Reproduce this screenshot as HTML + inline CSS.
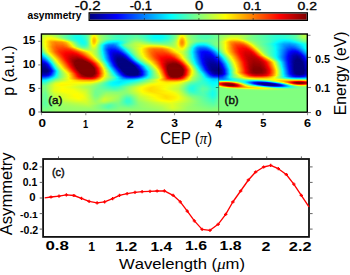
<!DOCTYPE html>
<html><head><meta charset="utf-8"><style>
html,body{margin:0;padding:0;background:#fff;width:350px;height:275px;overflow:hidden}
svg{display:block;font-family:"Liberation Sans",sans-serif;font-kerning:none}
</style></head><body><svg width="350" height="275" viewBox="0 0 350 275" font-family="Liberation Sans, sans-serif" fill="#000"><defs><linearGradient id="cb"><stop offset="0.0000" stop-color="#000080"/><stop offset="0.0312" stop-color="#00009f"/><stop offset="0.0625" stop-color="#0000bf"/><stop offset="0.0938" stop-color="#0000df"/><stop offset="0.1250" stop-color="#0000ff"/><stop offset="0.1562" stop-color="#0020ff"/><stop offset="0.1875" stop-color="#0040ff"/><stop offset="0.2188" stop-color="#0060ff"/><stop offset="0.2500" stop-color="#0080ff"/><stop offset="0.2812" stop-color="#009fff"/><stop offset="0.3125" stop-color="#00bfff"/><stop offset="0.3438" stop-color="#00dfff"/><stop offset="0.3750" stop-color="#00ffff"/><stop offset="0.4062" stop-color="#20ffdf"/><stop offset="0.4375" stop-color="#40ffbf"/><stop offset="0.4688" stop-color="#60ff9f"/><stop offset="0.5000" stop-color="#80ff80"/><stop offset="0.5312" stop-color="#9fff60"/><stop offset="0.5625" stop-color="#bfff40"/><stop offset="0.5938" stop-color="#dfff20"/><stop offset="0.6250" stop-color="#ffff00"/><stop offset="0.6562" stop-color="#ffdf00"/><stop offset="0.6875" stop-color="#ffbf00"/><stop offset="0.7188" stop-color="#ff9f00"/><stop offset="0.7500" stop-color="#ff7f00"/><stop offset="0.7812" stop-color="#ff6000"/><stop offset="0.8125" stop-color="#ff4000"/><stop offset="0.8438" stop-color="#ff2000"/><stop offset="0.8750" stop-color="#ff0000"/><stop offset="0.9062" stop-color="#df0000"/><stop offset="0.9375" stop-color="#bf0000"/><stop offset="0.9688" stop-color="#9f0000"/><stop offset="1.0000" stop-color="#800000"/></linearGradient></defs><rect x="89.9" y="13.5" width="216.8" height="6.2" fill="url(#cb)"/><rect x="89.15" y="12.85" width="218.2" height="7.5" fill="none" stroke="#000" stroke-width="1.3"/><line x1="144.4" y1="13.5" x2="144.4" y2="15" stroke="#222" stroke-width="0.8"/><line x1="144.4" y1="18.2" x2="144.4" y2="19.7" stroke="#222" stroke-width="0.8"/><line x1="198.9" y1="13.5" x2="198.9" y2="15" stroke="#222" stroke-width="0.8"/><line x1="198.9" y1="18.2" x2="198.9" y2="19.7" stroke="#222" stroke-width="0.8"/><line x1="253.2" y1="13.5" x2="253.2" y2="15" stroke="#222" stroke-width="0.8"/><line x1="253.2" y1="18.2" x2="253.2" y2="19.7" stroke="#222" stroke-width="0.8"/><text transform="matrix(0.7527 0 0 0.5936 74.723 9.681)" font-size="20" font-family="Liberation Sans, sans-serif" fill="#000" stroke="#000" stroke-width="0.520" stroke-linejoin="round">-0.2</text><text transform="matrix(0.6472 0 0 0.5936 129.717 9.681)" font-size="20" font-family="Liberation Sans, sans-serif" fill="#000" stroke="#000" stroke-width="0.564" stroke-linejoin="round">-0.1</text><text transform="matrix(0.7435 0 0 0.6007 195.105 9.780)" font-size="20" font-family="Liberation Sans, sans-serif" fill="#000" stroke="#000" stroke-width="0.521" stroke-linejoin="round">0</text><text transform="matrix(0.6564 0 0 0.5866 243.175 9.683)" font-size="20" font-family="Liberation Sans, sans-serif" fill="#000" stroke="#000" stroke-width="0.563" stroke-linejoin="round">0.1</text><text transform="matrix(0.7000 0 0 0.5866 297.540 9.683)" font-size="20" font-family="Liberation Sans, sans-serif" fill="#000" stroke="#000" stroke-width="0.544" stroke-linejoin="round">0.2</text><text transform="matrix(0.5110 0 0 0.5058 27.493 19.301)" font-size="20" font-family="Liberation Sans, sans-serif" font-weight="bold" fill="#000">asymmetry</text><defs><linearGradient id="g0" gradientUnits="objectBoundingBox"><stop offset="0.0019" stop-color="#afff50"/><stop offset="0.0245" stop-color="#bcff43"/><stop offset="0.0585" stop-color="#93ff6c"/><stop offset="0.1226" stop-color="#2dffd2"/><stop offset="0.1453" stop-color="#2bffd4"/><stop offset="0.1679" stop-color="#59ffa6"/><stop offset="0.1792" stop-color="#8aff75"/><stop offset="0.1906" stop-color="#d2ff2d"/><stop offset="0.1981" stop-color="#e5ff1a"/><stop offset="0.2094" stop-color="#bbff44"/><stop offset="0.2245" stop-color="#8fff70"/><stop offset="0.2774" stop-color="#4dffb2"/><stop offset="0.3113" stop-color="#49ffb6"/><stop offset="0.3566" stop-color="#5fffa0"/><stop offset="0.3906" stop-color="#3fffc0"/><stop offset="0.4283" stop-color="#13ffec"/><stop offset="0.4585" stop-color="#1cffe3"/><stop offset="0.4925" stop-color="#57ffa8"/><stop offset="0.5075" stop-color="#85ff7a"/><stop offset="0.5226" stop-color="#d4ff2b"/><stop offset="0.5302" stop-color="#e2ff1d"/><stop offset="0.5415" stop-color="#bbff44"/><stop offset="0.5566" stop-color="#8cff73"/><stop offset="0.6019" stop-color="#58ffa7"/><stop offset="0.6358" stop-color="#5effa1"/><stop offset="0.7189" stop-color="#abff54"/><stop offset="0.7566" stop-color="#a1ff5e"/><stop offset="0.8094" stop-color="#6eff91"/><stop offset="0.8887" stop-color="#37ffc8"/><stop offset="0.9340" stop-color="#45ffba"/><stop offset="0.9604" stop-color="#66ff99"/><stop offset="0.9868" stop-color="#b1ff4e"/><stop offset="0.9981" stop-color="#abff54"/></linearGradient><linearGradient id="g1" gradientUnits="objectBoundingBox"><stop offset="0.0019" stop-color="#b4ff4b"/><stop offset="0.0245" stop-color="#caff35"/><stop offset="0.0472" stop-color="#b0ff4f"/><stop offset="0.1226" stop-color="#22ffdd"/><stop offset="0.1453" stop-color="#1effe1"/><stop offset="0.1642" stop-color="#45ffba"/><stop offset="0.1755" stop-color="#75ff8a"/><stop offset="0.1906" stop-color="#e4ff1b"/><stop offset="0.1943" stop-color="#f6ff09"/><stop offset="0.1981" stop-color="#faff05"/><stop offset="0.2057" stop-color="#dcff23"/><stop offset="0.2170" stop-color="#a4ff5b"/><stop offset="0.2509" stop-color="#64ff9b"/><stop offset="0.2887" stop-color="#3fffc0"/><stop offset="0.3226" stop-color="#4affb5"/><stop offset="0.3566" stop-color="#5cffa3"/><stop offset="0.3830" stop-color="#43ffbc"/><stop offset="0.4245" stop-color="#08fff7"/><stop offset="0.4509" stop-color="#08fff7"/><stop offset="0.4811" stop-color="#37ffc8"/><stop offset="0.5038" stop-color="#76ff89"/><stop offset="0.5151" stop-color="#b5ff4a"/><stop offset="0.5226" stop-color="#e6ff19"/><stop offset="0.5302" stop-color="#f8ff07"/><stop offset="0.5377" stop-color="#dcff23"/><stop offset="0.5528" stop-color="#96ff69"/><stop offset="0.5906" stop-color="#5affa5"/><stop offset="0.6208" stop-color="#4dffb2"/><stop offset="0.6660" stop-color="#77ff88"/><stop offset="0.6698" stop-color="#86ff79"/><stop offset="0.7189" stop-color="#bbff44"/><stop offset="0.7491" stop-color="#b4ff4b"/><stop offset="0.8019" stop-color="#71ff8e"/><stop offset="0.8887" stop-color="#2effd1"/><stop offset="0.9302" stop-color="#3affc5"/><stop offset="0.9604" stop-color="#63ff9c"/><stop offset="0.9868" stop-color="#b6ff49"/><stop offset="0.9981" stop-color="#b0ff4f"/></linearGradient><linearGradient id="g2" gradientUnits="objectBoundingBox"><stop offset="0.0019" stop-color="#bcff43"/><stop offset="0.0208" stop-color="#deff21"/><stop offset="0.0396" stop-color="#d2ff2d"/><stop offset="0.0887" stop-color="#5bffa4"/><stop offset="0.1264" stop-color="#16ffe9"/><stop offset="0.1453" stop-color="#15ffea"/><stop offset="0.1642" stop-color="#3effc1"/><stop offset="0.1755" stop-color="#74ff8b"/><stop offset="0.1906" stop-color="#f7ff08"/><stop offset="0.1981" stop-color="#ffee00"/><stop offset="0.2019" stop-color="#fffb00"/><stop offset="0.2170" stop-color="#a9ff56"/><stop offset="0.2396" stop-color="#75ff8a"/><stop offset="0.2811" stop-color="#3fffc0"/><stop offset="0.3113" stop-color="#3effc1"/><stop offset="0.3566" stop-color="#5effa1"/><stop offset="0.3830" stop-color="#42ffbd"/><stop offset="0.4245" stop-color="#01fffe"/><stop offset="0.4547" stop-color="#05fffa"/><stop offset="0.4849" stop-color="#3cffc3"/><stop offset="0.5038" stop-color="#79ff86"/><stop offset="0.5151" stop-color="#c1ff3e"/><stop offset="0.5226" stop-color="#fbff04"/><stop offset="0.5302" stop-color="#ffef00"/><stop offset="0.5340" stop-color="#fffb00"/><stop offset="0.5491" stop-color="#a9ff56"/><stop offset="0.5642" stop-color="#7fff80"/><stop offset="0.6019" stop-color="#4cffb3"/><stop offset="0.6321" stop-color="#4fffb0"/><stop offset="0.6660" stop-color="#75ff8a"/><stop offset="0.6698" stop-color="#88ff77"/><stop offset="0.7151" stop-color="#c8ff37"/><stop offset="0.7453" stop-color="#c4ff3b"/><stop offset="0.7943" stop-color="#77ff88"/><stop offset="0.8811" stop-color="#2bffd4"/><stop offset="0.9189" stop-color="#2effd1"/><stop offset="0.9566" stop-color="#57ffa8"/><stop offset="0.9868" stop-color="#b5ff4a"/><stop offset="0.9981" stop-color="#afff50"/></linearGradient><linearGradient id="g3" gradientUnits="objectBoundingBox"><stop offset="0.0019" stop-color="#c5ff3a"/><stop offset="0.0208" stop-color="#f0ff0f"/><stop offset="0.0358" stop-color="#eeff11"/><stop offset="0.0547" stop-color="#c7ff38"/><stop offset="0.0849" stop-color="#65ff9a"/><stop offset="0.1264" stop-color="#14ffeb"/><stop offset="0.1453" stop-color="#0ffff0"/><stop offset="0.1604" stop-color="#2bffd4"/><stop offset="0.1717" stop-color="#5cffa3"/><stop offset="0.1792" stop-color="#94ff6b"/><stop offset="0.1868" stop-color="#e4ff1b"/><stop offset="0.1906" stop-color="#fff500"/><stop offset="0.1943" stop-color="#ffde00"/><stop offset="0.1981" stop-color="#ffda00"/><stop offset="0.2057" stop-color="#fbff04"/><stop offset="0.2132" stop-color="#c2ff3d"/><stop offset="0.2245" stop-color="#95ff6a"/><stop offset="0.2660" stop-color="#4dffb2"/><stop offset="0.2962" stop-color="#39ffc6"/><stop offset="0.3340" stop-color="#54ffab"/><stop offset="0.3604" stop-color="#63ff9c"/><stop offset="0.3868" stop-color="#3fffc0"/><stop offset="0.4245" stop-color="#01fffe"/><stop offset="0.4547" stop-color="#05fffa"/><stop offset="0.4849" stop-color="#3dffc2"/><stop offset="0.5038" stop-color="#7eff81"/><stop offset="0.5151" stop-color="#d0ff2f"/><stop offset="0.5189" stop-color="#f2ff0d"/><stop offset="0.5226" stop-color="#ffed00"/><stop offset="0.5264" stop-color="#ffd900"/><stop offset="0.5302" stop-color="#ffd700"/><stop offset="0.5377" stop-color="#fffe00"/><stop offset="0.5491" stop-color="#b0ff4f"/><stop offset="0.5642" stop-color="#81ff7e"/><stop offset="0.5981" stop-color="#4fffb0"/><stop offset="0.6283" stop-color="#4cffb3"/><stop offset="0.6660" stop-color="#75ff8a"/><stop offset="0.6698" stop-color="#8dff72"/><stop offset="0.7113" stop-color="#d9ff26"/><stop offset="0.7377" stop-color="#dbff24"/><stop offset="0.7604" stop-color="#b1ff4e"/><stop offset="0.7868" stop-color="#7cff83"/><stop offset="0.8736" stop-color="#30ffcf"/><stop offset="0.9113" stop-color="#2affd5"/><stop offset="0.9528" stop-color="#50ffaf"/><stop offset="0.9717" stop-color="#82ff7d"/><stop offset="0.9868" stop-color="#adff52"/><stop offset="0.9981" stop-color="#a8ff57"/></linearGradient><linearGradient id="g4" gradientUnits="objectBoundingBox"><stop offset="0.0019" stop-color="#caff35"/><stop offset="0.0208" stop-color="#fdff02"/><stop offset="0.0358" stop-color="#fffa00"/><stop offset="0.0547" stop-color="#e5ff1a"/><stop offset="0.0736" stop-color="#abff54"/><stop offset="0.1000" stop-color="#4bffb4"/><stop offset="0.1302" stop-color="#12ffed"/><stop offset="0.1491" stop-color="#0efff1"/><stop offset="0.1642" stop-color="#33ffcc"/><stop offset="0.1755" stop-color="#75ff8a"/><stop offset="0.1868" stop-color="#f0ff0f"/><stop offset="0.1906" stop-color="#ffe500"/><stop offset="0.1943" stop-color="#ffcc00"/><stop offset="0.1981" stop-color="#ffc800"/><stop offset="0.2019" stop-color="#ffd900"/><stop offset="0.2057" stop-color="#fff700"/><stop offset="0.2170" stop-color="#b4ff4b"/><stop offset="0.2321" stop-color="#88ff77"/><stop offset="0.2736" stop-color="#49ffb6"/><stop offset="0.3038" stop-color="#3fffc0"/><stop offset="0.3566" stop-color="#6eff91"/><stop offset="0.3792" stop-color="#57ffa8"/><stop offset="0.4170" stop-color="#10ffef"/><stop offset="0.4434" stop-color="#04fffb"/><stop offset="0.4736" stop-color="#28ffd7"/><stop offset="0.4962" stop-color="#65ff9a"/><stop offset="0.5075" stop-color="#9dff62"/><stop offset="0.5189" stop-color="#fff900"/><stop offset="0.5226" stop-color="#ffd700"/><stop offset="0.5264" stop-color="#ffc200"/><stop offset="0.5302" stop-color="#ffbf00"/><stop offset="0.5340" stop-color="#ffcf00"/><stop offset="0.5377" stop-color="#ffec00"/><stop offset="0.5415" stop-color="#f1ff0e"/><stop offset="0.5491" stop-color="#b9ff46"/><stop offset="0.5604" stop-color="#8eff71"/><stop offset="0.5906" stop-color="#5bffa4"/><stop offset="0.6208" stop-color="#4dffb2"/><stop offset="0.6660" stop-color="#77ff88"/><stop offset="0.6698" stop-color="#92ff6d"/><stop offset="0.7075" stop-color="#e9ff16"/><stop offset="0.7340" stop-color="#efff10"/><stop offset="0.7528" stop-color="#c8ff37"/><stop offset="0.7755" stop-color="#8aff75"/><stop offset="0.8094" stop-color="#6bff94"/><stop offset="0.8962" stop-color="#20ffdf"/><stop offset="0.9302" stop-color="#2affd5"/><stop offset="0.9604" stop-color="#55ffaa"/><stop offset="0.9868" stop-color="#9dff62"/><stop offset="0.9981" stop-color="#9cff63"/></linearGradient><linearGradient id="g5" gradientUnits="objectBoundingBox"><stop offset="0.0019" stop-color="#cdff32"/><stop offset="0.0170" stop-color="#fcff03"/><stop offset="0.0358" stop-color="#ffe900"/><stop offset="0.0585" stop-color="#f9ff06"/><stop offset="0.0774" stop-color="#c9ff36"/><stop offset="0.1113" stop-color="#42ffbd"/><stop offset="0.1340" stop-color="#12ffed"/><stop offset="0.1491" stop-color="#0bfff4"/><stop offset="0.1642" stop-color="#2cffd3"/><stop offset="0.1717" stop-color="#55ffaa"/><stop offset="0.1792" stop-color="#9aff65"/><stop offset="0.1868" stop-color="#f9ff06"/><stop offset="0.1943" stop-color="#ffc000"/><stop offset="0.1981" stop-color="#ffbc00"/><stop offset="0.2019" stop-color="#ffce00"/><stop offset="0.2057" stop-color="#ffee00"/><stop offset="0.2094" stop-color="#eeff11"/><stop offset="0.2170" stop-color="#b8ff47"/><stop offset="0.2321" stop-color="#84ff7b"/><stop offset="0.2585" stop-color="#4cffb3"/><stop offset="0.2887" stop-color="#35ffca"/><stop offset="0.3226" stop-color="#54ffab"/><stop offset="0.3566" stop-color="#7bff84"/><stop offset="0.3755" stop-color="#6bff94"/><stop offset="0.4170" stop-color="#1dffe2"/><stop offset="0.4434" stop-color="#12ffed"/><stop offset="0.4736" stop-color="#33ffcc"/><stop offset="0.4962" stop-color="#6eff91"/><stop offset="0.5075" stop-color="#a8ff57"/><stop offset="0.5151" stop-color="#eeff11"/><stop offset="0.5189" stop-color="#ffe700"/><stop offset="0.5226" stop-color="#ffc300"/><stop offset="0.5264" stop-color="#ffac00"/><stop offset="0.5302" stop-color="#ffaa00"/><stop offset="0.5340" stop-color="#ffbc00"/><stop offset="0.5415" stop-color="#feff01"/><stop offset="0.5491" stop-color="#c1ff3e"/><stop offset="0.5604" stop-color="#94ff6b"/><stop offset="0.5868" stop-color="#66ff99"/><stop offset="0.6170" stop-color="#55ffaa"/><stop offset="0.6660" stop-color="#7bff84"/><stop offset="0.6698" stop-color="#90ff6f"/><stop offset="0.6887" stop-color="#c7ff38"/><stop offset="0.7038" stop-color="#fcff03"/><stop offset="0.7226" stop-color="#ffea00"/><stop offset="0.7415" stop-color="#fff800"/><stop offset="0.7491" stop-color="#f2ff0d"/><stop offset="0.7792" stop-color="#8eff71"/><stop offset="0.8094" stop-color="#6eff91"/><stop offset="0.8698" stop-color="#31ffce"/><stop offset="0.9075" stop-color="#0afff5"/><stop offset="0.9340" stop-color="#14ffeb"/><stop offset="0.9642" stop-color="#4dffb2"/><stop offset="0.9868" stop-color="#89ff76"/><stop offset="0.9981" stop-color="#8dff72"/></linearGradient><linearGradient id="g6" gradientUnits="objectBoundingBox"><stop offset="0.0019" stop-color="#d2ff2d"/><stop offset="0.0132" stop-color="#fdff02"/><stop offset="0.0321" stop-color="#ffc900"/><stop offset="0.0509" stop-color="#ffc800"/><stop offset="0.0736" stop-color="#ffec00"/><stop offset="0.0811" stop-color="#f9ff06"/><stop offset="0.1151" stop-color="#53ffac"/><stop offset="0.1340" stop-color="#1bffe4"/><stop offset="0.1491" stop-color="#0afff5"/><stop offset="0.1604" stop-color="#19ffe6"/><stop offset="0.1717" stop-color="#50ffaf"/><stop offset="0.1792" stop-color="#9aff65"/><stop offset="0.1868" stop-color="#fdff02"/><stop offset="0.1906" stop-color="#ffd500"/><stop offset="0.1943" stop-color="#ffba00"/><stop offset="0.1981" stop-color="#ffb700"/><stop offset="0.2019" stop-color="#ffca00"/><stop offset="0.2057" stop-color="#ffea00"/><stop offset="0.2094" stop-color="#efff10"/><stop offset="0.2208" stop-color="#a1ff5e"/><stop offset="0.2472" stop-color="#41ffbe"/><stop offset="0.2698" stop-color="#1dffe2"/><stop offset="0.2887" stop-color="#1cffe3"/><stop offset="0.3491" stop-color="#85ff7a"/><stop offset="0.3679" stop-color="#86ff79"/><stop offset="0.4170" stop-color="#2effd1"/><stop offset="0.4472" stop-color="#25ffda"/><stop offset="0.4774" stop-color="#48ffb7"/><stop offset="0.5000" stop-color="#88ff77"/><stop offset="0.5075" stop-color="#b3ff4c"/><stop offset="0.5151" stop-color="#fcff03"/><stop offset="0.5226" stop-color="#ffb200"/><stop offset="0.5264" stop-color="#ff9b00"/><stop offset="0.5302" stop-color="#ff9900"/><stop offset="0.5340" stop-color="#ffac00"/><stop offset="0.5415" stop-color="#fff400"/><stop offset="0.5491" stop-color="#c9ff36"/><stop offset="0.5604" stop-color="#9aff65"/><stop offset="0.5906" stop-color="#6aff95"/><stop offset="0.6245" stop-color="#61ff9e"/><stop offset="0.6660" stop-color="#7fff80"/><stop offset="0.6736" stop-color="#9cff63"/><stop offset="0.6925" stop-color="#e6ff19"/><stop offset="0.7000" stop-color="#fff500"/><stop offset="0.7151" stop-color="#ffc900"/><stop offset="0.7377" stop-color="#ffc800"/><stop offset="0.7528" stop-color="#ffee00"/><stop offset="0.7566" stop-color="#fffd00"/><stop offset="0.7830" stop-color="#97ff68"/><stop offset="0.8057" stop-color="#74ff8b"/><stop offset="0.8585" stop-color="#43ffbc"/><stop offset="0.9000" stop-color="#00ffff"/><stop offset="0.9226" stop-color="#00f3ff"/><stop offset="0.9415" stop-color="#09fff6"/><stop offset="0.9868" stop-color="#77ff88"/><stop offset="0.9981" stop-color="#80ff7f"/></linearGradient><linearGradient id="g7" gradientUnits="objectBoundingBox"><stop offset="0.0019" stop-color="#d3ff2c"/><stop offset="0.0132" stop-color="#fffa00"/><stop offset="0.0321" stop-color="#ffb000"/><stop offset="0.0472" stop-color="#ff9a00"/><stop offset="0.0736" stop-color="#ffb000"/><stop offset="0.0887" stop-color="#ffe000"/><stop offset="0.0962" stop-color="#f6ff09"/><stop offset="0.1226" stop-color="#58ffa7"/><stop offset="0.1377" stop-color="#1fffe0"/><stop offset="0.1528" stop-color="#0afff5"/><stop offset="0.1642" stop-color="#20ffdf"/><stop offset="0.1717" stop-color="#4bffb4"/><stop offset="0.1792" stop-color="#97ff68"/><stop offset="0.1868" stop-color="#fdff02"/><stop offset="0.1906" stop-color="#ffd600"/><stop offset="0.1943" stop-color="#ffbc00"/><stop offset="0.1981" stop-color="#ffb900"/><stop offset="0.2019" stop-color="#ffcd00"/><stop offset="0.2057" stop-color="#ffef00"/><stop offset="0.2094" stop-color="#eaff15"/><stop offset="0.2208" stop-color="#95ff6a"/><stop offset="0.2434" stop-color="#2fffd0"/><stop offset="0.2585" stop-color="#08fff7"/><stop offset="0.2849" stop-color="#00fdff"/><stop offset="0.3000" stop-color="#1bffe4"/><stop offset="0.3377" stop-color="#81ff7e"/><stop offset="0.3604" stop-color="#9cff63"/><stop offset="0.3830" stop-color="#82ff7d"/><stop offset="0.4170" stop-color="#47ffb8"/><stop offset="0.4472" stop-color="#3bffc4"/><stop offset="0.4774" stop-color="#57ffa8"/><stop offset="0.4962" stop-color="#84ff7b"/><stop offset="0.5075" stop-color="#bdff42"/><stop offset="0.5151" stop-color="#fff800"/><stop offset="0.5226" stop-color="#ffa700"/><stop offset="0.5264" stop-color="#ff9000"/><stop offset="0.5302" stop-color="#ff8e00"/><stop offset="0.5340" stop-color="#ffa200"/><stop offset="0.5415" stop-color="#ffec00"/><stop offset="0.5453" stop-color="#edff12"/><stop offset="0.5528" stop-color="#baff45"/><stop offset="0.5717" stop-color="#83ff7c"/><stop offset="0.5981" stop-color="#5bffa4"/><stop offset="0.6245" stop-color="#5cffa3"/><stop offset="0.6660" stop-color="#83ff7c"/><stop offset="0.6698" stop-color="#9dff62"/><stop offset="0.6849" stop-color="#d7ff28"/><stop offset="0.6925" stop-color="#feff01"/><stop offset="0.7113" stop-color="#ffac00"/><stop offset="0.7264" stop-color="#ff9600"/><stop offset="0.7453" stop-color="#ffa300"/><stop offset="0.7604" stop-color="#ffd700"/><stop offset="0.7679" stop-color="#fffe00"/><stop offset="0.7868" stop-color="#a7ff58"/><stop offset="0.8057" stop-color="#7cff83"/><stop offset="0.8585" stop-color="#44ffbb"/><stop offset="0.8925" stop-color="#00feff"/><stop offset="0.9151" stop-color="#00ddff"/><stop offset="0.9340" stop-color="#00e3ff"/><stop offset="0.9528" stop-color="#07fff8"/><stop offset="0.9906" stop-color="#69ff96"/><stop offset="0.9981" stop-color="#71ff8e"/></linearGradient><linearGradient id="g8" gradientUnits="objectBoundingBox"><stop offset="0.0019" stop-color="#d1ff2e"/><stop offset="0.0132" stop-color="#fffa00"/><stop offset="0.0358" stop-color="#ff9a00"/><stop offset="0.0509" stop-color="#ff8000"/><stop offset="0.0774" stop-color="#ff9100"/><stop offset="0.0887" stop-color="#ffb100"/><stop offset="0.1038" stop-color="#faff05"/><stop offset="0.1264" stop-color="#64ff9b"/><stop offset="0.1415" stop-color="#20ffdf"/><stop offset="0.1528" stop-color="#0cfff3"/><stop offset="0.1642" stop-color="#1dffe2"/><stop offset="0.1717" stop-color="#48ffb7"/><stop offset="0.1792" stop-color="#94ff6b"/><stop offset="0.1868" stop-color="#f7ff08"/><stop offset="0.1943" stop-color="#ffc500"/><stop offset="0.1981" stop-color="#ffc400"/><stop offset="0.2019" stop-color="#ffd800"/><stop offset="0.2057" stop-color="#fff900"/><stop offset="0.2208" stop-color="#84ff7b"/><stop offset="0.2434" stop-color="#0afff5"/><stop offset="0.2509" stop-color="#00efff"/><stop offset="0.2698" stop-color="#00d7ff"/><stop offset="0.2849" stop-color="#00e0ff"/><stop offset="0.2962" stop-color="#02fffd"/><stop offset="0.3264" stop-color="#70ff8f"/><stop offset="0.3528" stop-color="#a8ff57"/><stop offset="0.3717" stop-color="#abff54"/><stop offset="0.4170" stop-color="#66ff99"/><stop offset="0.4547" stop-color="#56ffa9"/><stop offset="0.4811" stop-color="#6cff93"/><stop offset="0.5000" stop-color="#9cff63"/><stop offset="0.5075" stop-color="#c5ff3a"/><stop offset="0.5113" stop-color="#e5ff1a"/><stop offset="0.5151" stop-color="#fff200"/><stop offset="0.5226" stop-color="#ffa200"/><stop offset="0.5264" stop-color="#ff8c00"/><stop offset="0.5302" stop-color="#ff8a00"/><stop offset="0.5340" stop-color="#ff9e00"/><stop offset="0.5415" stop-color="#ffe800"/><stop offset="0.5453" stop-color="#f1ff0e"/><stop offset="0.5528" stop-color="#bcff43"/><stop offset="0.5830" stop-color="#54ffab"/><stop offset="0.6019" stop-color="#38ffc7"/><stop offset="0.6208" stop-color="#40ffbf"/><stop offset="0.6547" stop-color="#7eff81"/><stop offset="0.6660" stop-color="#87ff78"/><stop offset="0.6698" stop-color="#a1ff5e"/><stop offset="0.6849" stop-color="#dfff20"/><stop offset="0.6925" stop-color="#fff600"/><stop offset="0.7113" stop-color="#ff9700"/><stop offset="0.7264" stop-color="#ff7500"/><stop offset="0.7453" stop-color="#ff7900"/><stop offset="0.7604" stop-color="#ffa500"/><stop offset="0.7755" stop-color="#fff900"/><stop offset="0.7943" stop-color="#a5ff5a"/><stop offset="0.8132" stop-color="#79ff86"/><stop offset="0.8585" stop-color="#3fffc0"/><stop offset="0.8849" stop-color="#02fffd"/><stop offset="0.9151" stop-color="#00c6ff"/><stop offset="0.9340" stop-color="#00c5ff"/><stop offset="0.9566" stop-color="#00eeff"/><stop offset="0.9679" stop-color="#0ffff0"/><stop offset="0.9981" stop-color="#59ffa6"/></linearGradient><linearGradient id="g9" gradientUnits="objectBoundingBox"><stop offset="0.0019" stop-color="#ceff31"/><stop offset="0.0132" stop-color="#ffff00"/><stop offset="0.0358" stop-color="#ff9900"/><stop offset="0.0509" stop-color="#ff7900"/><stop offset="0.0774" stop-color="#ff8100"/><stop offset="0.0925" stop-color="#ffab00"/><stop offset="0.1075" stop-color="#faff05"/><stop offset="0.1302" stop-color="#62ff9d"/><stop offset="0.1453" stop-color="#20ffdf"/><stop offset="0.1566" stop-color="#11ffee"/><stop offset="0.1642" stop-color="#1fffe0"/><stop offset="0.1717" stop-color="#48ffb7"/><stop offset="0.1792" stop-color="#91ff6e"/><stop offset="0.1868" stop-color="#efff10"/><stop offset="0.1906" stop-color="#ffe800"/><stop offset="0.1943" stop-color="#ffd300"/><stop offset="0.1981" stop-color="#ffd300"/><stop offset="0.2057" stop-color="#f5ff0a"/><stop offset="0.2208" stop-color="#6dff92"/><stop offset="0.2358" stop-color="#06fff9"/><stop offset="0.2509" stop-color="#00c2ff"/><stop offset="0.2698" stop-color="#00aeff"/><stop offset="0.2811" stop-color="#00bdff"/><stop offset="0.2962" stop-color="#00feff"/><stop offset="0.3189" stop-color="#69ff96"/><stop offset="0.3491" stop-color="#aeff51"/><stop offset="0.3679" stop-color="#bfff40"/><stop offset="0.4245" stop-color="#7fff80"/><stop offset="0.4660" stop-color="#6eff91"/><stop offset="0.4887" stop-color="#85ff7a"/><stop offset="0.5038" stop-color="#b4ff4b"/><stop offset="0.5113" stop-color="#e9ff16"/><stop offset="0.5151" stop-color="#fff000"/><stop offset="0.5226" stop-color="#ffa400"/><stop offset="0.5264" stop-color="#ff8f00"/><stop offset="0.5302" stop-color="#ff8e00"/><stop offset="0.5340" stop-color="#ffa200"/><stop offset="0.5415" stop-color="#ffea00"/><stop offset="0.5453" stop-color="#efff10"/><stop offset="0.5566" stop-color="#a4ff5b"/><stop offset="0.5830" stop-color="#32ffcd"/><stop offset="0.5981" stop-color="#18ffe7"/><stop offset="0.6170" stop-color="#20ffdf"/><stop offset="0.6509" stop-color="#79ff86"/><stop offset="0.6660" stop-color="#8aff75"/><stop offset="0.6736" stop-color="#acff53"/><stop offset="0.6925" stop-color="#fff900"/><stop offset="0.7151" stop-color="#ff8100"/><stop offset="0.7302" stop-color="#ff5d00"/><stop offset="0.7491" stop-color="#ff5e00"/><stop offset="0.7604" stop-color="#ff7b00"/><stop offset="0.7755" stop-color="#ffce00"/><stop offset="0.7830" stop-color="#feff01"/><stop offset="0.7981" stop-color="#abff54"/><stop offset="0.8132" stop-color="#7eff81"/><stop offset="0.8585" stop-color="#35ffca"/><stop offset="0.8811" stop-color="#00fbff"/><stop offset="0.9113" stop-color="#00b3ff"/><stop offset="0.9340" stop-color="#00a6ff"/><stop offset="0.9566" stop-color="#00caff"/><stop offset="0.9755" stop-color="#00feff"/><stop offset="0.9981" stop-color="#3cffc3"/></linearGradient><linearGradient id="g10" gradientUnits="objectBoundingBox"><stop offset="0.0019" stop-color="#caff35"/><stop offset="0.0132" stop-color="#fcff03"/><stop offset="0.0396" stop-color="#ff8a00"/><stop offset="0.0547" stop-color="#ff6e00"/><stop offset="0.0811" stop-color="#ff7600"/><stop offset="0.0925" stop-color="#ff9600"/><stop offset="0.1113" stop-color="#f8ff07"/><stop offset="0.1340" stop-color="#61ff9e"/><stop offset="0.1491" stop-color="#25ffda"/><stop offset="0.1604" stop-color="#1fffe0"/><stop offset="0.1679" stop-color="#36ffc9"/><stop offset="0.1755" stop-color="#6bff94"/><stop offset="0.1868" stop-color="#e5ff1a"/><stop offset="0.1906" stop-color="#fff700"/><stop offset="0.1943" stop-color="#ffe600"/><stop offset="0.1981" stop-color="#ffe800"/><stop offset="0.2019" stop-color="#fffd00"/><stop offset="0.2283" stop-color="#11ffee"/><stop offset="0.2321" stop-color="#00f3ff"/><stop offset="0.2434" stop-color="#00acff"/><stop offset="0.2547" stop-color="#008aff"/><stop offset="0.2698" stop-color="#0086ff"/><stop offset="0.2811" stop-color="#00a7ff"/><stop offset="0.2962" stop-color="#08fff7"/><stop offset="0.3113" stop-color="#5fffa0"/><stop offset="0.3340" stop-color="#99ff66"/><stop offset="0.3679" stop-color="#d1ff2e"/><stop offset="0.3981" stop-color="#c1ff3e"/><stop offset="0.4736" stop-color="#86ff79"/><stop offset="0.4925" stop-color="#96ff69"/><stop offset="0.5038" stop-color="#b7ff48"/><stop offset="0.5113" stop-color="#e8ff17"/><stop offset="0.5151" stop-color="#fff300"/><stop offset="0.5226" stop-color="#ffae00"/><stop offset="0.5264" stop-color="#ff9b00"/><stop offset="0.5302" stop-color="#ff9a00"/><stop offset="0.5340" stop-color="#ffac00"/><stop offset="0.5415" stop-color="#fff100"/><stop offset="0.5453" stop-color="#e9ff16"/><stop offset="0.5566" stop-color="#99ff66"/><stop offset="0.5830" stop-color="#0efff1"/><stop offset="0.5906" stop-color="#00f9ff"/><stop offset="0.6094" stop-color="#00f3ff"/><stop offset="0.6208" stop-color="#08fff7"/><stop offset="0.6509" stop-color="#73ff8c"/><stop offset="0.6660" stop-color="#8aff75"/><stop offset="0.6887" stop-color="#ecff13"/><stop offset="0.6925" stop-color="#fffd00"/><stop offset="0.7151" stop-color="#ff7b00"/><stop offset="0.7302" stop-color="#ff4a00"/><stop offset="0.7491" stop-color="#ff4100"/><stop offset="0.7604" stop-color="#ff5300"/><stop offset="0.7717" stop-color="#ff8700"/><stop offset="0.7868" stop-color="#fff000"/><stop offset="0.7906" stop-color="#f3ff0c"/><stop offset="0.8057" stop-color="#a0ff5f"/><stop offset="0.8208" stop-color="#75ff8a"/><stop offset="0.8623" stop-color="#2affd5"/><stop offset="0.8774" stop-color="#00ffff"/><stop offset="0.9113" stop-color="#00a3ff"/><stop offset="0.9340" stop-color="#008eff"/><stop offset="0.9566" stop-color="#00adff"/><stop offset="0.9830" stop-color="#00fbff"/><stop offset="0.9981" stop-color="#28ffd7"/></linearGradient><linearGradient id="g11" gradientUnits="objectBoundingBox"><stop offset="0.0019" stop-color="#c4ff3b"/><stop offset="0.0132" stop-color="#faff05"/><stop offset="0.0396" stop-color="#ff8700"/><stop offset="0.0547" stop-color="#ff6500"/><stop offset="0.0774" stop-color="#ff6200"/><stop offset="0.0925" stop-color="#ff8100"/><stop offset="0.1075" stop-color="#ffd300"/><stop offset="0.1151" stop-color="#f5ff0a"/><stop offset="0.1340" stop-color="#76ff89"/><stop offset="0.1491" stop-color="#38ffc7"/><stop offset="0.1604" stop-color="#30ffcf"/><stop offset="0.1679" stop-color="#43ffbc"/><stop offset="0.1755" stop-color="#71ff8e"/><stop offset="0.1906" stop-color="#f8ff07"/><stop offset="0.1981" stop-color="#fffd00"/><stop offset="0.2019" stop-color="#edff12"/><stop offset="0.2245" stop-color="#1bffe4"/><stop offset="0.2283" stop-color="#00f8ff"/><stop offset="0.2396" stop-color="#00a0ff"/><stop offset="0.2509" stop-color="#0070ff"/><stop offset="0.2660" stop-color="#0065ff"/><stop offset="0.2774" stop-color="#007fff"/><stop offset="0.2887" stop-color="#00c5ff"/><stop offset="0.2962" stop-color="#01fffe"/><stop offset="0.3113" stop-color="#61ff9e"/><stop offset="0.3264" stop-color="#8eff71"/><stop offset="0.3792" stop-color="#e8ff17"/><stop offset="0.4094" stop-color="#edff12"/><stop offset="0.4472" stop-color="#d4ff2b"/><stop offset="0.4811" stop-color="#9eff61"/><stop offset="0.4962" stop-color="#a6ff59"/><stop offset="0.5075" stop-color="#ccff33"/><stop offset="0.5151" stop-color="#fffb00"/><stop offset="0.5226" stop-color="#ffbe00"/><stop offset="0.5264" stop-color="#ffad00"/><stop offset="0.5302" stop-color="#ffad00"/><stop offset="0.5340" stop-color="#ffbd00"/><stop offset="0.5415" stop-color="#fffd00"/><stop offset="0.5566" stop-color="#8fff70"/><stop offset="0.5792" stop-color="#00feff"/><stop offset="0.5906" stop-color="#00d3ff"/><stop offset="0.6094" stop-color="#00cbff"/><stop offset="0.6245" stop-color="#00edff"/><stop offset="0.6283" stop-color="#00fcff"/><stop offset="0.6547" stop-color="#70ff8f"/><stop offset="0.6660" stop-color="#87ff78"/><stop offset="0.6887" stop-color="#eaff15"/><stop offset="0.6925" stop-color="#ffff00"/><stop offset="0.7189" stop-color="#ff6700"/><stop offset="0.7340" stop-color="#ff3700"/><stop offset="0.7528" stop-color="#ff2c00"/><stop offset="0.7642" stop-color="#ff3e00"/><stop offset="0.7755" stop-color="#ff7300"/><stop offset="0.7943" stop-color="#feff01"/><stop offset="0.8094" stop-color="#a3ff5c"/><stop offset="0.8245" stop-color="#76ff89"/><stop offset="0.8623" stop-color="#30ffcf"/><stop offset="0.8811" stop-color="#00f9ff"/><stop offset="0.9151" stop-color="#0094ff"/><stop offset="0.9340" stop-color="#007dff"/><stop offset="0.9528" stop-color="#0090ff"/><stop offset="0.9868" stop-color="#00fcff"/><stop offset="0.9981" stop-color="#22ffdd"/></linearGradient><linearGradient id="g12" gradientUnits="objectBoundingBox"><stop offset="0.0019" stop-color="#bcff43"/><stop offset="0.0132" stop-color="#f8ff07"/><stop offset="0.0396" stop-color="#ff8200"/><stop offset="0.0547" stop-color="#ff5b00"/><stop offset="0.0811" stop-color="#ff5600"/><stop offset="0.0962" stop-color="#ff7c00"/><stop offset="0.1113" stop-color="#ffd500"/><stop offset="0.1151" stop-color="#fff100"/><stop offset="0.1189" stop-color="#f2ff0d"/><stop offset="0.1340" stop-color="#8dff72"/><stop offset="0.1491" stop-color="#4fffb0"/><stop offset="0.1604" stop-color="#45ffba"/><stop offset="0.1717" stop-color="#65ff9a"/><stop offset="0.1906" stop-color="#e9ff16"/><stop offset="0.1943" stop-color="#f3ff0c"/><stop offset="0.1981" stop-color="#efff10"/><stop offset="0.2057" stop-color="#c2ff3d"/><stop offset="0.2245" stop-color="#17ffe8"/><stop offset="0.2283" stop-color="#00f2ff"/><stop offset="0.2396" stop-color="#0094ff"/><stop offset="0.2509" stop-color="#005eff"/><stop offset="0.2660" stop-color="#0051ff"/><stop offset="0.2774" stop-color="#0066ff"/><stop offset="0.2887" stop-color="#00a4ff"/><stop offset="0.3000" stop-color="#00fbff"/><stop offset="0.3151" stop-color="#5fffa0"/><stop offset="0.3302" stop-color="#90ff6f"/><stop offset="0.3906" stop-color="#fffb00"/><stop offset="0.4132" stop-color="#ffe000"/><stop offset="0.4472" stop-color="#ffed00"/><stop offset="0.4585" stop-color="#fbff04"/><stop offset="0.4849" stop-color="#b8ff47"/><stop offset="0.5000" stop-color="#b5ff4a"/><stop offset="0.5113" stop-color="#dfff20"/><stop offset="0.5151" stop-color="#f8ff07"/><stop offset="0.5264" stop-color="#ffc400"/><stop offset="0.5302" stop-color="#ffc400"/><stop offset="0.5377" stop-color="#ffed00"/><stop offset="0.5415" stop-color="#f2ff0d"/><stop offset="0.5717" stop-color="#14ffeb"/><stop offset="0.5755" stop-color="#00f8ff"/><stop offset="0.5868" stop-color="#00b9ff"/><stop offset="0.5981" stop-color="#00a1ff"/><stop offset="0.6132" stop-color="#00a5ff"/><stop offset="0.6245" stop-color="#00c4ff"/><stop offset="0.6358" stop-color="#00fbff"/><stop offset="0.6585" stop-color="#6bff94"/><stop offset="0.6660" stop-color="#7fff80"/><stop offset="0.6925" stop-color="#feff01"/><stop offset="0.7226" stop-color="#ff5600"/><stop offset="0.7377" stop-color="#ff2800"/><stop offset="0.7566" stop-color="#ff1d00"/><stop offset="0.7679" stop-color="#ff2e00"/><stop offset="0.7792" stop-color="#ff6500"/><stop offset="0.7981" stop-color="#fffa00"/><stop offset="0.8132" stop-color="#a5ff5a"/><stop offset="0.8283" stop-color="#76ff89"/><stop offset="0.8660" stop-color="#2cffd3"/><stop offset="0.8811" stop-color="#00fdff"/><stop offset="0.9151" stop-color="#008bff"/><stop offset="0.9340" stop-color="#006bff"/><stop offset="0.9491" stop-color="#0072ff"/><stop offset="0.9679" stop-color="#00a7ff"/><stop offset="0.9906" stop-color="#02fffd"/><stop offset="0.9981" stop-color="#1effe1"/></linearGradient><linearGradient id="g13" gradientUnits="objectBoundingBox"><stop offset="0.0019" stop-color="#b1ff4e"/><stop offset="0.0132" stop-color="#f2ff0d"/><stop offset="0.0170" stop-color="#fff700"/><stop offset="0.0396" stop-color="#ff8200"/><stop offset="0.0547" stop-color="#ff5400"/><stop offset="0.0774" stop-color="#ff4600"/><stop offset="0.0925" stop-color="#ff5500"/><stop offset="0.1075" stop-color="#ff9300"/><stop offset="0.1226" stop-color="#fff900"/><stop offset="0.1415" stop-color="#8dff72"/><stop offset="0.1528" stop-color="#66ff99"/><stop offset="0.1642" stop-color="#62ff9d"/><stop offset="0.1755" stop-color="#86ff79"/><stop offset="0.1906" stop-color="#dbff24"/><stop offset="0.1981" stop-color="#ddff22"/><stop offset="0.2057" stop-color="#b6ff49"/><stop offset="0.2245" stop-color="#13ffec"/><stop offset="0.2283" stop-color="#00eeff"/><stop offset="0.2396" stop-color="#0089ff"/><stop offset="0.2509" stop-color="#004cff"/><stop offset="0.2623" stop-color="#003dff"/><stop offset="0.2774" stop-color="#004dff"/><stop offset="0.2887" stop-color="#0084ff"/><stop offset="0.3038" stop-color="#00f5ff"/><stop offset="0.3113" stop-color="#2effd1"/><stop offset="0.3226" stop-color="#6cff93"/><stop offset="0.3415" stop-color="#a1ff5e"/><stop offset="0.3755" stop-color="#f1ff0e"/><stop offset="0.3830" stop-color="#fff600"/><stop offset="0.4057" stop-color="#ffbe00"/><stop offset="0.4321" stop-color="#ffb200"/><stop offset="0.4547" stop-color="#ffc600"/><stop offset="0.4736" stop-color="#fffe00"/><stop offset="0.4925" stop-color="#caff35"/><stop offset="0.5038" stop-color="#c7ff38"/><stop offset="0.5151" stop-color="#efff10"/><stop offset="0.5189" stop-color="#fffa00"/><stop offset="0.5264" stop-color="#ffdd00"/><stop offset="0.5302" stop-color="#ffde00"/><stop offset="0.5377" stop-color="#fbff04"/><stop offset="0.5717" stop-color="#00faff"/><stop offset="0.5830" stop-color="#00a7ff"/><stop offset="0.5943" stop-color="#007cff"/><stop offset="0.6094" stop-color="#0076ff"/><stop offset="0.6208" stop-color="#008aff"/><stop offset="0.6358" stop-color="#00d1ff"/><stop offset="0.6434" stop-color="#02fffd"/><stop offset="0.6585" stop-color="#57ffa8"/><stop offset="0.6660" stop-color="#72ff8d"/><stop offset="0.6736" stop-color="#a0ff5f"/><stop offset="0.6925" stop-color="#fdff02"/><stop offset="0.7226" stop-color="#ff5500"/><stop offset="0.7377" stop-color="#ff2000"/><stop offset="0.7566" stop-color="#ff0e00"/><stop offset="0.7717" stop-color="#ff1e00"/><stop offset="0.7830" stop-color="#ff5700"/><stop offset="0.8019" stop-color="#fff500"/><stop offset="0.8094" stop-color="#d1ff2e"/><stop offset="0.8208" stop-color="#96ff69"/><stop offset="0.8396" stop-color="#68ff97"/><stop offset="0.8698" stop-color="#27ffd8"/><stop offset="0.8811" stop-color="#02fffd"/><stop offset="0.9226" stop-color="#006eff"/><stop offset="0.9415" stop-color="#0056ff"/><stop offset="0.9566" stop-color="#006bff"/><stop offset="0.9792" stop-color="#00c6ff"/><stop offset="0.9906" stop-color="#00faff"/><stop offset="0.9981" stop-color="#1affe5"/></linearGradient><linearGradient id="g14" gradientUnits="objectBoundingBox"><stop offset="0.0019" stop-color="#a1ff5e"/><stop offset="0.0170" stop-color="#ffff00"/><stop offset="0.0434" stop-color="#ff7500"/><stop offset="0.0585" stop-color="#ff4800"/><stop offset="0.0849" stop-color="#ff3800"/><stop offset="0.1000" stop-color="#ff4b00"/><stop offset="0.1151" stop-color="#ff8900"/><stop offset="0.1340" stop-color="#faff05"/><stop offset="0.1491" stop-color="#a2ff5d"/><stop offset="0.1604" stop-color="#83ff7c"/><stop offset="0.1717" stop-color="#89ff76"/><stop offset="0.1906" stop-color="#ceff31"/><stop offset="0.1981" stop-color="#cdff32"/><stop offset="0.2057" stop-color="#abff54"/><stop offset="0.2208" stop-color="#35ffca"/><stop offset="0.2245" stop-color="#11ffee"/><stop offset="0.2283" stop-color="#00eaff"/><stop offset="0.2396" stop-color="#007eff"/><stop offset="0.2472" stop-color="#004bff"/><stop offset="0.2585" stop-color="#0029ff"/><stop offset="0.2736" stop-color="#002dff"/><stop offset="0.2849" stop-color="#0050ff"/><stop offset="0.2962" stop-color="#0096ff"/><stop offset="0.3075" stop-color="#00eeff"/><stop offset="0.3113" stop-color="#0cfff3"/><stop offset="0.3264" stop-color="#68ff97"/><stop offset="0.3491" stop-color="#aeff51"/><stop offset="0.3755" stop-color="#feff01"/><stop offset="0.4019" stop-color="#ffa300"/><stop offset="0.4208" stop-color="#ff8700"/><stop offset="0.4509" stop-color="#ff8e00"/><stop offset="0.4698" stop-color="#ffbd00"/><stop offset="0.4887" stop-color="#faff05"/><stop offset="0.5000" stop-color="#dcff23"/><stop offset="0.5113" stop-color="#e0ff1f"/><stop offset="0.5226" stop-color="#fffa00"/><stop offset="0.5302" stop-color="#fff700"/><stop offset="0.5340" stop-color="#faff05"/><stop offset="0.5566" stop-color="#66ff99"/><stop offset="0.5679" stop-color="#0bfff4"/><stop offset="0.5755" stop-color="#00c8ff"/><stop offset="0.5868" stop-color="#007aff"/><stop offset="0.5981" stop-color="#0057ff"/><stop offset="0.6170" stop-color="#005bff"/><stop offset="0.6283" stop-color="#007fff"/><stop offset="0.6472" stop-color="#00f5ff"/><stop offset="0.6547" stop-color="#28ffd7"/><stop offset="0.6660" stop-color="#62ff9d"/><stop offset="0.6736" stop-color="#97ff68"/><stop offset="0.6925" stop-color="#fcff03"/><stop offset="0.7264" stop-color="#ff4400"/><stop offset="0.7415" stop-color="#ff1100"/><stop offset="0.7604" stop-color="#fe0000"/><stop offset="0.7717" stop-color="#ff0600"/><stop offset="0.7830" stop-color="#ff3100"/><stop offset="0.7943" stop-color="#ff8800"/><stop offset="0.8057" stop-color="#ffef00"/><stop offset="0.8094" stop-color="#efff10"/><stop offset="0.8208" stop-color="#a6ff59"/><stop offset="0.8358" stop-color="#74ff8b"/><stop offset="0.8698" stop-color="#2bffd4"/><stop offset="0.8811" stop-color="#05fffa"/><stop offset="0.9264" stop-color="#0057ff"/><stop offset="0.9415" stop-color="#0040ff"/><stop offset="0.9528" stop-color="#0047ff"/><stop offset="0.9679" stop-color="#0079ff"/><stop offset="0.9943" stop-color="#01fffe"/><stop offset="0.9981" stop-color="#12ffed"/></linearGradient><linearGradient id="g15" gradientUnits="objectBoundingBox"><stop offset="0.0019" stop-color="#8fff70"/><stop offset="0.0170" stop-color="#f6ff09"/><stop offset="0.0245" stop-color="#ffdb00"/><stop offset="0.0472" stop-color="#ff6800"/><stop offset="0.0660" stop-color="#ff3600"/><stop offset="0.0925" stop-color="#ff2b00"/><stop offset="0.1075" stop-color="#ff4000"/><stop offset="0.1226" stop-color="#ff7e00"/><stop offset="0.1415" stop-color="#fff200"/><stop offset="0.1453" stop-color="#f5ff0a"/><stop offset="0.1604" stop-color="#b1ff4e"/><stop offset="0.1717" stop-color="#a3ff5c"/><stop offset="0.1943" stop-color="#c6ff39"/><stop offset="0.2057" stop-color="#a3ff5c"/><stop offset="0.2170" stop-color="#56ffa9"/><stop offset="0.2245" stop-color="#11ffee"/><stop offset="0.2283" stop-color="#00e9ff"/><stop offset="0.2434" stop-color="#0057ff"/><stop offset="0.2509" stop-color="#0029ff"/><stop offset="0.2623" stop-color="#0012ff"/><stop offset="0.2774" stop-color="#001bff"/><stop offset="0.2887" stop-color="#0044ff"/><stop offset="0.3038" stop-color="#00aaff"/><stop offset="0.3151" stop-color="#04fffb"/><stop offset="0.3302" stop-color="#63ff9c"/><stop offset="0.3528" stop-color="#b3ff4c"/><stop offset="0.3755" stop-color="#fffb00"/><stop offset="0.4057" stop-color="#ff8600"/><stop offset="0.4245" stop-color="#ff6a00"/><stop offset="0.4547" stop-color="#ff7100"/><stop offset="0.4736" stop-color="#ffa300"/><stop offset="0.4962" stop-color="#fffe00"/><stop offset="0.5075" stop-color="#e7ff18"/><stop offset="0.5264" stop-color="#f6ff09"/><stop offset="0.5340" stop-color="#e4ff1b"/><stop offset="0.5528" stop-color="#76ff89"/><stop offset="0.5679" stop-color="#02fffd"/><stop offset="0.5830" stop-color="#0085ff"/><stop offset="0.5943" stop-color="#004bff"/><stop offset="0.6057" stop-color="#003aff"/><stop offset="0.6208" stop-color="#0045ff"/><stop offset="0.6321" stop-color="#006eff"/><stop offset="0.6509" stop-color="#00ecff"/><stop offset="0.6547" stop-color="#09fff6"/><stop offset="0.6660" stop-color="#4effb1"/><stop offset="0.6736" stop-color="#8bff74"/><stop offset="0.6925" stop-color="#f7ff08"/><stop offset="0.7000" stop-color="#ffdc00"/><stop offset="0.7264" stop-color="#ff4700"/><stop offset="0.7453" stop-color="#ff0600"/><stop offset="0.7717" stop-color="#f50000"/><stop offset="0.7792" stop-color="#ff0400"/><stop offset="0.7906" stop-color="#ff4000"/><stop offset="0.8094" stop-color="#ffeb00"/><stop offset="0.8132" stop-color="#f2ff0d"/><stop offset="0.8245" stop-color="#a5ff5a"/><stop offset="0.8396" stop-color="#71ff8e"/><stop offset="0.8736" stop-color="#20ffdf"/><stop offset="0.8811" stop-color="#05fffa"/><stop offset="0.9038" stop-color="#00a3ff"/><stop offset="0.9264" stop-color="#0048ff"/><stop offset="0.9453" stop-color="#0026ff"/><stop offset="0.9566" stop-color="#0031ff"/><stop offset="0.9717" stop-color="#006eff"/><stop offset="0.9981" stop-color="#04fffb"/></linearGradient><linearGradient id="g16" gradientUnits="objectBoundingBox"><stop offset="0.0019" stop-color="#7aff85"/><stop offset="0.0170" stop-color="#ebff14"/><stop offset="0.0208" stop-color="#fffa00"/><stop offset="0.0472" stop-color="#ff6a00"/><stop offset="0.0623" stop-color="#ff3700"/><stop offset="0.0849" stop-color="#ff1d00"/><stop offset="0.1075" stop-color="#ff2400"/><stop offset="0.1226" stop-color="#ff4f00"/><stop offset="0.1491" stop-color="#ffdd00"/><stop offset="0.1566" stop-color="#f9ff06"/><stop offset="0.1717" stop-color="#c7ff38"/><stop offset="0.1943" stop-color="#bfff40"/><stop offset="0.2057" stop-color="#9bff64"/><stop offset="0.2170" stop-color="#56ffa9"/><stop offset="0.2245" stop-color="#15ffea"/><stop offset="0.2283" stop-color="#00f0ff"/><stop offset="0.2434" stop-color="#005cff"/><stop offset="0.2509" stop-color="#0027ff"/><stop offset="0.2623" stop-color="#0003ff"/><stop offset="0.2774" stop-color="#0004ff"/><stop offset="0.2887" stop-color="#0023ff"/><stop offset="0.3000" stop-color="#0066ff"/><stop offset="0.3189" stop-color="#01fffe"/><stop offset="0.3340" stop-color="#65ff9a"/><stop offset="0.3566" stop-color="#baff45"/><stop offset="0.3755" stop-color="#fffe00"/><stop offset="0.4057" stop-color="#ff8200"/><stop offset="0.4245" stop-color="#ff5e00"/><stop offset="0.4547" stop-color="#ff5f00"/><stop offset="0.4698" stop-color="#ff7d00"/><stop offset="0.5000" stop-color="#fff800"/><stop offset="0.5151" stop-color="#e8ff17"/><stop offset="0.5302" stop-color="#ddff22"/><stop offset="0.5453" stop-color="#99ff66"/><stop offset="0.5604" stop-color="#37ffc8"/><stop offset="0.5679" stop-color="#00f8ff"/><stop offset="0.5868" stop-color="#0060ff"/><stop offset="0.5981" stop-color="#002eff"/><stop offset="0.6132" stop-color="#0021ff"/><stop offset="0.6283" stop-color="#0039ff"/><stop offset="0.6396" stop-color="#0073ff"/><stop offset="0.6585" stop-color="#02fffd"/><stop offset="0.6660" stop-color="#35ffca"/><stop offset="0.6698" stop-color="#5effa1"/><stop offset="0.6925" stop-color="#f1ff0e"/><stop offset="0.6962" stop-color="#fff700"/><stop offset="0.7302" stop-color="#ff3900"/><stop offset="0.7453" stop-color="#ff0400"/><stop offset="0.7679" stop-color="#e90000"/><stop offset="0.7792" stop-color="#ef0000"/><stop offset="0.7868" stop-color="#ff0700"/><stop offset="0.7981" stop-color="#ff5500"/><stop offset="0.8132" stop-color="#ffe800"/><stop offset="0.8170" stop-color="#f4ff0b"/><stop offset="0.8283" stop-color="#a4ff5b"/><stop offset="0.8434" stop-color="#6dff92"/><stop offset="0.8736" stop-color="#21ffde"/><stop offset="0.8811" stop-color="#06fff9"/><stop offset="0.9038" stop-color="#009fff"/><stop offset="0.9302" stop-color="#002eff"/><stop offset="0.9453" stop-color="#000fff"/><stop offset="0.9566" stop-color="#0013ff"/><stop offset="0.9679" stop-color="#003aff"/><stop offset="0.9981" stop-color="#00f4ff"/></linearGradient><linearGradient id="g17" gradientUnits="objectBoundingBox"><stop offset="0.0019" stop-color="#64ff9b"/><stop offset="0.0208" stop-color="#f9ff06"/><stop offset="0.0509" stop-color="#ff5c00"/><stop offset="0.0660" stop-color="#ff2a00"/><stop offset="0.0887" stop-color="#ff0f00"/><stop offset="0.1113" stop-color="#ff1100"/><stop offset="0.1302" stop-color="#ff4300"/><stop offset="0.1679" stop-color="#fffd00"/><stop offset="0.1906" stop-color="#cbff34"/><stop offset="0.2057" stop-color="#9aff65"/><stop offset="0.2170" stop-color="#58ffa7"/><stop offset="0.2283" stop-color="#00f7ff"/><stop offset="0.2472" stop-color="#0044ff"/><stop offset="0.2585" stop-color="#0002ff"/><stop offset="0.2736" stop-color="#0000ed"/><stop offset="0.2887" stop-color="#0003ff"/><stop offset="0.3000" stop-color="#003fff"/><stop offset="0.3226" stop-color="#00feff"/><stop offset="0.3377" stop-color="#67ff98"/><stop offset="0.3642" stop-color="#d0ff2f"/><stop offset="0.3755" stop-color="#fdff02"/><stop offset="0.4057" stop-color="#ff7f00"/><stop offset="0.4245" stop-color="#ff5400"/><stop offset="0.4547" stop-color="#ff4e00"/><stop offset="0.4736" stop-color="#ff7100"/><stop offset="0.5075" stop-color="#ffff00"/><stop offset="0.5340" stop-color="#c2ff3d"/><stop offset="0.5528" stop-color="#62ff9d"/><stop offset="0.5642" stop-color="#10ffef"/><stop offset="0.5679" stop-color="#00f0ff"/><stop offset="0.5868" stop-color="#0055ff"/><stop offset="0.5981" stop-color="#001cff"/><stop offset="0.6094" stop-color="#0008ff"/><stop offset="0.6245" stop-color="#000fff"/><stop offset="0.6358" stop-color="#0035ff"/><stop offset="0.6509" stop-color="#009dff"/><stop offset="0.6623" stop-color="#00faff"/><stop offset="0.6660" stop-color="#17ffe8"/><stop offset="0.6698" stop-color="#44ffbb"/><stop offset="0.6887" stop-color="#d1ff2e"/><stop offset="0.6962" stop-color="#fffe00"/><stop offset="0.7302" stop-color="#ff3d00"/><stop offset="0.7453" stop-color="#ff0200"/><stop offset="0.7679" stop-color="#df0000"/><stop offset="0.7830" stop-color="#e40000"/><stop offset="0.7906" stop-color="#fb0000"/><stop offset="0.7981" stop-color="#ff2c00"/><stop offset="0.8170" stop-color="#ffe400"/><stop offset="0.8208" stop-color="#f6ff09"/><stop offset="0.8321" stop-color="#a3ff5c"/><stop offset="0.8472" stop-color="#69ff96"/><stop offset="0.8774" stop-color="#15ffea"/><stop offset="0.8849" stop-color="#00f6ff"/><stop offset="0.9302" stop-color="#0020ff"/><stop offset="0.9415" stop-color="#0000fe"/><stop offset="0.9566" stop-color="#0000f4"/><stop offset="0.9642" stop-color="#0008ff"/><stop offset="0.9792" stop-color="#005eff"/><stop offset="0.9981" stop-color="#00e3ff"/></linearGradient><linearGradient id="g18" gradientUnits="objectBoundingBox"><stop offset="0.0019" stop-color="#44ffbb"/><stop offset="0.0208" stop-color="#e5ff1a"/><stop offset="0.0245" stop-color="#fffe00"/><stop offset="0.0509" stop-color="#ff6500"/><stop offset="0.0698" stop-color="#ff2000"/><stop offset="0.0925" stop-color="#ff0100"/><stop offset="0.1189" stop-color="#ff0500"/><stop offset="0.1377" stop-color="#ff3c00"/><stop offset="0.1755" stop-color="#fff500"/><stop offset="0.1830" stop-color="#eeff11"/><stop offset="0.2057" stop-color="#9dff62"/><stop offset="0.2208" stop-color="#3fffc0"/><stop offset="0.2283" stop-color="#00feff"/><stop offset="0.2509" stop-color="#002cff"/><stop offset="0.2585" stop-color="#0000fd"/><stop offset="0.2698" stop-color="#0000de"/><stop offset="0.2849" stop-color="#0000df"/><stop offset="0.2962" stop-color="#0002ff"/><stop offset="0.3075" stop-color="#004fff"/><stop offset="0.3264" stop-color="#00fcff"/><stop offset="0.3415" stop-color="#6bff94"/><stop offset="0.3755" stop-color="#f9ff06"/><stop offset="0.4132" stop-color="#ff6600"/><stop offset="0.4321" stop-color="#ff4300"/><stop offset="0.4623" stop-color="#ff4300"/><stop offset="0.4774" stop-color="#ff6200"/><stop offset="0.5113" stop-color="#fff800"/><stop offset="0.5340" stop-color="#bcff43"/><stop offset="0.5528" stop-color="#5effa1"/><stop offset="0.5642" stop-color="#0efff1"/><stop offset="0.5679" stop-color="#00eeff"/><stop offset="0.5868" stop-color="#0052ff"/><stop offset="0.5981" stop-color="#0013ff"/><stop offset="0.6057" stop-color="#0000fd"/><stop offset="0.6245" stop-color="#0000f9"/><stop offset="0.6321" stop-color="#000aff"/><stop offset="0.6434" stop-color="#0041ff"/><stop offset="0.6660" stop-color="#00f7ff"/><stop offset="0.6811" stop-color="#87ff78"/><stop offset="0.6962" stop-color="#f2ff0d"/><stop offset="0.7000" stop-color="#fff400"/><stop offset="0.7302" stop-color="#ff4500"/><stop offset="0.7453" stop-color="#ff0400"/><stop offset="0.7679" stop-color="#d80000"/><stop offset="0.7868" stop-color="#db0000"/><stop offset="0.7943" stop-color="#f30000"/><stop offset="0.7981" stop-color="#ff0a00"/><stop offset="0.8094" stop-color="#ff6b00"/><stop offset="0.8208" stop-color="#ffe100"/><stop offset="0.8245" stop-color="#f8ff07"/><stop offset="0.8358" stop-color="#a2ff5d"/><stop offset="0.8509" stop-color="#64ff9b"/><stop offset="0.8774" stop-color="#16ffe9"/><stop offset="0.8849" stop-color="#00f7ff"/><stop offset="0.9302" stop-color="#0015ff"/><stop offset="0.9377" stop-color="#0000f9"/><stop offset="0.9528" stop-color="#0000dd"/><stop offset="0.9642" stop-color="#0000ea"/><stop offset="0.9679" stop-color="#0000f9"/><stop offset="0.9755" stop-color="#0024ff"/><stop offset="0.9981" stop-color="#00cdff"/></linearGradient><linearGradient id="g19" gradientUnits="objectBoundingBox"><stop offset="0.0019" stop-color="#1cffe3"/><stop offset="0.0245" stop-color="#e2ff1d"/><stop offset="0.0283" stop-color="#feff01"/><stop offset="0.0547" stop-color="#ff6200"/><stop offset="0.0736" stop-color="#ff1900"/><stop offset="0.0887" stop-color="#fb0000"/><stop offset="0.1151" stop-color="#ed0000"/><stop offset="0.1302" stop-color="#ff0400"/><stop offset="0.1491" stop-color="#ff4f00"/><stop offset="0.1792" stop-color="#fff000"/><stop offset="0.1830" stop-color="#feff01"/><stop offset="0.2094" stop-color="#8bff74"/><stop offset="0.2245" stop-color="#26ffd9"/><stop offset="0.2283" stop-color="#05fffa"/><stop offset="0.2509" stop-color="#0032ff"/><stop offset="0.2585" stop-color="#0000fd"/><stop offset="0.2698" stop-color="#0000d1"/><stop offset="0.2849" stop-color="#0000c9"/><stop offset="0.2962" stop-color="#0000e0"/><stop offset="0.3038" stop-color="#0008ff"/><stop offset="0.3189" stop-color="#008aff"/><stop offset="0.3302" stop-color="#00faff"/><stop offset="0.3453" stop-color="#6eff91"/><stop offset="0.3642" stop-color="#c4ff3b"/><stop offset="0.3792" stop-color="#fffb00"/><stop offset="0.4132" stop-color="#ff6600"/><stop offset="0.4321" stop-color="#ff3b00"/><stop offset="0.4623" stop-color="#ff3300"/><stop offset="0.4774" stop-color="#ff4700"/><stop offset="0.4925" stop-color="#ff7e00"/><stop offset="0.5189" stop-color="#ffff00"/><stop offset="0.5491" stop-color="#76ff89"/><stop offset="0.5642" stop-color="#13ffec"/><stop offset="0.5679" stop-color="#00f4ff"/><stop offset="0.5906" stop-color="#003dff"/><stop offset="0.6019" stop-color="#0005ff"/><stop offset="0.6170" stop-color="#0000ed"/><stop offset="0.6358" stop-color="#0005ff"/><stop offset="0.6472" stop-color="#0040ff"/><stop offset="0.6660" stop-color="#00d8ff"/><stop offset="0.6698" stop-color="#01fffe"/><stop offset="0.6887" stop-color="#a6ff59"/><stop offset="0.7000" stop-color="#f5ff0a"/><stop offset="0.7075" stop-color="#ffd900"/><stop offset="0.7377" stop-color="#ff2b00"/><stop offset="0.7491" stop-color="#fb0000"/><stop offset="0.7679" stop-color="#d40000"/><stop offset="0.7906" stop-color="#d50000"/><stop offset="0.8019" stop-color="#ff0600"/><stop offset="0.8132" stop-color="#ff6800"/><stop offset="0.8283" stop-color="#faff05"/><stop offset="0.8396" stop-color="#a1ff5e"/><stop offset="0.8547" stop-color="#5fffa0"/><stop offset="0.8811" stop-color="#07fff8"/><stop offset="0.8925" stop-color="#00d3ff"/><stop offset="0.9302" stop-color="#000cff"/><stop offset="0.9377" stop-color="#0000ed"/><stop offset="0.9528" stop-color="#0000cb"/><stop offset="0.9642" stop-color="#0000d1"/><stop offset="0.9755" stop-color="#0005ff"/><stop offset="0.9981" stop-color="#00b0ff"/></linearGradient><linearGradient id="g20" gradientUnits="objectBoundingBox"><stop offset="0.0019" stop-color="#00f5ff"/><stop offset="0.0057" stop-color="#12ffed"/><stop offset="0.0283" stop-color="#e0ff1f"/><stop offset="0.0321" stop-color="#fdff02"/><stop offset="0.0585" stop-color="#ff5f00"/><stop offset="0.0774" stop-color="#ff1100"/><stop offset="0.0887" stop-color="#f60000"/><stop offset="0.1151" stop-color="#dd0000"/><stop offset="0.1302" stop-color="#ea0000"/><stop offset="0.1377" stop-color="#fd0000"/><stop offset="0.1528" stop-color="#ff4000"/><stop offset="0.1868" stop-color="#ffff00"/><stop offset="0.2132" stop-color="#7aff85"/><stop offset="0.2283" stop-color="#0cfff3"/><stop offset="0.2321" stop-color="#00e9ff"/><stop offset="0.2547" stop-color="#001aff"/><stop offset="0.2585" stop-color="#0000fe"/><stop offset="0.2698" stop-color="#0000c8"/><stop offset="0.2849" stop-color="#0000b6"/><stop offset="0.2962" stop-color="#0000c2"/><stop offset="0.3075" stop-color="#0000f8"/><stop offset="0.3151" stop-color="#0037ff"/><stop offset="0.3340" stop-color="#00f9ff"/><stop offset="0.3491" stop-color="#73ff8c"/><stop offset="0.3679" stop-color="#cdff32"/><stop offset="0.3792" stop-color="#fdff02"/><stop offset="0.4170" stop-color="#ff5b00"/><stop offset="0.4358" stop-color="#ff2f00"/><stop offset="0.4698" stop-color="#ff2600"/><stop offset="0.4849" stop-color="#ff4100"/><stop offset="0.5000" stop-color="#ff7f00"/><stop offset="0.5226" stop-color="#fff900"/><stop offset="0.5491" stop-color="#7cff83"/><stop offset="0.5679" stop-color="#00faff"/><stop offset="0.5906" stop-color="#0041ff"/><stop offset="0.6019" stop-color="#0004ff"/><stop offset="0.6170" stop-color="#0000e5"/><stop offset="0.6321" stop-color="#0000ec"/><stop offset="0.6396" stop-color="#0001ff"/><stop offset="0.6509" stop-color="#003eff"/><stop offset="0.6698" stop-color="#00dcff"/><stop offset="0.6736" stop-color="#02fffd"/><stop offset="0.6925" stop-color="#a7ff58"/><stop offset="0.7038" stop-color="#f7ff08"/><stop offset="0.7189" stop-color="#ffa500"/><stop offset="0.7415" stop-color="#ff2300"/><stop offset="0.7491" stop-color="#ff0200"/><stop offset="0.7679" stop-color="#d00000"/><stop offset="0.7906" stop-color="#ca0000"/><stop offset="0.8019" stop-color="#eb0000"/><stop offset="0.8057" stop-color="#ff0200"/><stop offset="0.8170" stop-color="#ff6500"/><stop offset="0.8321" stop-color="#fbff04"/><stop offset="0.8434" stop-color="#a0ff5f"/><stop offset="0.8585" stop-color="#58ffa7"/><stop offset="0.8811" stop-color="#08fff7"/><stop offset="0.8925" stop-color="#00d3ff"/><stop offset="0.9302" stop-color="#0004ff"/><stop offset="0.9491" stop-color="#0000c0"/><stop offset="0.9604" stop-color="#0000b6"/><stop offset="0.9717" stop-color="#0000d3"/><stop offset="0.9792" stop-color="#0000fe"/><stop offset="0.9981" stop-color="#0092ff"/></linearGradient><linearGradient id="g21" gradientUnits="objectBoundingBox"><stop offset="0.0019" stop-color="#00cfff"/><stop offset="0.0094" stop-color="#09fff6"/><stop offset="0.0321" stop-color="#deff21"/><stop offset="0.0358" stop-color="#fcff03"/><stop offset="0.0623" stop-color="#ff5d00"/><stop offset="0.0811" stop-color="#ff0a00"/><stop offset="0.0887" stop-color="#f30000"/><stop offset="0.1151" stop-color="#cf0000"/><stop offset="0.1340" stop-color="#d90000"/><stop offset="0.1453" stop-color="#fa0000"/><stop offset="0.1566" stop-color="#ff3100"/><stop offset="0.1906" stop-color="#ffff00"/><stop offset="0.2170" stop-color="#69ff96"/><stop offset="0.2283" stop-color="#13ffec"/><stop offset="0.2321" stop-color="#00f1ff"/><stop offset="0.2585" stop-color="#0003ff"/><stop offset="0.2698" stop-color="#0000c3"/><stop offset="0.2811" stop-color="#0000aa"/><stop offset="0.2962" stop-color="#0000ac"/><stop offset="0.3075" stop-color="#0000d4"/><stop offset="0.3151" stop-color="#000cff"/><stop offset="0.3377" stop-color="#00f9ff"/><stop offset="0.3528" stop-color="#76ff89"/><stop offset="0.3717" stop-color="#d3ff2c"/><stop offset="0.3830" stop-color="#fff900"/><stop offset="0.4208" stop-color="#ff5000"/><stop offset="0.4396" stop-color="#ff2300"/><stop offset="0.4698" stop-color="#ff1600"/><stop offset="0.4849" stop-color="#ff2800"/><stop offset="0.5000" stop-color="#ff6000"/><stop offset="0.5264" stop-color="#fffc00"/><stop offset="0.5604" stop-color="#39ffc6"/><stop offset="0.5679" stop-color="#00ffff"/><stop offset="0.5943" stop-color="#002dff"/><stop offset="0.6019" stop-color="#0004ff"/><stop offset="0.6170" stop-color="#0000de"/><stop offset="0.6358" stop-color="#0000e5"/><stop offset="0.6434" stop-color="#0000fc"/><stop offset="0.6509" stop-color="#0024ff"/><stop offset="0.6698" stop-color="#00b7ff"/><stop offset="0.6774" stop-color="#03fffc"/><stop offset="0.6962" stop-color="#a9ff56"/><stop offset="0.7075" stop-color="#faff05"/><stop offset="0.7415" stop-color="#ff2f00"/><stop offset="0.7528" stop-color="#f90000"/><stop offset="0.7679" stop-color="#ce0000"/><stop offset="0.7906" stop-color="#c10000"/><stop offset="0.8019" stop-color="#d50000"/><stop offset="0.8094" stop-color="#fd0000"/><stop offset="0.8208" stop-color="#ff6300"/><stop offset="0.8358" stop-color="#fbff04"/><stop offset="0.8472" stop-color="#9eff61"/><stop offset="0.8623" stop-color="#51ffae"/><stop offset="0.8811" stop-color="#08fff7"/><stop offset="0.8887" stop-color="#00e5ff"/><stop offset="0.9302" stop-color="#0000fc"/><stop offset="0.9453" stop-color="#0000bc"/><stop offset="0.9604" stop-color="#0000a3"/><stop offset="0.9717" stop-color="#0000b8"/><stop offset="0.9830" stop-color="#0000f9"/><stop offset="0.9943" stop-color="#0053ff"/><stop offset="0.9981" stop-color="#0073ff"/></linearGradient><linearGradient id="g22" gradientUnits="objectBoundingBox"><stop offset="0.0019" stop-color="#00acff"/><stop offset="0.0132" stop-color="#00ffff"/><stop offset="0.0358" stop-color="#dcff23"/><stop offset="0.0396" stop-color="#faff05"/><stop offset="0.0698" stop-color="#ff4500"/><stop offset="0.0849" stop-color="#ff0200"/><stop offset="0.1075" stop-color="#cc0000"/><stop offset="0.1302" stop-color="#be0000"/><stop offset="0.1453" stop-color="#db0000"/><stop offset="0.1528" stop-color="#f90000"/><stop offset="0.1642" stop-color="#ff3900"/><stop offset="0.1943" stop-color="#feff01"/><stop offset="0.2208" stop-color="#57ffa8"/><stop offset="0.2321" stop-color="#00faff"/><stop offset="0.2585" stop-color="#0009ff"/><stop offset="0.2660" stop-color="#0000d5"/><stop offset="0.2774" stop-color="#0000a7"/><stop offset="0.2925" stop-color="#00009a"/><stop offset="0.3038" stop-color="#0000a9"/><stop offset="0.3113" stop-color="#0000cc"/><stop offset="0.3189" stop-color="#0007ff"/><stop offset="0.3415" stop-color="#00faff"/><stop offset="0.3566" stop-color="#79ff86"/><stop offset="0.3755" stop-color="#d8ff27"/><stop offset="0.3830" stop-color="#f9ff06"/><stop offset="0.4019" stop-color="#ffab00"/><stop offset="0.4245" stop-color="#ff4700"/><stop offset="0.4434" stop-color="#ff1700"/><stop offset="0.4698" stop-color="#ff0700"/><stop offset="0.4849" stop-color="#ff1100"/><stop offset="0.5000" stop-color="#ff4400"/><stop offset="0.5226" stop-color="#ffd600"/><stop offset="0.5302" stop-color="#f5ff0a"/><stop offset="0.5642" stop-color="#21ffde"/><stop offset="0.5679" stop-color="#05fffa"/><stop offset="0.5943" stop-color="#0031ff"/><stop offset="0.6019" stop-color="#0006ff"/><stop offset="0.6170" stop-color="#0000d8"/><stop offset="0.6358" stop-color="#0000d8"/><stop offset="0.6472" stop-color="#0000f8"/><stop offset="0.6547" stop-color="#0022ff"/><stop offset="0.6698" stop-color="#0094ff"/><stop offset="0.6811" stop-color="#06fff9"/><stop offset="0.7000" stop-color="#adff52"/><stop offset="0.7113" stop-color="#fffd00"/><stop offset="0.7453" stop-color="#ff2500"/><stop offset="0.7528" stop-color="#ff0100"/><stop offset="0.7717" stop-color="#c70000"/><stop offset="0.7943" stop-color="#bb0000"/><stop offset="0.8057" stop-color="#cf0000"/><stop offset="0.8132" stop-color="#f20000"/><stop offset="0.8170" stop-color="#ff0d00"/><stop offset="0.8283" stop-color="#ff7100"/><stop offset="0.8396" stop-color="#ffe500"/><stop offset="0.8434" stop-color="#f4ff0b"/><stop offset="0.8585" stop-color="#7eff81"/><stop offset="0.8811" stop-color="#0cfff3"/><stop offset="0.8849" stop-color="#00f9ff"/><stop offset="0.9189" stop-color="#003aff"/><stop offset="0.9264" stop-color="#000dff"/><stop offset="0.9302" stop-color="#0000f7"/><stop offset="0.9491" stop-color="#0000a8"/><stop offset="0.9642" stop-color="#000095"/><stop offset="0.9755" stop-color="#0000b3"/><stop offset="0.9868" stop-color="#0000fb"/><stop offset="0.9981" stop-color="#0059ff"/></linearGradient><linearGradient id="g23" gradientUnits="objectBoundingBox"><stop offset="0.0019" stop-color="#008aff"/><stop offset="0.0132" stop-color="#00d5ff"/><stop offset="0.0170" stop-color="#00f8ff"/><stop offset="0.0396" stop-color="#daff25"/><stop offset="0.0434" stop-color="#f9ff06"/><stop offset="0.0736" stop-color="#ff4100"/><stop offset="0.0849" stop-color="#ff0a00"/><stop offset="0.0925" stop-color="#ec0000"/><stop offset="0.1151" stop-color="#b80000"/><stop offset="0.1340" stop-color="#ad0000"/><stop offset="0.1491" stop-color="#ca0000"/><stop offset="0.1604" stop-color="#fd0000"/><stop offset="0.1792" stop-color="#ff7a00"/><stop offset="0.1981" stop-color="#fdff02"/><stop offset="0.2245" stop-color="#44ffbb"/><stop offset="0.2321" stop-color="#05fffa"/><stop offset="0.2585" stop-color="#0010ff"/><stop offset="0.2623" stop-color="#0000f2"/><stop offset="0.2736" stop-color="#0000b0"/><stop offset="0.2849" stop-color="#000092"/><stop offset="0.3038" stop-color="#000095"/><stop offset="0.3151" stop-color="#0000c5"/><stop offset="0.3226" stop-color="#0003ff"/><stop offset="0.3453" stop-color="#00fbff"/><stop offset="0.3604" stop-color="#7bff84"/><stop offset="0.3792" stop-color="#dcff23"/><stop offset="0.3868" stop-color="#feff01"/><stop offset="0.4283" stop-color="#ff3e00"/><stop offset="0.4472" stop-color="#ff0b00"/><stop offset="0.4660" stop-color="#f90000"/><stop offset="0.4887" stop-color="#ff0200"/><stop offset="0.5000" stop-color="#ff2700"/><stop offset="0.5151" stop-color="#ff8800"/><stop offset="0.5302" stop-color="#fffd00"/><stop offset="0.5679" stop-color="#0afff5"/><stop offset="0.5755" stop-color="#00cdff"/><stop offset="0.5981" stop-color="#001dff"/><stop offset="0.6019" stop-color="#0008ff"/><stop offset="0.6170" stop-color="#0000d3"/><stop offset="0.6358" stop-color="#0000cd"/><stop offset="0.6472" stop-color="#0000e5"/><stop offset="0.6547" stop-color="#0009ff"/><stop offset="0.6698" stop-color="#0071ff"/><stop offset="0.6811" stop-color="#00e2ff"/><stop offset="0.6849" stop-color="#09fff6"/><stop offset="0.7038" stop-color="#b3ff4c"/><stop offset="0.7113" stop-color="#edff12"/><stop offset="0.7151" stop-color="#fff600"/><stop offset="0.7453" stop-color="#ff3000"/><stop offset="0.7528" stop-color="#ff0900"/><stop offset="0.7604" stop-color="#e80000"/><stop offset="0.7792" stop-color="#bb0000"/><stop offset="0.8019" stop-color="#b90000"/><stop offset="0.8132" stop-color="#d60000"/><stop offset="0.8208" stop-color="#fe0000"/><stop offset="0.8321" stop-color="#ff5a00"/><stop offset="0.8472" stop-color="#ffed00"/><stop offset="0.8509" stop-color="#edff12"/><stop offset="0.8660" stop-color="#72ff8d"/><stop offset="0.8849" stop-color="#01fffe"/><stop offset="0.9264" stop-color="#000cff"/><stop offset="0.9340" stop-color="#0000e2"/><stop offset="0.9491" stop-color="#0000a3"/><stop offset="0.9642" stop-color="#00008c"/><stop offset="0.9755" stop-color="#0000a5"/><stop offset="0.9906" stop-color="#0006ff"/><stop offset="0.9981" stop-color="#0044ff"/></linearGradient><linearGradient id="g24" gradientUnits="objectBoundingBox"><stop offset="0.0019" stop-color="#0067ff"/><stop offset="0.0132" stop-color="#00acff"/><stop offset="0.0208" stop-color="#00f4ff"/><stop offset="0.0245" stop-color="#1dffe2"/><stop offset="0.0396" stop-color="#baff45"/><stop offset="0.0472" stop-color="#fbff04"/><stop offset="0.0774" stop-color="#ff3c00"/><stop offset="0.0887" stop-color="#ff0100"/><stop offset="0.1075" stop-color="#bd0000"/><stop offset="0.1340" stop-color="#9a0000"/><stop offset="0.1491" stop-color="#ac0000"/><stop offset="0.1642" stop-color="#eb0000"/><stop offset="0.1679" stop-color="#ff0200"/><stop offset="0.2019" stop-color="#ffff00"/><stop offset="0.2283" stop-color="#32ffcd"/><stop offset="0.2321" stop-color="#10ffef"/><stop offset="0.2358" stop-color="#00edff"/><stop offset="0.2585" stop-color="#0017ff"/><stop offset="0.2623" stop-color="#0000f8"/><stop offset="0.2736" stop-color="#0000af"/><stop offset="0.2849" stop-color="#00008a"/><stop offset="0.3038" stop-color="#000084"/><stop offset="0.3151" stop-color="#0000a6"/><stop offset="0.3264" stop-color="#0000fd"/><stop offset="0.3491" stop-color="#00faff"/><stop offset="0.3642" stop-color="#7bff84"/><stop offset="0.3830" stop-color="#dcff23"/><stop offset="0.3906" stop-color="#feff01"/><stop offset="0.4321" stop-color="#ff3600"/><stop offset="0.4509" stop-color="#fe0000"/><stop offset="0.4774" stop-color="#e70000"/><stop offset="0.4925" stop-color="#f00000"/><stop offset="0.5000" stop-color="#ff0800"/><stop offset="0.5113" stop-color="#ff4900"/><stop offset="0.5302" stop-color="#ffe700"/><stop offset="0.5340" stop-color="#f8ff07"/><stop offset="0.5566" stop-color="#5effa1"/><stop offset="0.5679" stop-color="#11ffee"/><stop offset="0.5717" stop-color="#00f3ff"/><stop offset="0.5981" stop-color="#0023ff"/><stop offset="0.6019" stop-color="#000bff"/><stop offset="0.6094" stop-color="#0000e5"/><stop offset="0.6245" stop-color="#0000c4"/><stop offset="0.6434" stop-color="#0000cb"/><stop offset="0.6585" stop-color="#0008ff"/><stop offset="0.6698" stop-color="#0052ff"/><stop offset="0.6849" stop-color="#00e9ff"/><stop offset="0.6887" stop-color="#10ffef"/><stop offset="0.7075" stop-color="#bbff44"/><stop offset="0.7151" stop-color="#f6ff09"/><stop offset="0.7226" stop-color="#ffd200"/><stop offset="0.7491" stop-color="#ff2600"/><stop offset="0.7566" stop-color="#ff0000"/><stop offset="0.7717" stop-color="#c80000"/><stop offset="0.7906" stop-color="#b00000"/><stop offset="0.8094" stop-color="#b90000"/><stop offset="0.8208" stop-color="#df0000"/><stop offset="0.8283" stop-color="#ff0c00"/><stop offset="0.8434" stop-color="#ff8b00"/><stop offset="0.8547" stop-color="#fff800"/><stop offset="0.8774" stop-color="#46ffb9"/><stop offset="0.8849" stop-color="#11ffee"/><stop offset="0.8887" stop-color="#00f8ff"/><stop offset="0.9264" stop-color="#000bff"/><stop offset="0.9340" stop-color="#0000e0"/><stop offset="0.9491" stop-color="#00009e"/><stop offset="0.9642" stop-color="#000084"/><stop offset="0.9755" stop-color="#000097"/><stop offset="0.9868" stop-color="#0000d6"/><stop offset="0.9906" stop-color="#0000f1"/><stop offset="0.9943" stop-color="#0010ff"/><stop offset="0.9981" stop-color="#0030ff"/></linearGradient><linearGradient id="g25" gradientUnits="objectBoundingBox"><stop offset="0.0019" stop-color="#0044ff"/><stop offset="0.0094" stop-color="#0067ff"/><stop offset="0.0208" stop-color="#00cbff"/><stop offset="0.0245" stop-color="#00f4ff"/><stop offset="0.0321" stop-color="#4cffb3"/><stop offset="0.0472" stop-color="#e2ff1d"/><stop offset="0.0509" stop-color="#fffe00"/><stop offset="0.0774" stop-color="#ff4c00"/><stop offset="0.0887" stop-color="#ff0b00"/><stop offset="0.0962" stop-color="#e60000"/><stop offset="0.1151" stop-color="#a50000"/><stop offset="0.1377" stop-color="#880000"/><stop offset="0.1528" stop-color="#990000"/><stop offset="0.1679" stop-color="#d90000"/><stop offset="0.1755" stop-color="#ff0b00"/><stop offset="0.2057" stop-color="#fffe00"/><stop offset="0.2358" stop-color="#00faff"/><stop offset="0.2623" stop-color="#0000ff"/><stop offset="0.2736" stop-color="#0000b0"/><stop offset="0.2849" stop-color="#000083"/><stop offset="0.3113" stop-color="#000080"/><stop offset="0.3226" stop-color="#0000b6"/><stop offset="0.3302" stop-color="#0000f8"/><stop offset="0.3377" stop-color="#004cff"/><stop offset="0.3528" stop-color="#00f9ff"/><stop offset="0.3679" stop-color="#78ff87"/><stop offset="0.3943" stop-color="#faff05"/><stop offset="0.4208" stop-color="#ff7a00"/><stop offset="0.4434" stop-color="#ff1300"/><stop offset="0.4509" stop-color="#fb0000"/><stop offset="0.4736" stop-color="#d90000"/><stop offset="0.4925" stop-color="#d80000"/><stop offset="0.5038" stop-color="#f60000"/><stop offset="0.5075" stop-color="#ff0a00"/><stop offset="0.5189" stop-color="#ff5c00"/><stop offset="0.5340" stop-color="#ffe800"/><stop offset="0.5377" stop-color="#f5ff0a"/><stop offset="0.5604" stop-color="#50ffaf"/><stop offset="0.5717" stop-color="#00feff"/><stop offset="0.5981" stop-color="#002aff"/><stop offset="0.6057" stop-color="#0000fa"/><stop offset="0.6170" stop-color="#0000cc"/><stop offset="0.6321" stop-color="#0000ba"/><stop offset="0.6472" stop-color="#0000c6"/><stop offset="0.6585" stop-color="#0000f2"/><stop offset="0.6623" stop-color="#000aff"/><stop offset="0.6698" stop-color="#0037ff"/><stop offset="0.6887" stop-color="#00f5ff"/><stop offset="0.6962" stop-color="#42ffbd"/><stop offset="0.7151" stop-color="#e4ff1b"/><stop offset="0.7189" stop-color="#fffe00"/><stop offset="0.7491" stop-color="#ff3200"/><stop offset="0.7566" stop-color="#ff0900"/><stop offset="0.7642" stop-color="#e50000"/><stop offset="0.7792" stop-color="#b80000"/><stop offset="0.8019" stop-color="#aa0000"/><stop offset="0.8170" stop-color="#bd0000"/><stop offset="0.8283" stop-color="#ea0000"/><stop offset="0.8321" stop-color="#ff0100"/><stop offset="0.8472" stop-color="#ff7700"/><stop offset="0.8623" stop-color="#f7ff08"/><stop offset="0.8849" stop-color="#2dffd2"/><stop offset="0.8887" stop-color="#10ffef"/><stop offset="0.8925" stop-color="#00f2ff"/><stop offset="0.9264" stop-color="#000bff"/><stop offset="0.9340" stop-color="#0000de"/><stop offset="0.9491" stop-color="#00009a"/><stop offset="0.9604" stop-color="#000080"/><stop offset="0.9717" stop-color="#000080"/><stop offset="0.9830" stop-color="#0000ac"/><stop offset="0.9943" stop-color="#0000fc"/><stop offset="0.9981" stop-color="#001cff"/></linearGradient><linearGradient id="g26" gradientUnits="objectBoundingBox"><stop offset="0.0019" stop-color="#0021ff"/><stop offset="0.0094" stop-color="#0040ff"/><stop offset="0.0208" stop-color="#00a0ff"/><stop offset="0.0283" stop-color="#00f7ff"/><stop offset="0.0434" stop-color="#a3ff5c"/><stop offset="0.0509" stop-color="#e8ff17"/><stop offset="0.0547" stop-color="#fff800"/><stop offset="0.0849" stop-color="#ff2f00"/><stop offset="0.0925" stop-color="#ff0300"/><stop offset="0.1151" stop-color="#a10000"/><stop offset="0.1302" stop-color="#800000"/><stop offset="0.1566" stop-color="#870000"/><stop offset="0.1717" stop-color="#c70000"/><stop offset="0.1792" stop-color="#f90000"/><stop offset="0.1906" stop-color="#ff5500"/><stop offset="0.2094" stop-color="#fffc00"/><stop offset="0.2358" stop-color="#0efff1"/><stop offset="0.2396" stop-color="#00e8ff"/><stop offset="0.2623" stop-color="#000cff"/><stop offset="0.2698" stop-color="#0000cf"/><stop offset="0.2811" stop-color="#00008e"/><stop offset="0.2887" stop-color="#000080"/><stop offset="0.3189" stop-color="#000083"/><stop offset="0.3264" stop-color="#0000ae"/><stop offset="0.3340" stop-color="#0000f0"/><stop offset="0.3377" stop-color="#0019ff"/><stop offset="0.3566" stop-color="#00efff"/><stop offset="0.3604" stop-color="#16ffe9"/><stop offset="0.3717" stop-color="#70ff8f"/><stop offset="0.3981" stop-color="#f5ff0a"/><stop offset="0.4057" stop-color="#ffe300"/><stop offset="0.4396" stop-color="#ff2b00"/><stop offset="0.4509" stop-color="#fb0000"/><stop offset="0.4698" stop-color="#cf0000"/><stop offset="0.4962" stop-color="#c50000"/><stop offset="0.5075" stop-color="#e40000"/><stop offset="0.5113" stop-color="#f80000"/><stop offset="0.5189" stop-color="#ff3100"/><stop offset="0.5377" stop-color="#ffea00"/><stop offset="0.5415" stop-color="#f0ff0f"/><stop offset="0.5604" stop-color="#5cffa3"/><stop offset="0.5717" stop-color="#09fff6"/><stop offset="0.5792" stop-color="#00ccff"/><stop offset="0.6019" stop-color="#0018ff"/><stop offset="0.6057" stop-color="#0000ff"/><stop offset="0.6170" stop-color="#0000ca"/><stop offset="0.6321" stop-color="#0000b2"/><stop offset="0.6472" stop-color="#0000b9"/><stop offset="0.6585" stop-color="#0000de"/><stop offset="0.6660" stop-color="#000cff"/><stop offset="0.6698" stop-color="#001cff"/><stop offset="0.6925" stop-color="#03fffc"/><stop offset="0.7113" stop-color="#b4ff4b"/><stop offset="0.7189" stop-color="#efff10"/><stop offset="0.7226" stop-color="#fff300"/><stop offset="0.7528" stop-color="#ff2800"/><stop offset="0.7604" stop-color="#fe0000"/><stop offset="0.7792" stop-color="#b80000"/><stop offset="0.7981" stop-color="#a40000"/><stop offset="0.8170" stop-color="#b00000"/><stop offset="0.8321" stop-color="#e20000"/><stop offset="0.8358" stop-color="#f70000"/><stop offset="0.8434" stop-color="#ff2a00"/><stop offset="0.8623" stop-color="#ffd000"/><stop offset="0.8660" stop-color="#fff500"/><stop offset="0.8736" stop-color="#bfff40"/><stop offset="0.8925" stop-color="#10ffef"/><stop offset="0.8962" stop-color="#00eeff"/><stop offset="0.9226" stop-color="#0026ff"/><stop offset="0.9302" stop-color="#0000f5"/><stop offset="0.9491" stop-color="#000096"/><stop offset="0.9566" stop-color="#000080"/><stop offset="0.9755" stop-color="#000080"/><stop offset="0.9868" stop-color="#0000b2"/><stop offset="0.9981" stop-color="#0007ff"/></linearGradient><linearGradient id="g27" gradientUnits="objectBoundingBox"><stop offset="0.0019" stop-color="#0000fe"/><stop offset="0.0094" stop-color="#0019ff"/><stop offset="0.0170" stop-color="#004fff"/><stop offset="0.0283" stop-color="#00cdff"/><stop offset="0.0321" stop-color="#00fdff"/><stop offset="0.0472" stop-color="#abff54"/><stop offset="0.0547" stop-color="#eeff11"/><stop offset="0.0585" stop-color="#fff300"/><stop offset="0.0925" stop-color="#ff1100"/><stop offset="0.0962" stop-color="#fa0000"/><stop offset="0.1151" stop-color="#a00000"/><stop offset="0.1264" stop-color="#800000"/><stop offset="0.1642" stop-color="#810000"/><stop offset="0.1792" stop-color="#cf0000"/><stop offset="0.1868" stop-color="#ff0800"/><stop offset="0.2132" stop-color="#fff900"/><stop offset="0.2358" stop-color="#28ffd7"/><stop offset="0.2396" stop-color="#01fffe"/><stop offset="0.2623" stop-color="#001dff"/><stop offset="0.2660" stop-color="#0000fb"/><stop offset="0.2774" stop-color="#0000a8"/><stop offset="0.2849" stop-color="#000083"/><stop offset="0.3226" stop-color="#000080"/><stop offset="0.3302" stop-color="#0000a5"/><stop offset="0.3377" stop-color="#0000e4"/><stop offset="0.3415" stop-color="#000bff"/><stop offset="0.3604" stop-color="#00deff"/><stop offset="0.3642" stop-color="#05fffa"/><stop offset="0.3755" stop-color="#62ff9d"/><stop offset="0.3943" stop-color="#caff35"/><stop offset="0.4057" stop-color="#fffd00"/><stop offset="0.4472" stop-color="#ff1200"/><stop offset="0.4509" stop-color="#ff0100"/><stop offset="0.4698" stop-color="#c50000"/><stop offset="0.4925" stop-color="#b00000"/><stop offset="0.5038" stop-color="#b70000"/><stop offset="0.5151" stop-color="#e70000"/><stop offset="0.5189" stop-color="#ff0300"/><stop offset="0.5340" stop-color="#ff9a00"/><stop offset="0.5415" stop-color="#ffed00"/><stop offset="0.5453" stop-color="#ebff14"/><stop offset="0.5642" stop-color="#4dffb2"/><stop offset="0.5755" stop-color="#00f6ff"/><stop offset="0.6019" stop-color="#001fff"/><stop offset="0.6057" stop-color="#0005ff"/><stop offset="0.6208" stop-color="#0000be"/><stop offset="0.6358" stop-color="#0000a9"/><stop offset="0.6509" stop-color="#0000b3"/><stop offset="0.6623" stop-color="#0000dd"/><stop offset="0.6698" stop-color="#0002ff"/><stop offset="0.6849" stop-color="#0095ff"/><stop offset="0.6925" stop-color="#00e7ff"/><stop offset="0.6962" stop-color="#10ffef"/><stop offset="0.7151" stop-color="#bfff40"/><stop offset="0.7226" stop-color="#faff05"/><stop offset="0.7566" stop-color="#ff1e00"/><stop offset="0.7642" stop-color="#f40000"/><stop offset="0.7792" stop-color="#ba0000"/><stop offset="0.7981" stop-color="#9f0000"/><stop offset="0.8208" stop-color="#ab0000"/><stop offset="0.8358" stop-color="#dc0000"/><stop offset="0.8434" stop-color="#ff0600"/><stop offset="0.8585" stop-color="#ff7a00"/><stop offset="0.8698" stop-color="#ffe600"/><stop offset="0.8736" stop-color="#f2ff0d"/><stop offset="0.8962" stop-color="#11ffee"/><stop offset="0.9000" stop-color="#00ecff"/><stop offset="0.9226" stop-color="#002fff"/><stop offset="0.9302" stop-color="#0000f9"/><stop offset="0.9453" stop-color="#0000a3"/><stop offset="0.9566" stop-color="#000080"/><stop offset="0.9792" stop-color="#000080"/><stop offset="0.9868" stop-color="#0000a1"/><stop offset="0.9981" stop-color="#0000f2"/></linearGradient><linearGradient id="g28" gradientUnits="objectBoundingBox"><stop offset="0.0019" stop-color="#0000de"/><stop offset="0.0132" stop-color="#0008ff"/><stop offset="0.0208" stop-color="#0048ff"/><stop offset="0.0358" stop-color="#05fffa"/><stop offset="0.0472" stop-color="#8dff72"/><stop offset="0.0585" stop-color="#f4ff0b"/><stop offset="0.0660" stop-color="#ffd300"/><stop offset="0.0962" stop-color="#ff0b00"/><stop offset="0.1038" stop-color="#dd0000"/><stop offset="0.1226" stop-color="#860000"/><stop offset="0.1717" stop-color="#800000"/><stop offset="0.1830" stop-color="#c00000"/><stop offset="0.1906" stop-color="#f90000"/><stop offset="0.2019" stop-color="#ff6000"/><stop offset="0.2170" stop-color="#fff600"/><stop offset="0.2283" stop-color="#93ff6c"/><stop offset="0.2396" stop-color="#1dffe2"/><stop offset="0.2434" stop-color="#00f4ff"/><stop offset="0.2660" stop-color="#000dff"/><stop offset="0.2698" stop-color="#0000eb"/><stop offset="0.2811" stop-color="#00009b"/><stop offset="0.2849" stop-color="#000087"/><stop offset="0.3113" stop-color="#000080"/><stop offset="0.3302" stop-color="#000085"/><stop offset="0.3415" stop-color="#0000d8"/><stop offset="0.3453" stop-color="#0000fd"/><stop offset="0.3679" stop-color="#00f2ff"/><stop offset="0.3717" stop-color="#17ffe8"/><stop offset="0.3868" stop-color="#86ff79"/><stop offset="0.4094" stop-color="#feff01"/><stop offset="0.4509" stop-color="#ff0600"/><stop offset="0.4736" stop-color="#b10000"/><stop offset="0.4962" stop-color="#9b0000"/><stop offset="0.5075" stop-color="#a60000"/><stop offset="0.5151" stop-color="#c30000"/><stop offset="0.5226" stop-color="#f80000"/><stop offset="0.5302" stop-color="#ff4400"/><stop offset="0.5453" stop-color="#fff100"/><stop offset="0.5491" stop-color="#e5ff1a"/><stop offset="0.5642" stop-color="#5cffa3"/><stop offset="0.5755" stop-color="#03fffc"/><stop offset="0.6057" stop-color="#000cff"/><stop offset="0.6132" stop-color="#0000dd"/><stop offset="0.6283" stop-color="#0000a9"/><stop offset="0.6472" stop-color="#0000a2"/><stop offset="0.6585" stop-color="#0000b9"/><stop offset="0.6698" stop-color="#0000e7"/><stop offset="0.6736" stop-color="#0007ff"/><stop offset="0.6925" stop-color="#00cbff"/><stop offset="0.6962" stop-color="#00f5ff"/><stop offset="0.7038" stop-color="#45ffba"/><stop offset="0.7226" stop-color="#ebff14"/><stop offset="0.7264" stop-color="#fff700"/><stop offset="0.7566" stop-color="#ff2600"/><stop offset="0.7642" stop-color="#fa0000"/><stop offset="0.7830" stop-color="#b00000"/><stop offset="0.8019" stop-color="#9a0000"/><stop offset="0.8245" stop-color="#aa0000"/><stop offset="0.8396" stop-color="#dd0000"/><stop offset="0.8472" stop-color="#ff0900"/><stop offset="0.8623" stop-color="#ff7e00"/><stop offset="0.8736" stop-color="#ffeb00"/><stop offset="0.8774" stop-color="#ecff13"/><stop offset="0.9000" stop-color="#04fffb"/><stop offset="0.9226" stop-color="#0038ff"/><stop offset="0.9302" stop-color="#0000fe"/><stop offset="0.9453" stop-color="#0000a3"/><stop offset="0.9528" stop-color="#000084"/><stop offset="0.9830" stop-color="#000083"/><stop offset="0.9943" stop-color="#0000c9"/><stop offset="0.9981" stop-color="#0000e6"/></linearGradient><linearGradient id="g29" gradientUnits="objectBoundingBox"><stop offset="0.0019" stop-color="#0000be"/><stop offset="0.0094" stop-color="#0000cd"/><stop offset="0.0170" stop-color="#0000f8"/><stop offset="0.0208" stop-color="#001bff"/><stop offset="0.0321" stop-color="#00a6ff"/><stop offset="0.0358" stop-color="#00daff"/><stop offset="0.0396" stop-color="#0efff1"/><stop offset="0.0509" stop-color="#96ff69"/><stop offset="0.0623" stop-color="#faff05"/><stop offset="0.1000" stop-color="#ff0400"/><stop offset="0.1226" stop-color="#880000"/><stop offset="0.1377" stop-color="#800000"/><stop offset="0.1792" stop-color="#850000"/><stop offset="0.1943" stop-color="#ed0000"/><stop offset="0.1981" stop-color="#ff1000"/><stop offset="0.2208" stop-color="#fff600"/><stop offset="0.2321" stop-color="#8dff72"/><stop offset="0.2434" stop-color="#10ffef"/><stop offset="0.2472" stop-color="#00e6ff"/><stop offset="0.2660" stop-color="#0020ff"/><stop offset="0.2698" stop-color="#0000fc"/><stop offset="0.2811" stop-color="#0000a4"/><stop offset="0.2887" stop-color="#000080"/><stop offset="0.3340" stop-color="#000080"/><stop offset="0.3415" stop-color="#0000ae"/><stop offset="0.3491" stop-color="#0000f1"/><stop offset="0.3528" stop-color="#0018ff"/><stop offset="0.3717" stop-color="#00e2ff"/><stop offset="0.3755" stop-color="#06fff9"/><stop offset="0.3906" stop-color="#7aff85"/><stop offset="0.4132" stop-color="#fcff03"/><stop offset="0.4396" stop-color="#ff5400"/><stop offset="0.4509" stop-color="#ff0a00"/><stop offset="0.4585" stop-color="#df0000"/><stop offset="0.4736" stop-color="#a40000"/><stop offset="0.4925" stop-color="#880000"/><stop offset="0.5075" stop-color="#8d0000"/><stop offset="0.5189" stop-color="#ba0000"/><stop offset="0.5264" stop-color="#f40000"/><stop offset="0.5302" stop-color="#ff1a00"/><stop offset="0.5491" stop-color="#fff500"/><stop offset="0.5566" stop-color="#b8ff47"/><stop offset="0.5755" stop-color="#10ffef"/><stop offset="0.5792" stop-color="#00f0ff"/><stop offset="0.6057" stop-color="#0014ff"/><stop offset="0.6094" stop-color="#0000f9"/><stop offset="0.6208" stop-color="#0000bd"/><stop offset="0.6358" stop-color="#00009b"/><stop offset="0.6547" stop-color="#0000a0"/><stop offset="0.6698" stop-color="#0000cf"/><stop offset="0.6736" stop-color="#0000ec"/><stop offset="0.6774" stop-color="#000eff"/><stop offset="0.7000" stop-color="#05fffa"/><stop offset="0.7189" stop-color="#beff41"/><stop offset="0.7264" stop-color="#fbff04"/><stop offset="0.7604" stop-color="#ff1400"/><stop offset="0.7642" stop-color="#fe0000"/><stop offset="0.7792" stop-color="#ba0000"/><stop offset="0.7981" stop-color="#970000"/><stop offset="0.8208" stop-color="#9d0000"/><stop offset="0.8358" stop-color="#c30000"/><stop offset="0.8472" stop-color="#fd0000"/><stop offset="0.8585" stop-color="#ff5000"/><stop offset="0.8774" stop-color="#faff05"/><stop offset="0.9000" stop-color="#0efff1"/><stop offset="0.9038" stop-color="#00e8ff"/><stop offset="0.9226" stop-color="#003dff"/><stop offset="0.9302" stop-color="#0002ff"/><stop offset="0.9491" stop-color="#000092"/><stop offset="0.9566" stop-color="#000080"/><stop offset="0.9830" stop-color="#000080"/><stop offset="0.9943" stop-color="#0000c5"/><stop offset="0.9981" stop-color="#0000e2"/></linearGradient><linearGradient id="g30" gradientUnits="objectBoundingBox"><stop offset="0.0019" stop-color="#0000a9"/><stop offset="0.0094" stop-color="#0000b3"/><stop offset="0.0170" stop-color="#0000d8"/><stop offset="0.0208" stop-color="#0000f7"/><stop offset="0.0245" stop-color="#001eff"/><stop offset="0.0396" stop-color="#00e8ff"/><stop offset="0.0434" stop-color="#1cffe3"/><stop offset="0.0547" stop-color="#a0ff5f"/><stop offset="0.0660" stop-color="#fffe00"/><stop offset="0.1000" stop-color="#ff1300"/><stop offset="0.1038" stop-color="#f90000"/><stop offset="0.1226" stop-color="#8c0000"/><stop offset="0.1302" stop-color="#800000"/><stop offset="0.1830" stop-color="#810000"/><stop offset="0.1943" stop-color="#d10000"/><stop offset="0.1981" stop-color="#f20000"/><stop offset="0.2019" stop-color="#ff1600"/><stop offset="0.2208" stop-color="#ffde00"/><stop offset="0.2245" stop-color="#f6ff09"/><stop offset="0.2472" stop-color="#00faff"/><stop offset="0.2698" stop-color="#000eff"/><stop offset="0.2736" stop-color="#0000eb"/><stop offset="0.2849" stop-color="#000096"/><stop offset="0.2887" stop-color="#000081"/><stop offset="0.3377" stop-color="#000080"/><stop offset="0.3415" stop-color="#000089"/><stop offset="0.3528" stop-color="#0000e4"/><stop offset="0.3566" stop-color="#000aff"/><stop offset="0.3792" stop-color="#00f5ff"/><stop offset="0.3868" stop-color="#37ffc8"/><stop offset="0.4094" stop-color="#cbff34"/><stop offset="0.4170" stop-color="#f9ff06"/><stop offset="0.4321" stop-color="#ff9d00"/><stop offset="0.4509" stop-color="#ff1200"/><stop offset="0.4547" stop-color="#f80000"/><stop offset="0.4698" stop-color="#a70000"/><stop offset="0.4811" stop-color="#840000"/><stop offset="0.5113" stop-color="#800000"/><stop offset="0.5189" stop-color="#9b0000"/><stop offset="0.5302" stop-color="#f10000"/><stop offset="0.5340" stop-color="#ff1900"/><stop offset="0.5528" stop-color="#fffa00"/><stop offset="0.5755" stop-color="#24ffdb"/><stop offset="0.5792" stop-color="#03fffc"/><stop offset="0.6094" stop-color="#0004ff"/><stop offset="0.6245" stop-color="#0000b1"/><stop offset="0.6396" stop-color="#000093"/><stop offset="0.6547" stop-color="#000096"/><stop offset="0.6698" stop-color="#0000bc"/><stop offset="0.6774" stop-color="#0000f7"/><stop offset="0.6811" stop-color="#001bff"/><stop offset="0.7000" stop-color="#00efff"/><stop offset="0.7038" stop-color="#1affe5"/><stop offset="0.7189" stop-color="#b0ff4f"/><stop offset="0.7264" stop-color="#f0ff0f"/><stop offset="0.7302" stop-color="#fff000"/><stop offset="0.7604" stop-color="#ff1900"/><stop offset="0.7642" stop-color="#ff0200"/><stop offset="0.7830" stop-color="#ae0000"/><stop offset="0.7981" stop-color="#930000"/><stop offset="0.8208" stop-color="#970000"/><stop offset="0.8358" stop-color="#bb0000"/><stop offset="0.8472" stop-color="#f20000"/><stop offset="0.8509" stop-color="#ff0b00"/><stop offset="0.8660" stop-color="#ff8500"/><stop offset="0.8774" stop-color="#fff500"/><stop offset="0.8849" stop-color="#b9ff46"/><stop offset="0.9000" stop-color="#19ffe6"/><stop offset="0.9038" stop-color="#00f2ff"/><stop offset="0.9226" stop-color="#0042ff"/><stop offset="0.9302" stop-color="#0006ff"/><stop offset="0.9491" stop-color="#000092"/><stop offset="0.9528" stop-color="#000082"/><stop offset="0.9830" stop-color="#000080"/><stop offset="0.9906" stop-color="#0000a5"/><stop offset="0.9981" stop-color="#0000de"/></linearGradient><linearGradient id="g31" gradientUnits="objectBoundingBox"><stop offset="0.0019" stop-color="#0000a0"/><stop offset="0.0132" stop-color="#0000b0"/><stop offset="0.0208" stop-color="#0000de"/><stop offset="0.0245" stop-color="#0002ff"/><stop offset="0.0358" stop-color="#0091ff"/><stop offset="0.0434" stop-color="#00fbff"/><stop offset="0.0547" stop-color="#86ff79"/><stop offset="0.0660" stop-color="#eaff15"/><stop offset="0.0698" stop-color="#fff800"/><stop offset="0.1038" stop-color="#ff0a00"/><stop offset="0.1113" stop-color="#d60000"/><stop offset="0.1264" stop-color="#800000"/><stop offset="0.1868" stop-color="#800000"/><stop offset="0.1981" stop-color="#d50000"/><stop offset="0.2019" stop-color="#f90000"/><stop offset="0.2094" stop-color="#ff4700"/><stop offset="0.2245" stop-color="#fff000"/><stop offset="0.2283" stop-color="#e3ff1c"/><stop offset="0.2472" stop-color="#10ffef"/><stop offset="0.2509" stop-color="#00e5ff"/><stop offset="0.2698" stop-color="#0020ff"/><stop offset="0.2736" stop-color="#0000fc"/><stop offset="0.2849" stop-color="#0000a1"/><stop offset="0.2887" stop-color="#000089"/><stop offset="0.3000" stop-color="#000080"/><stop offset="0.3453" stop-color="#000080"/><stop offset="0.3566" stop-color="#0000d8"/><stop offset="0.3604" stop-color="#0000fc"/><stop offset="0.3830" stop-color="#00e5ff"/><stop offset="0.3868" stop-color="#08fff7"/><stop offset="0.4057" stop-color="#94ff6b"/><stop offset="0.4208" stop-color="#f6ff09"/><stop offset="0.4283" stop-color="#ffd200"/><stop offset="0.4547" stop-color="#ff0100"/><stop offset="0.4698" stop-color="#a10000"/><stop offset="0.4774" stop-color="#810000"/><stop offset="0.5189" stop-color="#800000"/><stop offset="0.5264" stop-color="#ac0000"/><stop offset="0.5340" stop-color="#ef0000"/><stop offset="0.5377" stop-color="#ff1900"/><stop offset="0.5566" stop-color="#fffd00"/><stop offset="0.5755" stop-color="#3fffc0"/><stop offset="0.5830" stop-color="#00f9ff"/><stop offset="0.6094" stop-color="#0011ff"/><stop offset="0.6132" stop-color="#0000f5"/><stop offset="0.6245" stop-color="#0000b5"/><stop offset="0.6358" stop-color="#000095"/><stop offset="0.6547" stop-color="#000090"/><stop offset="0.6698" stop-color="#0000ae"/><stop offset="0.6774" stop-color="#0000e6"/><stop offset="0.6811" stop-color="#000aff"/><stop offset="0.7000" stop-color="#00deff"/><stop offset="0.7038" stop-color="#0bfff4"/><stop offset="0.7189" stop-color="#a5ff5a"/><stop offset="0.7302" stop-color="#fffa00"/><stop offset="0.7604" stop-color="#ff1e00"/><stop offset="0.7642" stop-color="#ff0700"/><stop offset="0.7830" stop-color="#ad0000"/><stop offset="0.7981" stop-color="#8f0000"/><stop offset="0.8245" stop-color="#960000"/><stop offset="0.8396" stop-color="#c10000"/><stop offset="0.8509" stop-color="#ff0000"/><stop offset="0.8660" stop-color="#ff7800"/><stop offset="0.8774" stop-color="#ffe700"/><stop offset="0.8811" stop-color="#efff10"/><stop offset="0.9038" stop-color="#00fcff"/><stop offset="0.9264" stop-color="#0028ff"/><stop offset="0.9302" stop-color="#000aff"/><stop offset="0.9377" stop-color="#0000d3"/><stop offset="0.9528" stop-color="#000082"/><stop offset="0.9830" stop-color="#000080"/><stop offset="0.9868" stop-color="#000089"/><stop offset="0.9981" stop-color="#0000da"/></linearGradient><linearGradient id="g32" gradientUnits="objectBoundingBox"><stop offset="0.0019" stop-color="#000096"/><stop offset="0.0132" stop-color="#0000a1"/><stop offset="0.0208" stop-color="#0000c7"/><stop offset="0.0245" stop-color="#0000e7"/><stop offset="0.0283" stop-color="#000fff"/><stop offset="0.0434" stop-color="#00daff"/><stop offset="0.0472" stop-color="#0ffff0"/><stop offset="0.0585" stop-color="#92ff6d"/><stop offset="0.0698" stop-color="#f0ff0f"/><stop offset="0.0736" stop-color="#fff300"/><stop offset="0.1075" stop-color="#ff0100"/><stop offset="0.1264" stop-color="#890000"/><stop offset="0.1377" stop-color="#800000"/><stop offset="0.1906" stop-color="#800000"/><stop offset="0.2019" stop-color="#db0000"/><stop offset="0.2057" stop-color="#ff0200"/><stop offset="0.2283" stop-color="#fdff02"/><stop offset="0.2509" stop-color="#01fffe"/><stop offset="0.2736" stop-color="#0014ff"/><stop offset="0.2774" stop-color="#0000f0"/><stop offset="0.2925" stop-color="#000080"/><stop offset="0.3491" stop-color="#000080"/><stop offset="0.3604" stop-color="#0000d7"/><stop offset="0.3642" stop-color="#0000fb"/><stop offset="0.3906" stop-color="#04fffb"/><stop offset="0.4132" stop-color="#aaff55"/><stop offset="0.4245" stop-color="#f7ff08"/><stop offset="0.4321" stop-color="#ffcd00"/><stop offset="0.4547" stop-color="#ff0c00"/><stop offset="0.4623" stop-color="#cf0000"/><stop offset="0.4736" stop-color="#890000"/><stop offset="0.4849" stop-color="#800000"/><stop offset="0.5226" stop-color="#800000"/><stop offset="0.5302" stop-color="#ae0000"/><stop offset="0.5377" stop-color="#f70000"/><stop offset="0.5453" stop-color="#ff5000"/><stop offset="0.5566" stop-color="#ffdc00"/><stop offset="0.5604" stop-color="#f6ff09"/><stop offset="0.5792" stop-color="#34ffcb"/><stop offset="0.5830" stop-color="#11ffee"/><stop offset="0.5868" stop-color="#00edff"/><stop offset="0.6132" stop-color="#0003ff"/><stop offset="0.6283" stop-color="#0000ab"/><stop offset="0.6396" stop-color="#00008e"/><stop offset="0.6585" stop-color="#00008e"/><stop offset="0.6660" stop-color="#0000a1"/><stop offset="0.6698" stop-color="#0000a1"/><stop offset="0.6811" stop-color="#0000f7"/><stop offset="0.6887" stop-color="#0047ff"/><stop offset="0.7038" stop-color="#00f9ff"/><stop offset="0.7226" stop-color="#bbff44"/><stop offset="0.7302" stop-color="#faff05"/><stop offset="0.7642" stop-color="#ff0b00"/><stop offset="0.7717" stop-color="#de0000"/><stop offset="0.7868" stop-color="#a10000"/><stop offset="0.8019" stop-color="#880000"/><stop offset="0.8245" stop-color="#900000"/><stop offset="0.8396" stop-color="#b80000"/><stop offset="0.8509" stop-color="#f30000"/><stop offset="0.8547" stop-color="#ff0e00"/><stop offset="0.8698" stop-color="#ff8d00"/><stop offset="0.8811" stop-color="#fdff02"/><stop offset="0.9038" stop-color="#08fff7"/><stop offset="0.9189" stop-color="#0070ff"/><stop offset="0.9302" stop-color="#000eff"/><stop offset="0.9340" stop-color="#0000f0"/><stop offset="0.9491" stop-color="#000092"/><stop offset="0.9528" stop-color="#000081"/><stop offset="0.9868" stop-color="#000084"/><stop offset="0.9981" stop-color="#0000d6"/></linearGradient><linearGradient id="g33" gradientUnits="objectBoundingBox"><stop offset="0.0019" stop-color="#00008d"/><stop offset="0.0132" stop-color="#000093"/><stop offset="0.0208" stop-color="#0000b2"/><stop offset="0.0283" stop-color="#0000f2"/><stop offset="0.0321" stop-color="#001fff"/><stop offset="0.0472" stop-color="#00eeff"/><stop offset="0.0509" stop-color="#20ffdf"/><stop offset="0.0623" stop-color="#9cff63"/><stop offset="0.0736" stop-color="#f6ff09"/><stop offset="0.0811" stop-color="#ffd400"/><stop offset="0.1075" stop-color="#ff1400"/><stop offset="0.1113" stop-color="#f80000"/><stop offset="0.1302" stop-color="#800000"/><stop offset="0.1943" stop-color="#800000"/><stop offset="0.2057" stop-color="#e30000"/><stop offset="0.2094" stop-color="#ff0b00"/><stop offset="0.2283" stop-color="#ffe300"/><stop offset="0.2321" stop-color="#f0ff0f"/><stop offset="0.2509" stop-color="#20ffdf"/><stop offset="0.2547" stop-color="#00f7ff"/><stop offset="0.2774" stop-color="#000eff"/><stop offset="0.2811" stop-color="#0000eb"/><stop offset="0.2925" stop-color="#000093"/><stop offset="0.2962" stop-color="#000080"/><stop offset="0.3528" stop-color="#000085"/><stop offset="0.3679" stop-color="#0005ff"/><stop offset="0.3906" stop-color="#00e8ff"/><stop offset="0.3943" stop-color="#0bfff4"/><stop offset="0.4208" stop-color="#c6ff39"/><stop offset="0.4283" stop-color="#fcff03"/><stop offset="0.4472" stop-color="#ff5f00"/><stop offset="0.4547" stop-color="#ff1800"/><stop offset="0.4585" stop-color="#f50000"/><stop offset="0.4736" stop-color="#850000"/><stop offset="0.5264" stop-color="#800000"/><stop offset="0.5340" stop-color="#ba0000"/><stop offset="0.5415" stop-color="#ff0b00"/><stop offset="0.5604" stop-color="#fff000"/><stop offset="0.5642" stop-color="#e3ff1c"/><stop offset="0.5868" stop-color="#04fffb"/><stop offset="0.6132" stop-color="#0012ff"/><stop offset="0.6170" stop-color="#0000f3"/><stop offset="0.6283" stop-color="#0000af"/><stop offset="0.6396" stop-color="#00008c"/><stop offset="0.6585" stop-color="#000087"/><stop offset="0.6660" stop-color="#000097"/><stop offset="0.6698" stop-color="#000094"/><stop offset="0.6811" stop-color="#0000e5"/><stop offset="0.6849" stop-color="#000bff"/><stop offset="0.7038" stop-color="#00e9ff"/><stop offset="0.7075" stop-color="#16ffe9"/><stop offset="0.7226" stop-color="#afff50"/><stop offset="0.7302" stop-color="#f0ff0f"/><stop offset="0.7340" stop-color="#fff000"/><stop offset="0.7642" stop-color="#ff1000"/><stop offset="0.7679" stop-color="#f70000"/><stop offset="0.7830" stop-color="#ac0000"/><stop offset="0.7981" stop-color="#880000"/><stop offset="0.8208" stop-color="#860000"/><stop offset="0.8358" stop-color="#a30000"/><stop offset="0.8509" stop-color="#e80000"/><stop offset="0.8547" stop-color="#ff0200"/><stop offset="0.8698" stop-color="#ff7f00"/><stop offset="0.8811" stop-color="#fff200"/><stop offset="0.8849" stop-color="#e3ff1c"/><stop offset="0.9038" stop-color="#14ffeb"/><stop offset="0.9075" stop-color="#00eaff"/><stop offset="0.9264" stop-color="#0033ff"/><stop offset="0.9302" stop-color="#0013ff"/><stop offset="0.9340" stop-color="#0000f4"/><stop offset="0.9491" stop-color="#000093"/><stop offset="0.9528" stop-color="#000081"/><stop offset="0.9868" stop-color="#000080"/><stop offset="0.9981" stop-color="#0000d1"/></linearGradient><linearGradient id="g34" gradientUnits="objectBoundingBox"><stop offset="0.0019" stop-color="#000084"/><stop offset="0.0132" stop-color="#000086"/><stop offset="0.0208" stop-color="#00009f"/><stop offset="0.0283" stop-color="#0000d8"/><stop offset="0.0321" stop-color="#0001ff"/><stop offset="0.0509" stop-color="#00ffff"/><stop offset="0.0623" stop-color="#82ff7d"/><stop offset="0.0774" stop-color="#f9ff06"/><stop offset="0.0962" stop-color="#ff8200"/><stop offset="0.1113" stop-color="#ff0f00"/><stop offset="0.1151" stop-color="#f20000"/><stop offset="0.1302" stop-color="#8d0000"/><stop offset="0.1340" stop-color="#800000"/><stop offset="0.1943" stop-color="#800000"/><stop offset="0.1981" stop-color="#8c0000"/><stop offset="0.2094" stop-color="#f50000"/><stop offset="0.2170" stop-color="#ff4900"/><stop offset="0.2321" stop-color="#fff800"/><stop offset="0.2547" stop-color="#15ffea"/><stop offset="0.2585" stop-color="#00edff"/><stop offset="0.2811" stop-color="#0008ff"/><stop offset="0.2962" stop-color="#00008e"/><stop offset="0.3000" stop-color="#000080"/><stop offset="0.3528" stop-color="#000080"/><stop offset="0.3566" stop-color="#00008c"/><stop offset="0.3679" stop-color="#0000e9"/><stop offset="0.3717" stop-color="#000fff"/><stop offset="0.3943" stop-color="#00f0ff"/><stop offset="0.3981" stop-color="#11ffee"/><stop offset="0.4321" stop-color="#fffc00"/><stop offset="0.4509" stop-color="#ff4e00"/><stop offset="0.4585" stop-color="#ff0400"/><stop offset="0.4736" stop-color="#840000"/><stop offset="0.5302" stop-color="#850000"/><stop offset="0.5415" stop-color="#f30000"/><stop offset="0.5453" stop-color="#ff2000"/><stop offset="0.5642" stop-color="#faff05"/><stop offset="0.5830" stop-color="#3cffc3"/><stop offset="0.5906" stop-color="#00f5ff"/><stop offset="0.6170" stop-color="#0002ff"/><stop offset="0.6321" stop-color="#0000a4"/><stop offset="0.6434" stop-color="#000085"/><stop offset="0.6623" stop-color="#000085"/><stop offset="0.6698" stop-color="#000089"/><stop offset="0.6811" stop-color="#0000d4"/><stop offset="0.6849" stop-color="#0000f8"/><stop offset="0.6925" stop-color="#004dff"/><stop offset="0.7075" stop-color="#06fff9"/><stop offset="0.7226" stop-color="#a4ff5b"/><stop offset="0.7340" stop-color="#fffa00"/><stop offset="0.7642" stop-color="#ff1600"/><stop offset="0.7679" stop-color="#fc0000"/><stop offset="0.7830" stop-color="#ad0000"/><stop offset="0.7981" stop-color="#840000"/><stop offset="0.8245" stop-color="#840000"/><stop offset="0.8396" stop-color="#a70000"/><stop offset="0.8547" stop-color="#f60000"/><stop offset="0.8585" stop-color="#ff1100"/><stop offset="0.8736" stop-color="#ff9600"/><stop offset="0.8811" stop-color="#ffe400"/><stop offset="0.8849" stop-color="#f1ff0e"/><stop offset="0.9038" stop-color="#1fffe0"/><stop offset="0.9075" stop-color="#00f5ff"/><stop offset="0.9264" stop-color="#0039ff"/><stop offset="0.9340" stop-color="#0000f8"/><stop offset="0.9491" stop-color="#000094"/><stop offset="0.9528" stop-color="#000081"/><stop offset="0.9868" stop-color="#000080"/><stop offset="0.9943" stop-color="#0000ae"/><stop offset="0.9981" stop-color="#0000cd"/></linearGradient><linearGradient id="g35" gradientUnits="objectBoundingBox"><stop offset="0.0019" stop-color="#000080"/><stop offset="0.0170" stop-color="#000080"/><stop offset="0.0245" stop-color="#0000a1"/><stop offset="0.0321" stop-color="#0000e3"/><stop offset="0.0358" stop-color="#0010ff"/><stop offset="0.0509" stop-color="#00deff"/><stop offset="0.0547" stop-color="#10ffef"/><stop offset="0.0660" stop-color="#89ff76"/><stop offset="0.0811" stop-color="#f8ff07"/><stop offset="0.0925" stop-color="#ffb900"/><stop offset="0.1151" stop-color="#ff0b00"/><stop offset="0.1226" stop-color="#d20000"/><stop offset="0.1340" stop-color="#890000"/><stop offset="0.1453" stop-color="#800000"/><stop offset="0.1981" stop-color="#840000"/><stop offset="0.2094" stop-color="#eb0000"/><stop offset="0.2132" stop-color="#ff1400"/><stop offset="0.2321" stop-color="#ffe900"/><stop offset="0.2358" stop-color="#ecff13"/><stop offset="0.2585" stop-color="#0afff5"/><stop offset="0.2660" stop-color="#00beff"/><stop offset="0.2849" stop-color="#0003ff"/><stop offset="0.3000" stop-color="#00008a"/><stop offset="0.3075" stop-color="#000080"/><stop offset="0.3566" stop-color="#000080"/><stop offset="0.3642" stop-color="#0000af"/><stop offset="0.3717" stop-color="#0000f2"/><stop offset="0.3755" stop-color="#0018ff"/><stop offset="0.3981" stop-color="#00f8ff"/><stop offset="0.4245" stop-color="#b2ff4d"/><stop offset="0.4358" stop-color="#fff700"/><stop offset="0.4547" stop-color="#ff3d00"/><stop offset="0.4585" stop-color="#ff1500"/><stop offset="0.4623" stop-color="#ed0000"/><stop offset="0.4736" stop-color="#870000"/><stop offset="0.5000" stop-color="#800000"/><stop offset="0.5302" stop-color="#800000"/><stop offset="0.5340" stop-color="#920000"/><stop offset="0.5453" stop-color="#ff0900"/><stop offset="0.5642" stop-color="#ffee00"/><stop offset="0.5679" stop-color="#e6ff19"/><stop offset="0.5906" stop-color="#0cfff3"/><stop offset="0.5943" stop-color="#00e8ff"/><stop offset="0.6170" stop-color="#0012ff"/><stop offset="0.6208" stop-color="#0000f2"/><stop offset="0.6321" stop-color="#0000a9"/><stop offset="0.6434" stop-color="#000083"/><stop offset="0.6698" stop-color="#000080"/><stop offset="0.6774" stop-color="#0000a6"/><stop offset="0.6849" stop-color="#0000e6"/><stop offset="0.6887" stop-color="#000eff"/><stop offset="0.7075" stop-color="#00f4ff"/><stop offset="0.7151" stop-color="#4cffb3"/><stop offset="0.7302" stop-color="#dbff24"/><stop offset="0.7340" stop-color="#faff05"/><stop offset="0.7679" stop-color="#ff0200"/><stop offset="0.7868" stop-color="#9e0000"/><stop offset="0.7981" stop-color="#810000"/><stop offset="0.8283" stop-color="#840000"/><stop offset="0.8434" stop-color="#ae0000"/><stop offset="0.8585" stop-color="#ff0500"/><stop offset="0.8736" stop-color="#ff8800"/><stop offset="0.8849" stop-color="#fffe00"/><stop offset="0.9075" stop-color="#02fffd"/><stop offset="0.9264" stop-color="#0040ff"/><stop offset="0.9340" stop-color="#0000fd"/><stop offset="0.9491" stop-color="#000095"/><stop offset="0.9528" stop-color="#000082"/><stop offset="0.9868" stop-color="#000080"/><stop offset="0.9906" stop-color="#00008d"/><stop offset="0.9981" stop-color="#0000c8"/></linearGradient><linearGradient id="g36" gradientUnits="objectBoundingBox"><stop offset="0.0019" stop-color="#000080"/><stop offset="0.0208" stop-color="#000080"/><stop offset="0.0283" stop-color="#0000a7"/><stop offset="0.0358" stop-color="#0000f1"/><stop offset="0.0396" stop-color="#0021ff"/><stop offset="0.0547" stop-color="#00efff"/><stop offset="0.0585" stop-color="#1fffe0"/><stop offset="0.0698" stop-color="#8fff70"/><stop offset="0.0849" stop-color="#f7ff08"/><stop offset="0.0925" stop-color="#ffd400"/><stop offset="0.1189" stop-color="#ff0800"/><stop offset="0.1340" stop-color="#9c0000"/><stop offset="0.1377" stop-color="#860000"/><stop offset="0.1981" stop-color="#800000"/><stop offset="0.2094" stop-color="#e20000"/><stop offset="0.2132" stop-color="#ff0a00"/><stop offset="0.2358" stop-color="#fbff04"/><stop offset="0.2623" stop-color="#01fffe"/><stop offset="0.2887" stop-color="#0000fc"/><stop offset="0.3038" stop-color="#000085"/><stop offset="0.3604" stop-color="#000080"/><stop offset="0.3717" stop-color="#0000d8"/><stop offset="0.3755" stop-color="#0000fc"/><stop offset="0.4019" stop-color="#01fffe"/><stop offset="0.4208" stop-color="#87ff78"/><stop offset="0.4358" stop-color="#f2ff0d"/><stop offset="0.4396" stop-color="#ffec00"/><stop offset="0.4623" stop-color="#fc0000"/><stop offset="0.4736" stop-color="#8e0000"/><stop offset="0.4774" stop-color="#800000"/><stop offset="0.5302" stop-color="#800000"/><stop offset="0.5340" stop-color="#8a0000"/><stop offset="0.5453" stop-color="#ff0100"/><stop offset="0.5642" stop-color="#ffe200"/><stop offset="0.5679" stop-color="#f3ff0c"/><stop offset="0.5943" stop-color="#02fffd"/><stop offset="0.6208" stop-color="#0009ff"/><stop offset="0.6283" stop-color="#0000cf"/><stop offset="0.6396" stop-color="#000095"/><stop offset="0.6509" stop-color="#000080"/><stop offset="0.6698" stop-color="#000080"/><stop offset="0.6774" stop-color="#00009f"/><stop offset="0.6887" stop-color="#0003ff"/><stop offset="0.7075" stop-color="#00ebff"/><stop offset="0.7113" stop-color="#1affe5"/><stop offset="0.7264" stop-color="#b5ff4a"/><stop offset="0.7340" stop-color="#f5ff0a"/><stop offset="0.7415" stop-color="#ffcd00"/><stop offset="0.7679" stop-color="#ff0600"/><stop offset="0.7868" stop-color="#a00000"/><stop offset="0.7981" stop-color="#820000"/><stop offset="0.8283" stop-color="#820000"/><stop offset="0.8434" stop-color="#ab0000"/><stop offset="0.8585" stop-color="#ff0000"/><stop offset="0.8736" stop-color="#ff8000"/><stop offset="0.8849" stop-color="#fff500"/><stop offset="0.8925" stop-color="#b5ff4a"/><stop offset="0.9075" stop-color="#0afff5"/><stop offset="0.9151" stop-color="#00b8ff"/><stop offset="0.9302" stop-color="#0024ff"/><stop offset="0.9340" stop-color="#0004ff"/><stop offset="0.9528" stop-color="#000085"/><stop offset="0.9868" stop-color="#000080"/><stop offset="0.9906" stop-color="#00008d"/><stop offset="0.9981" stop-color="#0000c8"/></linearGradient><linearGradient id="g37" gradientUnits="objectBoundingBox"><stop offset="0.0019" stop-color="#000080"/><stop offset="0.0208" stop-color="#000080"/><stop offset="0.0283" stop-color="#0000a8"/><stop offset="0.0358" stop-color="#0000ef"/><stop offset="0.0396" stop-color="#001cff"/><stop offset="0.0547" stop-color="#00e3ff"/><stop offset="0.0585" stop-color="#12ffed"/><stop offset="0.0698" stop-color="#7eff81"/><stop offset="0.0887" stop-color="#f7ff08"/><stop offset="0.0962" stop-color="#ffd500"/><stop offset="0.1226" stop-color="#ff0400"/><stop offset="0.1415" stop-color="#840000"/><stop offset="0.1981" stop-color="#800000"/><stop offset="0.2057" stop-color="#b70000"/><stop offset="0.2132" stop-color="#ff0200"/><stop offset="0.2358" stop-color="#fff800"/><stop offset="0.2623" stop-color="#1bffe4"/><stop offset="0.2660" stop-color="#00f8ff"/><stop offset="0.2887" stop-color="#001bff"/><stop offset="0.2925" stop-color="#0000f7"/><stop offset="0.3038" stop-color="#00009a"/><stop offset="0.3075" stop-color="#000082"/><stop offset="0.3604" stop-color="#000080"/><stop offset="0.3642" stop-color="#000088"/><stop offset="0.3755" stop-color="#0000e4"/><stop offset="0.3792" stop-color="#0009ff"/><stop offset="0.4019" stop-color="#00eaff"/><stop offset="0.4057" stop-color="#0bfff4"/><stop offset="0.4396" stop-color="#fffc00"/><stop offset="0.4547" stop-color="#ff6100"/><stop offset="0.4623" stop-color="#ff0b00"/><stop offset="0.4698" stop-color="#ba0000"/><stop offset="0.4736" stop-color="#960000"/><stop offset="0.4774" stop-color="#800000"/><stop offset="0.5302" stop-color="#800000"/><stop offset="0.5340" stop-color="#8e0000"/><stop offset="0.5453" stop-color="#ff0600"/><stop offset="0.5642" stop-color="#ffe300"/><stop offset="0.5679" stop-color="#f5ff0a"/><stop offset="0.5906" stop-color="#3bffc4"/><stop offset="0.5981" stop-color="#00fcff"/><stop offset="0.6245" stop-color="#0007ff"/><stop offset="0.6396" stop-color="#0000a6"/><stop offset="0.6509" stop-color="#000089"/><stop offset="0.6660" stop-color="#000089"/><stop offset="0.6698" stop-color="#000080"/><stop offset="0.6811" stop-color="#0000b9"/><stop offset="0.6887" stop-color="#0000ff"/><stop offset="0.7075" stop-color="#00eaff"/><stop offset="0.7113" stop-color="#1affe5"/><stop offset="0.7264" stop-color="#b7ff48"/><stop offset="0.7340" stop-color="#f6ff09"/><stop offset="0.7415" stop-color="#ffcc00"/><stop offset="0.7679" stop-color="#ff0800"/><stop offset="0.7830" stop-color="#b30000"/><stop offset="0.7981" stop-color="#860000"/><stop offset="0.8283" stop-color="#860000"/><stop offset="0.8434" stop-color="#ad0000"/><stop offset="0.8585" stop-color="#ff0100"/><stop offset="0.8736" stop-color="#ff7f00"/><stop offset="0.8849" stop-color="#fff200"/><stop offset="0.8887" stop-color="#e2ff1d"/><stop offset="0.9075" stop-color="#10ffef"/><stop offset="0.9113" stop-color="#00e6ff"/><stop offset="0.9302" stop-color="#002bff"/><stop offset="0.9340" stop-color="#000bff"/><stop offset="0.9415" stop-color="#0000d0"/><stop offset="0.9528" stop-color="#00008c"/><stop offset="0.9604" stop-color="#000080"/><stop offset="0.9868" stop-color="#000080"/><stop offset="0.9943" stop-color="#0000ae"/><stop offset="0.9981" stop-color="#0000cd"/></linearGradient><linearGradient id="g38" gradientUnits="objectBoundingBox"><stop offset="0.0019" stop-color="#00008e"/><stop offset="0.0170" stop-color="#00008d"/><stop offset="0.0245" stop-color="#0000a8"/><stop offset="0.0358" stop-color="#0006ff"/><stop offset="0.0547" stop-color="#00ecff"/><stop offset="0.0585" stop-color="#16ffe9"/><stop offset="0.0698" stop-color="#76ff89"/><stop offset="0.0925" stop-color="#f6ff09"/><stop offset="0.1000" stop-color="#ffd700"/><stop offset="0.1264" stop-color="#ff0100"/><stop offset="0.1415" stop-color="#970000"/><stop offset="0.1453" stop-color="#830000"/><stop offset="0.1981" stop-color="#800000"/><stop offset="0.2057" stop-color="#b20000"/><stop offset="0.2132" stop-color="#fb0000"/><stop offset="0.2358" stop-color="#ffef00"/><stop offset="0.2396" stop-color="#ebff14"/><stop offset="0.2660" stop-color="#11ffee"/><stop offset="0.2698" stop-color="#00f0ff"/><stop offset="0.2925" stop-color="#0018ff"/><stop offset="0.2962" stop-color="#0000f4"/><stop offset="0.3113" stop-color="#000086"/><stop offset="0.3604" stop-color="#000080"/><stop offset="0.3642" stop-color="#00008c"/><stop offset="0.3792" stop-color="#0008ff"/><stop offset="0.4019" stop-color="#00e9ff"/><stop offset="0.4057" stop-color="#0afff5"/><stop offset="0.4396" stop-color="#f4ff0b"/><stop offset="0.4434" stop-color="#ffe900"/><stop offset="0.4623" stop-color="#ff1a00"/><stop offset="0.4660" stop-color="#ee0000"/><stop offset="0.4774" stop-color="#800000"/><stop offset="0.5302" stop-color="#800000"/><stop offset="0.5340" stop-color="#940000"/><stop offset="0.5415" stop-color="#e00000"/><stop offset="0.5453" stop-color="#ff0d00"/><stop offset="0.5642" stop-color="#ffe600"/><stop offset="0.5679" stop-color="#f4ff0b"/><stop offset="0.5830" stop-color="#82ff7d"/><stop offset="0.6019" stop-color="#00f8ff"/><stop offset="0.6283" stop-color="#0004ff"/><stop offset="0.6434" stop-color="#0000a7"/><stop offset="0.6547" stop-color="#00008f"/><stop offset="0.6660" stop-color="#000090"/><stop offset="0.6698" stop-color="#000086"/><stop offset="0.6774" stop-color="#0000a1"/><stop offset="0.6849" stop-color="#0000d8"/><stop offset="0.6887" stop-color="#0000fc"/><stop offset="0.7038" stop-color="#00b8ff"/><stop offset="0.7075" stop-color="#00e9ff"/><stop offset="0.7113" stop-color="#1affe5"/><stop offset="0.7264" stop-color="#b8ff47"/><stop offset="0.7340" stop-color="#f8ff07"/><stop offset="0.7604" stop-color="#ff3f00"/><stop offset="0.7679" stop-color="#ff0b00"/><stop offset="0.7755" stop-color="#dc0000"/><stop offset="0.7906" stop-color="#9b0000"/><stop offset="0.8057" stop-color="#820000"/><stop offset="0.8283" stop-color="#8a0000"/><stop offset="0.8434" stop-color="#b00000"/><stop offset="0.8585" stop-color="#ff0200"/><stop offset="0.8736" stop-color="#ff7e00"/><stop offset="0.8849" stop-color="#fff000"/><stop offset="0.8887" stop-color="#e6ff19"/><stop offset="0.9075" stop-color="#15ffea"/><stop offset="0.9113" stop-color="#00ecff"/><stop offset="0.9302" stop-color="#0031ff"/><stop offset="0.9340" stop-color="#0011ff"/><stop offset="0.9377" stop-color="#0000f2"/><stop offset="0.9528" stop-color="#000092"/><stop offset="0.9566" stop-color="#000082"/><stop offset="0.9868" stop-color="#000081"/><stop offset="0.9981" stop-color="#0000d1"/></linearGradient><linearGradient id="g39" gradientUnits="objectBoundingBox"><stop offset="0.0019" stop-color="#0000a1"/><stop offset="0.0170" stop-color="#0000a3"/><stop offset="0.0245" stop-color="#0000c0"/><stop offset="0.0321" stop-color="#0000f7"/><stop offset="0.0396" stop-color="#0046ff"/><stop offset="0.0547" stop-color="#00f5ff"/><stop offset="0.0623" stop-color="#3dffc2"/><stop offset="0.0736" stop-color="#87ff78"/><stop offset="0.0962" stop-color="#f5ff0a"/><stop offset="0.1038" stop-color="#ffd700"/><stop offset="0.1302" stop-color="#fc0000"/><stop offset="0.1453" stop-color="#950000"/><stop offset="0.1491" stop-color="#820000"/><stop offset="0.1981" stop-color="#800000"/><stop offset="0.2057" stop-color="#b10000"/><stop offset="0.2132" stop-color="#f80000"/><stop offset="0.2208" stop-color="#ff4900"/><stop offset="0.2358" stop-color="#ffe800"/><stop offset="0.2396" stop-color="#f3ff0c"/><stop offset="0.2698" stop-color="#09fff6"/><stop offset="0.2774" stop-color="#00c6ff"/><stop offset="0.2962" stop-color="#0015ff"/><stop offset="0.3000" stop-color="#0000f3"/><stop offset="0.3113" stop-color="#0000a0"/><stop offset="0.3189" stop-color="#000080"/><stop offset="0.3604" stop-color="#000080"/><stop offset="0.3679" stop-color="#0000a7"/><stop offset="0.3792" stop-color="#0007ff"/><stop offset="0.4019" stop-color="#00e8ff"/><stop offset="0.4057" stop-color="#09fff6"/><stop offset="0.4208" stop-color="#6fff90"/><stop offset="0.4434" stop-color="#fff800"/><stop offset="0.4585" stop-color="#ff5800"/><stop offset="0.4660" stop-color="#fe0000"/><stop offset="0.4774" stop-color="#8b0000"/><stop offset="0.4849" stop-color="#800000"/><stop offset="0.5302" stop-color="#800000"/><stop offset="0.5377" stop-color="#bf0000"/><stop offset="0.5415" stop-color="#e80000"/><stop offset="0.5453" stop-color="#ff1500"/><stop offset="0.5604" stop-color="#ffc600"/><stop offset="0.5642" stop-color="#ffec00"/><stop offset="0.5679" stop-color="#f0ff0f"/><stop offset="0.5830" stop-color="#8bff74"/><stop offset="0.6019" stop-color="#15ffea"/><stop offset="0.6057" stop-color="#00f6ff"/><stop offset="0.6321" stop-color="#0001ff"/><stop offset="0.6434" stop-color="#0000b8"/><stop offset="0.6547" stop-color="#000099"/><stop offset="0.6660" stop-color="#000097"/><stop offset="0.6698" stop-color="#00008c"/><stop offset="0.6774" stop-color="#0000a3"/><stop offset="0.6849" stop-color="#0000d4"/><stop offset="0.6887" stop-color="#0000f8"/><stop offset="0.6925" stop-color="#0021ff"/><stop offset="0.7075" stop-color="#00e1ff"/><stop offset="0.7113" stop-color="#11ffee"/><stop offset="0.7226" stop-color="#8aff75"/><stop offset="0.7340" stop-color="#e8ff17"/><stop offset="0.7377" stop-color="#fffa00"/><stop offset="0.7717" stop-color="#ff0a00"/><stop offset="0.7792" stop-color="#de0000"/><stop offset="0.7943" stop-color="#a50000"/><stop offset="0.8094" stop-color="#920000"/><stop offset="0.8321" stop-color="#9f0000"/><stop offset="0.8472" stop-color="#cd0000"/><stop offset="0.8547" stop-color="#f40000"/><stop offset="0.8585" stop-color="#ff0c00"/><stop offset="0.8736" stop-color="#ff8400"/><stop offset="0.8849" stop-color="#fff300"/><stop offset="0.8887" stop-color="#e4ff1b"/><stop offset="0.9075" stop-color="#18ffe7"/><stop offset="0.9113" stop-color="#00eeff"/><stop offset="0.9302" stop-color="#0037ff"/><stop offset="0.9377" stop-color="#0000f8"/><stop offset="0.9528" stop-color="#000099"/><stop offset="0.9604" stop-color="#000080"/><stop offset="0.9868" stop-color="#000087"/><stop offset="0.9981" stop-color="#0000d5"/></linearGradient><linearGradient id="g40" gradientUnits="objectBoundingBox"><stop offset="0.0019" stop-color="#0000b5"/><stop offset="0.0170" stop-color="#0000b9"/><stop offset="0.0245" stop-color="#0000d7"/><stop offset="0.0283" stop-color="#0000f0"/><stop offset="0.0321" stop-color="#000fff"/><stop offset="0.0547" stop-color="#00ffff"/><stop offset="0.0660" stop-color="#5dffa2"/><stop offset="0.0849" stop-color="#b7ff48"/><stop offset="0.1000" stop-color="#fffa00"/><stop offset="0.1226" stop-color="#ff4c00"/><stop offset="0.1302" stop-color="#ff0f00"/><stop offset="0.1340" stop-color="#f20000"/><stop offset="0.1491" stop-color="#980000"/><stop offset="0.1566" stop-color="#800000"/><stop offset="0.1943" stop-color="#800000"/><stop offset="0.2019" stop-color="#a50000"/><stop offset="0.2132" stop-color="#ff0700"/><stop offset="0.2358" stop-color="#ffee00"/><stop offset="0.2396" stop-color="#f0ff0f"/><stop offset="0.2736" stop-color="#01fffe"/><stop offset="0.3000" stop-color="#0012ff"/><stop offset="0.3038" stop-color="#0000f1"/><stop offset="0.3151" stop-color="#0000a3"/><stop offset="0.3226" stop-color="#000082"/><stop offset="0.3604" stop-color="#000083"/><stop offset="0.3717" stop-color="#0000c5"/><stop offset="0.3792" stop-color="#0006ff"/><stop offset="0.4019" stop-color="#00e7ff"/><stop offset="0.4057" stop-color="#08fff7"/><stop offset="0.4208" stop-color="#6dff92"/><stop offset="0.4396" stop-color="#d9ff26"/><stop offset="0.4434" stop-color="#f6ff09"/><stop offset="0.4472" stop-color="#ffe600"/><stop offset="0.4623" stop-color="#ff3d00"/><stop offset="0.4660" stop-color="#ff1000"/><stop offset="0.4698" stop-color="#e30000"/><stop offset="0.4774" stop-color="#970000"/><stop offset="0.4811" stop-color="#800000"/><stop offset="0.5302" stop-color="#820000"/><stop offset="0.5415" stop-color="#f20000"/><stop offset="0.5453" stop-color="#ff1f00"/><stop offset="0.5604" stop-color="#ffcf00"/><stop offset="0.5642" stop-color="#fff400"/><stop offset="0.5717" stop-color="#ceff31"/><stop offset="0.6019" stop-color="#28ffd7"/><stop offset="0.6057" stop-color="#0cfff3"/><stop offset="0.6094" stop-color="#00edff"/><stop offset="0.6358" stop-color="#0006ff"/><stop offset="0.6509" stop-color="#0000be"/><stop offset="0.6660" stop-color="#0000b6"/><stop offset="0.6698" stop-color="#0000aa"/><stop offset="0.6774" stop-color="#0000bd"/><stop offset="0.6849" stop-color="#0000ea"/><stop offset="0.6887" stop-color="#000bff"/><stop offset="0.7075" stop-color="#00e2ff"/><stop offset="0.7113" stop-color="#0efff1"/><stop offset="0.7226" stop-color="#7aff85"/><stop offset="0.7415" stop-color="#fcff03"/><stop offset="0.7792" stop-color="#ff0800"/><stop offset="0.7943" stop-color="#c80000"/><stop offset="0.8094" stop-color="#b10000"/><stop offset="0.8321" stop-color="#bb0000"/><stop offset="0.8472" stop-color="#e40000"/><stop offset="0.8547" stop-color="#ff0900"/><stop offset="0.8698" stop-color="#ff6f00"/><stop offset="0.8849" stop-color="#fff800"/><stop offset="0.9000" stop-color="#6bff94"/><stop offset="0.9075" stop-color="#1dffe2"/><stop offset="0.9113" stop-color="#00f5ff"/><stop offset="0.9340" stop-color="#0027ff"/><stop offset="0.9377" stop-color="#000bff"/><stop offset="0.9453" stop-color="#0000d8"/><stop offset="0.9604" stop-color="#000094"/><stop offset="0.9717" stop-color="#000081"/><stop offset="0.9830" stop-color="#000093"/><stop offset="0.9943" stop-color="#0000cf"/><stop offset="0.9981" stop-color="#0000ea"/></linearGradient><linearGradient id="g41" gradientUnits="objectBoundingBox"><stop offset="0.0019" stop-color="#0000db"/><stop offset="0.0170" stop-color="#0000e3"/><stop offset="0.0245" stop-color="#0004ff"/><stop offset="0.0358" stop-color="#005aff"/><stop offset="0.0509" stop-color="#00ecff"/><stop offset="0.0547" stop-color="#0ffff0"/><stop offset="0.0660" stop-color="#60ff9f"/><stop offset="0.1000" stop-color="#fcff03"/><stop offset="0.1151" stop-color="#ff9700"/><stop offset="0.1340" stop-color="#ff0400"/><stop offset="0.1491" stop-color="#ad0000"/><stop offset="0.1642" stop-color="#810000"/><stop offset="0.1906" stop-color="#820000"/><stop offset="0.2019" stop-color="#b80000"/><stop offset="0.2094" stop-color="#f40000"/><stop offset="0.2132" stop-color="#ff1800"/><stop offset="0.2358" stop-color="#fff300"/><stop offset="0.2434" stop-color="#d1ff2e"/><stop offset="0.2774" stop-color="#00fbff"/><stop offset="0.3038" stop-color="#0019ff"/><stop offset="0.3075" stop-color="#0000fb"/><stop offset="0.3189" stop-color="#0000b9"/><stop offset="0.3302" stop-color="#000098"/><stop offset="0.3491" stop-color="#000093"/><stop offset="0.3604" stop-color="#0000ac"/><stop offset="0.3755" stop-color="#0005ff"/><stop offset="0.4019" stop-color="#00f1ff"/><stop offset="0.4057" stop-color="#10ffef"/><stop offset="0.4208" stop-color="#6cff93"/><stop offset="0.4396" stop-color="#ceff31"/><stop offset="0.4472" stop-color="#fff500"/><stop offset="0.4623" stop-color="#ff5000"/><stop offset="0.4698" stop-color="#f70000"/><stop offset="0.4811" stop-color="#8c0000"/><stop offset="0.4887" stop-color="#800000"/><stop offset="0.5264" stop-color="#800000"/><stop offset="0.5377" stop-color="#e20000"/><stop offset="0.5415" stop-color="#ff0c00"/><stop offset="0.5604" stop-color="#ffe200"/><stop offset="0.5642" stop-color="#faff05"/><stop offset="0.5755" stop-color="#adff52"/><stop offset="0.6019" stop-color="#33ffcc"/><stop offset="0.6094" stop-color="#00ffff"/><stop offset="0.6358" stop-color="#0031ff"/><stop offset="0.6434" stop-color="#0009ff"/><stop offset="0.6509" stop-color="#0000f1"/><stop offset="0.6660" stop-color="#0000eb"/><stop offset="0.6698" stop-color="#0000df"/><stop offset="0.6811" stop-color="#0001ff"/><stop offset="0.6925" stop-color="#0056ff"/><stop offset="0.7075" stop-color="#00f0ff"/><stop offset="0.7113" stop-color="#16ffe9"/><stop offset="0.7226" stop-color="#6fff90"/><stop offset="0.7453" stop-color="#f0ff0f"/><stop offset="0.7491" stop-color="#fff700"/><stop offset="0.7830" stop-color="#ff1d00"/><stop offset="0.7906" stop-color="#f90000"/><stop offset="0.8057" stop-color="#d40000"/><stop offset="0.8283" stop-color="#d30000"/><stop offset="0.8434" stop-color="#ee0000"/><stop offset="0.8509" stop-color="#ff0a00"/><stop offset="0.8660" stop-color="#ff5f00"/><stop offset="0.8849" stop-color="#fffb00"/><stop offset="0.9113" stop-color="#05fffa"/><stop offset="0.9340" stop-color="#0045ff"/><stop offset="0.9453" stop-color="#0000fd"/><stop offset="0.9604" stop-color="#0000c2"/><stop offset="0.9717" stop-color="#0000b4"/><stop offset="0.9830" stop-color="#0000c7"/><stop offset="0.9943" stop-color="#0000fa"/><stop offset="0.9981" stop-color="#0012ff"/></linearGradient><linearGradient id="g42" gradientUnits="objectBoundingBox"><stop offset="0.0019" stop-color="#0017ff"/><stop offset="0.0132" stop-color="#001aff"/><stop offset="0.0245" stop-color="#0042ff"/><stop offset="0.0396" stop-color="#00acff"/><stop offset="0.0509" stop-color="#07fff8"/><stop offset="0.0660" stop-color="#66ff99"/><stop offset="0.0962" stop-color="#e0ff1f"/><stop offset="0.1038" stop-color="#fff300"/><stop offset="0.1340" stop-color="#ff1500"/><stop offset="0.1377" stop-color="#fb0000"/><stop offset="0.1528" stop-color="#b20000"/><stop offset="0.1717" stop-color="#8e0000"/><stop offset="0.1868" stop-color="#8f0000"/><stop offset="0.1981" stop-color="#b60000"/><stop offset="0.2094" stop-color="#ff0700"/><stop offset="0.2358" stop-color="#fffb00"/><stop offset="0.2547" stop-color="#94ff6b"/><stop offset="0.2736" stop-color="#30ffcf"/><stop offset="0.2811" stop-color="#00fbff"/><stop offset="0.3075" stop-color="#002eff"/><stop offset="0.3151" stop-color="#0005ff"/><stop offset="0.3302" stop-color="#0000db"/><stop offset="0.3491" stop-color="#0000dc"/><stop offset="0.3642" stop-color="#0005ff"/><stop offset="0.3792" stop-color="#005dff"/><stop offset="0.3981" stop-color="#00ecff"/><stop offset="0.4019" stop-color="#07fff8"/><stop offset="0.4170" stop-color="#5dffa2"/><stop offset="0.4396" stop-color="#c6ff39"/><stop offset="0.4472" stop-color="#feff01"/><stop offset="0.4585" stop-color="#ff8e00"/><stop offset="0.4698" stop-color="#ff0e00"/><stop offset="0.4736" stop-color="#e70000"/><stop offset="0.4849" stop-color="#920000"/><stop offset="0.4887" stop-color="#820000"/><stop offset="0.5189" stop-color="#840000"/><stop offset="0.5302" stop-color="#c50000"/><stop offset="0.5377" stop-color="#ff0c00"/><stop offset="0.5566" stop-color="#ffd900"/><stop offset="0.5604" stop-color="#fffc00"/><stop offset="0.5717" stop-color="#b4ff4b"/><stop offset="0.6019" stop-color="#3dffc2"/><stop offset="0.6132" stop-color="#00f7ff"/><stop offset="0.6358" stop-color="#005bff"/><stop offset="0.6472" stop-color="#002cff"/><stop offset="0.6623" stop-color="#001eff"/><stop offset="0.6660" stop-color="#0021ff"/><stop offset="0.6698" stop-color="#000eff"/><stop offset="0.6811" stop-color="#0029ff"/><stop offset="0.6925" stop-color="#0074ff"/><stop offset="0.7075" stop-color="#00fdff"/><stop offset="0.7226" stop-color="#70ff8f"/><stop offset="0.7491" stop-color="#f7ff08"/><stop offset="0.7566" stop-color="#ffe000"/><stop offset="0.7830" stop-color="#ff5f00"/><stop offset="0.8019" stop-color="#ff2f00"/><stop offset="0.8283" stop-color="#ff2b00"/><stop offset="0.8472" stop-color="#ff4b00"/><stop offset="0.8623" stop-color="#ff8a00"/><stop offset="0.8811" stop-color="#f9ff06"/><stop offset="0.9113" stop-color="#04fffb"/><stop offset="0.9340" stop-color="#005fff"/><stop offset="0.9491" stop-color="#0012ff"/><stop offset="0.9566" stop-color="#0000f8"/><stop offset="0.9717" stop-color="#0000e7"/><stop offset="0.9868" stop-color="#0007ff"/><stop offset="0.9981" stop-color="#0039ff"/></linearGradient><linearGradient id="g43" gradientUnits="objectBoundingBox"><stop offset="0.0019" stop-color="#0051ff"/><stop offset="0.0132" stop-color="#0057ff"/><stop offset="0.0245" stop-color="#007dff"/><stop offset="0.0434" stop-color="#00f0ff"/><stop offset="0.0472" stop-color="#0afff5"/><stop offset="0.0660" stop-color="#6fff90"/><stop offset="0.0962" stop-color="#e6ff19"/><stop offset="0.1000" stop-color="#f9ff06"/><stop offset="0.1113" stop-color="#ffc200"/><stop offset="0.1377" stop-color="#ff1f00"/><stop offset="0.1453" stop-color="#fc0000"/><stop offset="0.1604" stop-color="#d20000"/><stop offset="0.1830" stop-color="#c10000"/><stop offset="0.1943" stop-color="#d90000"/><stop offset="0.2019" stop-color="#fe0000"/><stop offset="0.2170" stop-color="#ff7700"/><stop offset="0.2321" stop-color="#fff600"/><stop offset="0.2434" stop-color="#c3ff3c"/><stop offset="0.2736" stop-color="#44ffbb"/><stop offset="0.2849" stop-color="#00fcff"/><stop offset="0.3075" stop-color="#0061ff"/><stop offset="0.3189" stop-color="#0031ff"/><stop offset="0.3340" stop-color="#001fff"/><stop offset="0.3528" stop-color="#002cff"/><stop offset="0.3679" stop-color="#005bff"/><stop offset="0.3906" stop-color="#00daff"/><stop offset="0.3981" stop-color="#09fff6"/><stop offset="0.4170" stop-color="#64ff9b"/><stop offset="0.4358" stop-color="#acff53"/><stop offset="0.4472" stop-color="#f3ff0c"/><stop offset="0.4509" stop-color="#ffeb00"/><stop offset="0.4736" stop-color="#ff0100"/><stop offset="0.4849" stop-color="#b10000"/><stop offset="0.4962" stop-color="#940000"/><stop offset="0.5113" stop-color="#980000"/><stop offset="0.5226" stop-color="#bd0000"/><stop offset="0.5302" stop-color="#ef0000"/><stop offset="0.5340" stop-color="#ff1100"/><stop offset="0.5566" stop-color="#fff700"/><stop offset="0.5717" stop-color="#a5ff5a"/><stop offset="0.6019" stop-color="#41ffbe"/><stop offset="0.6132" stop-color="#08fff7"/><stop offset="0.6208" stop-color="#00dbff"/><stop offset="0.6396" stop-color="#007aff"/><stop offset="0.6509" stop-color="#005eff"/><stop offset="0.6660" stop-color="#005fff"/><stop offset="0.6698" stop-color="#0037ff"/><stop offset="0.6811" stop-color="#0049ff"/><stop offset="0.6925" stop-color="#0086ff"/><stop offset="0.7075" stop-color="#00faff"/><stop offset="0.7264" stop-color="#6fff90"/><stop offset="0.7604" stop-color="#fffb00"/><stop offset="0.7830" stop-color="#ffa900"/><stop offset="0.8057" stop-color="#ff8300"/><stop offset="0.8358" stop-color="#ff8300"/><stop offset="0.8547" stop-color="#ffa500"/><stop offset="0.8774" stop-color="#f9ff06"/><stop offset="0.9189" stop-color="#00fdff"/><stop offset="0.9415" stop-color="#008fff"/><stop offset="0.9566" stop-color="#0065ff"/><stop offset="0.9717" stop-color="#005bff"/><stop offset="0.9906" stop-color="#0076ff"/><stop offset="0.9981" stop-color="#008bff"/></linearGradient><linearGradient id="g44" gradientUnits="objectBoundingBox"><stop offset="0.0019" stop-color="#008cff"/><stop offset="0.0132" stop-color="#0092ff"/><stop offset="0.0245" stop-color="#00b9ff"/><stop offset="0.0358" stop-color="#00f6ff"/><stop offset="0.0472" stop-color="#36ffc9"/><stop offset="0.0698" stop-color="#92ff6d"/><stop offset="0.0962" stop-color="#ebff14"/><stop offset="0.1000" stop-color="#fcff03"/><stop offset="0.1377" stop-color="#ff4200"/><stop offset="0.1566" stop-color="#ff0c00"/><stop offset="0.1717" stop-color="#f90000"/><stop offset="0.1906" stop-color="#ff0300"/><stop offset="0.2019" stop-color="#ff3200"/><stop offset="0.2170" stop-color="#ffa000"/><stop offset="0.2283" stop-color="#fff900"/><stop offset="0.2472" stop-color="#9fff60"/><stop offset="0.2736" stop-color="#35ffca"/><stop offset="0.2849" stop-color="#00f7ff"/><stop offset="0.3038" stop-color="#0098ff"/><stop offset="0.3189" stop-color="#006fff"/><stop offset="0.3415" stop-color="#006dff"/><stop offset="0.3604" stop-color="#008dff"/><stop offset="0.3830" stop-color="#00e9ff"/><stop offset="0.3868" stop-color="#00fcff"/><stop offset="0.4170" stop-color="#7aff85"/><stop offset="0.4358" stop-color="#c2ff3d"/><stop offset="0.4434" stop-color="#efff10"/><stop offset="0.4472" stop-color="#fff400"/><stop offset="0.4736" stop-color="#ff1c00"/><stop offset="0.4774" stop-color="#ff0600"/><stop offset="0.4925" stop-color="#d50000"/><stop offset="0.5113" stop-color="#d80000"/><stop offset="0.5226" stop-color="#f80000"/><stop offset="0.5302" stop-color="#ff2500"/><stop offset="0.5528" stop-color="#ffea00"/><stop offset="0.5566" stop-color="#f5ff0a"/><stop offset="0.5679" stop-color="#acff53"/><stop offset="0.5830" stop-color="#77ff88"/><stop offset="0.6094" stop-color="#2affd5"/><stop offset="0.6208" stop-color="#00fbff"/><stop offset="0.6396" stop-color="#00b5ff"/><stop offset="0.6547" stop-color="#00a1ff"/><stop offset="0.6660" stop-color="#00a8ff"/><stop offset="0.6698" stop-color="#0061ff"/><stop offset="0.6811" stop-color="#0066ff"/><stop offset="0.6925" stop-color="#008fff"/><stop offset="0.7113" stop-color="#00f9ff"/><stop offset="0.7642" stop-color="#ccff33"/><stop offset="0.7830" stop-color="#fffc00"/><stop offset="0.8094" stop-color="#ffd900"/><stop offset="0.8472" stop-color="#ffd200"/><stop offset="0.8698" stop-color="#fff300"/><stop offset="0.8774" stop-color="#f6ff09"/><stop offset="0.9075" stop-color="#7fff80"/><stop offset="0.9377" stop-color="#06fff9"/><stop offset="0.9604" stop-color="#00d9ff"/><stop offset="0.9868" stop-color="#00deff"/><stop offset="0.9981" stop-color="#00ebff"/></linearGradient><linearGradient id="g45" gradientUnits="objectBoundingBox"><stop offset="0.0019" stop-color="#00c7ff"/><stop offset="0.0132" stop-color="#00cdff"/><stop offset="0.0283" stop-color="#04fffb"/><stop offset="0.0547" stop-color="#7aff85"/><stop offset="0.1038" stop-color="#fff900"/><stop offset="0.1377" stop-color="#ff8000"/><stop offset="0.1604" stop-color="#ff5700"/><stop offset="0.1868" stop-color="#ff4f00"/><stop offset="0.1981" stop-color="#ff6900"/><stop offset="0.2132" stop-color="#ffb400"/><stop offset="0.2245" stop-color="#fffc00"/><stop offset="0.2472" stop-color="#8eff71"/><stop offset="0.2849" stop-color="#00fdff"/><stop offset="0.3038" stop-color="#00c4ff"/><stop offset="0.3226" stop-color="#00b3ff"/><stop offset="0.3491" stop-color="#00c4ff"/><stop offset="0.3717" stop-color="#00fcff"/><stop offset="0.4283" stop-color="#c7ff38"/><stop offset="0.4396" stop-color="#fdff02"/><stop offset="0.4698" stop-color="#ff5f00"/><stop offset="0.4849" stop-color="#ff3500"/><stop offset="0.5075" stop-color="#ff2d00"/><stop offset="0.5226" stop-color="#ff4900"/><stop offset="0.5377" stop-color="#ff9700"/><stop offset="0.5528" stop-color="#fcff03"/><stop offset="0.5679" stop-color="#a3ff5c"/><stop offset="0.5868" stop-color="#69ff96"/><stop offset="0.6208" stop-color="#0ffff0"/><stop offset="0.6283" stop-color="#00f6ff"/><stop offset="0.6472" stop-color="#00ceff"/><stop offset="0.6660" stop-color="#00d6ff"/><stop offset="0.6698" stop-color="#008dff"/><stop offset="0.6849" stop-color="#008eff"/><stop offset="0.7075" stop-color="#00dbff"/><stop offset="0.7189" stop-color="#05fffa"/><stop offset="0.7642" stop-color="#7eff81"/><stop offset="0.8019" stop-color="#b4ff4b"/><stop offset="0.8698" stop-color="#fffd00"/><stop offset="0.8962" stop-color="#fcff03"/><stop offset="0.9453" stop-color="#8fff70"/><stop offset="0.9981" stop-color="#72ff8d"/></linearGradient><linearGradient id="g46" gradientUnits="objectBoundingBox"><stop offset="0.0019" stop-color="#00f2ff"/><stop offset="0.0170" stop-color="#03fffc"/><stop offset="0.0509" stop-color="#89ff76"/><stop offset="0.1075" stop-color="#feff01"/><stop offset="0.1453" stop-color="#ffb600"/><stop offset="0.1792" stop-color="#ffa000"/><stop offset="0.1981" stop-color="#ffb500"/><stop offset="0.2170" stop-color="#fffe00"/><stop offset="0.2509" stop-color="#64ff9b"/><stop offset="0.2811" stop-color="#04fffb"/><stop offset="0.3075" stop-color="#00dfff"/><stop offset="0.3415" stop-color="#00f0ff"/><stop offset="0.3566" stop-color="#0afff5"/><stop offset="0.4283" stop-color="#d8ff27"/><stop offset="0.4396" stop-color="#fffb00"/><stop offset="0.4660" stop-color="#ff9c00"/><stop offset="0.4849" stop-color="#ff7c00"/><stop offset="0.5113" stop-color="#ff8000"/><stop offset="0.5264" stop-color="#ffa200"/><stop offset="0.5453" stop-color="#fffe00"/><stop offset="0.5679" stop-color="#8fff70"/><stop offset="0.5906" stop-color="#57ffa8"/><stop offset="0.6283" stop-color="#00fdff"/><stop offset="0.6472" stop-color="#00ddff"/><stop offset="0.6660" stop-color="#00ebff"/><stop offset="0.6736" stop-color="#00f3ff"/><stop offset="0.6962" stop-color="#04fffb"/><stop offset="0.7340" stop-color="#2dffd2"/><stop offset="0.7642" stop-color="#29ffd6"/><stop offset="0.7981" stop-color="#13ffec"/><stop offset="0.8208" stop-color="#2bffd4"/><stop offset="0.8472" stop-color="#7bff84"/><stop offset="0.8811" stop-color="#ffff00"/><stop offset="0.9000" stop-color="#ffd100"/><stop offset="0.9302" stop-color="#ffc900"/><stop offset="0.9717" stop-color="#ffb200"/><stop offset="0.9906" stop-color="#ffd400"/><stop offset="0.9981" stop-color="#ffef00"/></linearGradient><linearGradient id="g47" gradientUnits="objectBoundingBox"><stop offset="0.0019" stop-color="#10ffef"/><stop offset="0.0132" stop-color="#17ffe8"/><stop offset="0.0321" stop-color="#5fffa0"/><stop offset="0.0509" stop-color="#a6ff59"/><stop offset="0.0811" stop-color="#deff21"/><stop offset="0.1075" stop-color="#fffc00"/><stop offset="0.1528" stop-color="#ffd100"/><stop offset="0.1868" stop-color="#ffd000"/><stop offset="0.2057" stop-color="#fffa00"/><stop offset="0.2208" stop-color="#c7ff38"/><stop offset="0.2547" stop-color="#35ffca"/><stop offset="0.2736" stop-color="#01fffe"/><stop offset="0.2962" stop-color="#00e8ff"/><stop offset="0.3340" stop-color="#03fffc"/><stop offset="0.3642" stop-color="#3dffc2"/><stop offset="0.4434" stop-color="#fffb00"/><stop offset="0.4698" stop-color="#ffc400"/><stop offset="0.5000" stop-color="#ffbd00"/><stop offset="0.5189" stop-color="#ffd200"/><stop offset="0.5340" stop-color="#fdff02"/><stop offset="0.5642" stop-color="#7fff80"/><stop offset="0.5868" stop-color="#52ffad"/><stop offset="0.6208" stop-color="#1affe5"/><stop offset="0.6358" stop-color="#00f8ff"/><stop offset="0.6547" stop-color="#00eeff"/><stop offset="0.6660" stop-color="#01fffe"/><stop offset="0.6698" stop-color="#bdff42"/><stop offset="0.6887" stop-color="#d8ff27"/><stop offset="0.7038" stop-color="#caff35"/><stop offset="0.7642" stop-color="#06fff9"/><stop offset="0.7981" stop-color="#0083ff"/><stop offset="0.8132" stop-color="#006eff"/><stop offset="0.8283" stop-color="#0082ff"/><stop offset="0.8434" stop-color="#00bfff"/><stop offset="0.8547" stop-color="#04fffb"/><stop offset="0.8887" stop-color="#eaff15"/><stop offset="0.8925" stop-color="#feff01"/><stop offset="0.9226" stop-color="#ff8700"/><stop offset="0.9528" stop-color="#ff0500"/><stop offset="0.9679" stop-color="#e00000"/><stop offset="0.9792" stop-color="#eb0000"/><stop offset="0.9868" stop-color="#ff0700"/><stop offset="0.9981" stop-color="#ff4a00"/></linearGradient><linearGradient id="g48" gradientUnits="objectBoundingBox"><stop offset="0.0019" stop-color="#2dffd2"/><stop offset="0.0132" stop-color="#35ffca"/><stop offset="0.0321" stop-color="#7fff80"/><stop offset="0.0509" stop-color="#c5ff3a"/><stop offset="0.0774" stop-color="#f1ff0e"/><stop offset="0.1189" stop-color="#fffa00"/><stop offset="0.1792" stop-color="#fff800"/><stop offset="0.1906" stop-color="#f9ff06"/><stop offset="0.2132" stop-color="#bcff43"/><stop offset="0.2547" stop-color="#1dffe2"/><stop offset="0.2698" stop-color="#00faff"/><stop offset="0.2925" stop-color="#00edff"/><stop offset="0.3189" stop-color="#07fff8"/><stop offset="0.3528" stop-color="#42ffbd"/><stop offset="0.4057" stop-color="#bdff42"/><stop offset="0.4434" stop-color="#fffe00"/><stop offset="0.4736" stop-color="#ffe400"/><stop offset="0.5113" stop-color="#fff300"/><stop offset="0.5226" stop-color="#f6ff09"/><stop offset="0.5642" stop-color="#65ff9a"/><stop offset="0.5868" stop-color="#48ffb7"/><stop offset="0.6170" stop-color="#29ffd6"/><stop offset="0.6396" stop-color="#00fcff"/><stop offset="0.6547" stop-color="#00faff"/><stop offset="0.6660" stop-color="#10ffef"/><stop offset="0.6698" stop-color="#ff7d00"/><stop offset="0.6811" stop-color="#ff4600"/><stop offset="0.6925" stop-color="#ff2d00"/><stop offset="0.7038" stop-color="#ff3a00"/><stop offset="0.7151" stop-color="#ff7200"/><stop offset="0.7302" stop-color="#ffec00"/><stop offset="0.7340" stop-color="#f1ff0e"/><stop offset="0.7566" stop-color="#43ffbc"/><stop offset="0.7642" stop-color="#0efff1"/><stop offset="0.7679" stop-color="#00f3ff"/><stop offset="0.7981" stop-color="#001dff"/><stop offset="0.8019" stop-color="#0008ff"/><stop offset="0.8170" stop-color="#0000cf"/><stop offset="0.8321" stop-color="#0000c4"/><stop offset="0.8472" stop-color="#0000ea"/><stop offset="0.8509" stop-color="#0000fb"/><stop offset="0.8623" stop-color="#0044ff"/><stop offset="0.8811" stop-color="#00eeff"/><stop offset="0.8849" stop-color="#14ffeb"/><stop offset="0.9075" stop-color="#e1ff1e"/><stop offset="0.9113" stop-color="#ffff00"/><stop offset="0.9377" stop-color="#ff1b00"/><stop offset="0.9415" stop-color="#f80000"/><stop offset="0.9528" stop-color="#a10000"/><stop offset="0.9604" stop-color="#800000"/><stop offset="0.9830" stop-color="#820000"/><stop offset="0.9943" stop-color="#bc0000"/><stop offset="0.9981" stop-color="#d90000"/></linearGradient><linearGradient id="g49" gradientUnits="objectBoundingBox"><stop offset="0.0019" stop-color="#47ffb8"/><stop offset="0.0132" stop-color="#4effb1"/><stop offset="0.0321" stop-color="#98ff67"/><stop offset="0.0509" stop-color="#dcff23"/><stop offset="0.0736" stop-color="#fffe00"/><stop offset="0.1491" stop-color="#f0ff0f"/><stop offset="0.1830" stop-color="#dfff20"/><stop offset="0.2094" stop-color="#a6ff59"/><stop offset="0.2547" stop-color="#15ffea"/><stop offset="0.2660" stop-color="#00fdff"/><stop offset="0.2887" stop-color="#00f3ff"/><stop offset="0.3075" stop-color="#09fff6"/><stop offset="0.3528" stop-color="#5fffa0"/><stop offset="0.4057" stop-color="#daff25"/><stop offset="0.4358" stop-color="#fffc00"/><stop offset="0.4736" stop-color="#fff300"/><stop offset="0.5075" stop-color="#faff05"/><stop offset="0.5264" stop-color="#d6ff29"/><stop offset="0.5604" stop-color="#5bffa4"/><stop offset="0.5792" stop-color="#42ffbd"/><stop offset="0.6132" stop-color="#34ffcb"/><stop offset="0.6434" stop-color="#00feff"/><stop offset="0.6585" stop-color="#09fff6"/><stop offset="0.6660" stop-color="#1bffe4"/><stop offset="0.6698" stop-color="#ff1d00"/><stop offset="0.6736" stop-color="#fe0000"/><stop offset="0.6849" stop-color="#bc0000"/><stop offset="0.6962" stop-color="#9c0000"/><stop offset="0.7075" stop-color="#9c0000"/><stop offset="0.7189" stop-color="#cc0000"/><stop offset="0.7264" stop-color="#ff0b00"/><stop offset="0.7453" stop-color="#ffdf00"/><stop offset="0.7491" stop-color="#f3ff0c"/><stop offset="0.7679" stop-color="#37ffc8"/><stop offset="0.7717" stop-color="#15ffea"/><stop offset="0.7755" stop-color="#00f2ff"/><stop offset="0.8019" stop-color="#0004ff"/><stop offset="0.8170" stop-color="#0000a3"/><stop offset="0.8283" stop-color="#000080"/><stop offset="0.8585" stop-color="#000084"/><stop offset="0.8698" stop-color="#0000b2"/><stop offset="0.8811" stop-color="#0003ff"/><stop offset="0.8962" stop-color="#009aff"/><stop offset="0.9038" stop-color="#00f1ff"/><stop offset="0.9075" stop-color="#1fffe0"/><stop offset="0.9264" stop-color="#fffb00"/><stop offset="0.9453" stop-color="#ff1f00"/><stop offset="0.9491" stop-color="#f90000"/><stop offset="0.9604" stop-color="#a60000"/><stop offset="0.9717" stop-color="#870000"/><stop offset="0.9830" stop-color="#940000"/><stop offset="0.9943" stop-color="#cb0000"/><stop offset="0.9981" stop-color="#e80000"/></linearGradient><linearGradient id="g50" gradientUnits="objectBoundingBox"><stop offset="0.0019" stop-color="#5dffa2"/><stop offset="0.0132" stop-color="#62ff9d"/><stop offset="0.0283" stop-color="#98ff67"/><stop offset="0.0472" stop-color="#dfff20"/><stop offset="0.0660" stop-color="#fffb00"/><stop offset="0.0925" stop-color="#fff700"/><stop offset="0.1377" stop-color="#e5ff1a"/><stop offset="0.1830" stop-color="#c6ff39"/><stop offset="0.2208" stop-color="#74ff8b"/><stop offset="0.2585" stop-color="#0efff1"/><stop offset="0.2774" stop-color="#00fbff"/><stop offset="0.2962" stop-color="#09fff6"/><stop offset="0.3528" stop-color="#7bff84"/><stop offset="0.4019" stop-color="#edff12"/><stop offset="0.4208" stop-color="#fffa00"/><stop offset="0.4623" stop-color="#fffa00"/><stop offset="0.5075" stop-color="#e8ff17"/><stop offset="0.5264" stop-color="#c2ff3d"/><stop offset="0.5604" stop-color="#47ffb8"/><stop offset="0.5792" stop-color="#38ffc7"/><stop offset="0.6094" stop-color="#3fffc0"/><stop offset="0.6472" stop-color="#05fffa"/><stop offset="0.6623" stop-color="#1cffe3"/><stop offset="0.6660" stop-color="#27ffd8"/><stop offset="0.6698" stop-color="#ff2900"/><stop offset="0.6736" stop-color="#ff0200"/><stop offset="0.6849" stop-color="#a80000"/><stop offset="0.6925" stop-color="#870000"/><stop offset="0.7189" stop-color="#800000"/><stop offset="0.7264" stop-color="#a00000"/><stop offset="0.7377" stop-color="#ff0600"/><stop offset="0.7566" stop-color="#ffe700"/><stop offset="0.7604" stop-color="#edff12"/><stop offset="0.7792" stop-color="#3effc1"/><stop offset="0.7868" stop-color="#00fdff"/><stop offset="0.8132" stop-color="#000cff"/><stop offset="0.8208" stop-color="#0000d0"/><stop offset="0.8321" stop-color="#000090"/><stop offset="0.8396" stop-color="#000080"/><stop offset="0.8774" stop-color="#000083"/><stop offset="0.8887" stop-color="#0000ba"/><stop offset="0.8962" stop-color="#0000f2"/><stop offset="0.9000" stop-color="#0015ff"/><stop offset="0.9151" stop-color="#00bcff"/><stop offset="0.9189" stop-color="#00ebff"/><stop offset="0.9226" stop-color="#1bffe4"/><stop offset="0.9377" stop-color="#d8ff27"/><stop offset="0.9415" stop-color="#fffa00"/><stop offset="0.9528" stop-color="#ff8a00"/><stop offset="0.9642" stop-color="#ff4000"/><stop offset="0.9755" stop-color="#ff2400"/><stop offset="0.9868" stop-color="#ff3500"/><stop offset="0.9981" stop-color="#ff6d00"/></linearGradient><linearGradient id="g51" gradientUnits="objectBoundingBox"><stop offset="0.0019" stop-color="#74ff8b"/><stop offset="0.0132" stop-color="#75ff8a"/><stop offset="0.0321" stop-color="#b6ff49"/><stop offset="0.0547" stop-color="#f4ff0b"/><stop offset="0.0736" stop-color="#fff700"/><stop offset="0.1038" stop-color="#f8ff07"/><stop offset="0.1830" stop-color="#b2ff4d"/><stop offset="0.2396" stop-color="#41ffbe"/><stop offset="0.2660" stop-color="#0efff1"/><stop offset="0.2887" stop-color="#12ffed"/><stop offset="0.3302" stop-color="#64ff9b"/><stop offset="0.3943" stop-color="#f5ff0a"/><stop offset="0.4132" stop-color="#fff200"/><stop offset="0.4472" stop-color="#fff400"/><stop offset="0.4774" stop-color="#f4ff0b"/><stop offset="0.5151" stop-color="#d0ff2f"/><stop offset="0.5340" stop-color="#99ff66"/><stop offset="0.5566" stop-color="#41ffbe"/><stop offset="0.5717" stop-color="#2cffd3"/><stop offset="0.6057" stop-color="#48ffb7"/><stop offset="0.6245" stop-color="#33ffcc"/><stop offset="0.6434" stop-color="#0ffff0"/><stop offset="0.6585" stop-color="#1dffe2"/><stop offset="0.6660" stop-color="#35ffca"/><stop offset="0.6698" stop-color="#ff9600"/><stop offset="0.6811" stop-color="#ff1900"/><stop offset="0.6849" stop-color="#f40000"/><stop offset="0.6962" stop-color="#a10000"/><stop offset="0.7038" stop-color="#830000"/><stop offset="0.7226" stop-color="#820000"/><stop offset="0.7340" stop-color="#ba0000"/><stop offset="0.7415" stop-color="#f90000"/><stop offset="0.7528" stop-color="#ff6e00"/><stop offset="0.7642" stop-color="#ffe200"/><stop offset="0.7679" stop-color="#faff05"/><stop offset="0.7830" stop-color="#92ff6d"/><stop offset="0.8057" stop-color="#04fffb"/><stop offset="0.8358" stop-color="#0010ff"/><stop offset="0.8396" stop-color="#0000f6"/><stop offset="0.8547" stop-color="#0000af"/><stop offset="0.8698" stop-color="#000097"/><stop offset="0.8849" stop-color="#0000a8"/><stop offset="0.8962" stop-color="#0000d3"/><stop offset="0.9038" stop-color="#0000ff"/><stop offset="0.9189" stop-color="#007dff"/><stop offset="0.9302" stop-color="#00edff"/><stop offset="0.9340" stop-color="#13ffec"/><stop offset="0.9491" stop-color="#9aff65"/><stop offset="0.9604" stop-color="#e2ff1d"/><stop offset="0.9679" stop-color="#ffff00"/><stop offset="0.9792" stop-color="#ffee00"/><stop offset="0.9943" stop-color="#fbff04"/><stop offset="0.9981" stop-color="#f0ff0f"/></linearGradient><linearGradient id="g52" gradientUnits="objectBoundingBox"><stop offset="0.0019" stop-color="#80ff7f"/><stop offset="0.0132" stop-color="#7eff81"/><stop offset="0.0472" stop-color="#e4ff1b"/><stop offset="0.0736" stop-color="#feff01"/><stop offset="0.1075" stop-color="#ecff13"/><stop offset="0.1830" stop-color="#a1ff5e"/><stop offset="0.2660" stop-color="#22ffdd"/><stop offset="0.2887" stop-color="#2affd5"/><stop offset="0.3377" stop-color="#94ff6b"/><stop offset="0.3868" stop-color="#fbff04"/><stop offset="0.4208" stop-color="#ffe500"/><stop offset="0.4660" stop-color="#faff05"/><stop offset="0.5151" stop-color="#c9ff36"/><stop offset="0.5340" stop-color="#8fff70"/><stop offset="0.5566" stop-color="#35ffca"/><stop offset="0.5717" stop-color="#25ffda"/><stop offset="0.6057" stop-color="#4fffb0"/><stop offset="0.6208" stop-color="#44ffbb"/><stop offset="0.6434" stop-color="#18ffe7"/><stop offset="0.6547" stop-color="#1fffe0"/><stop offset="0.6660" stop-color="#42ffbd"/><stop offset="0.6698" stop-color="#dbff24"/><stop offset="0.6736" stop-color="#f8ff07"/><stop offset="0.6849" stop-color="#ffa300"/><stop offset="0.7000" stop-color="#ff2800"/><stop offset="0.7075" stop-color="#fd0000"/><stop offset="0.7189" stop-color="#de0000"/><stop offset="0.7302" stop-color="#e70000"/><stop offset="0.7377" stop-color="#ff0300"/><stop offset="0.7528" stop-color="#ff5e00"/><stop offset="0.7717" stop-color="#ffda00"/><stop offset="0.7792" stop-color="#fffe00"/><stop offset="0.8132" stop-color="#8aff75"/><stop offset="0.8321" stop-color="#1fffe0"/><stop offset="0.8358" stop-color="#06fff9"/><stop offset="0.8623" stop-color="#0065ff"/><stop offset="0.8774" stop-color="#0035ff"/><stop offset="0.8925" stop-color="#0031ff"/><stop offset="0.9075" stop-color="#0059ff"/><stop offset="0.9302" stop-color="#00d3ff"/><stop offset="0.9377" stop-color="#03fffc"/><stop offset="0.9566" stop-color="#65ff9a"/><stop offset="0.9717" stop-color="#91ff6e"/><stop offset="0.9906" stop-color="#9cff63"/><stop offset="0.9981" stop-color="#98ff67"/></linearGradient><linearGradient id="g53" gradientUnits="objectBoundingBox"><stop offset="0.0019" stop-color="#82ff7d"/><stop offset="0.0132" stop-color="#7fff80"/><stop offset="0.0472" stop-color="#e3ff1c"/><stop offset="0.0774" stop-color="#fbff04"/><stop offset="0.1151" stop-color="#e4ff1b"/><stop offset="0.1792" stop-color="#a2ff5d"/><stop offset="0.2132" stop-color="#6fff90"/><stop offset="0.2509" stop-color="#43ffbc"/><stop offset="0.2736" stop-color="#31ffce"/><stop offset="0.2962" stop-color="#48ffb7"/><stop offset="0.3792" stop-color="#fdff02"/><stop offset="0.4132" stop-color="#ffde00"/><stop offset="0.4472" stop-color="#fff100"/><stop offset="0.4698" stop-color="#f5ff0a"/><stop offset="0.5151" stop-color="#c2ff3d"/><stop offset="0.5340" stop-color="#88ff77"/><stop offset="0.5566" stop-color="#2effd1"/><stop offset="0.5679" stop-color="#1fffe0"/><stop offset="0.5906" stop-color="#43ffbc"/><stop offset="0.6094" stop-color="#57ffa8"/><stop offset="0.6245" stop-color="#45ffba"/><stop offset="0.6434" stop-color="#1effe1"/><stop offset="0.6547" stop-color="#27ffd8"/><stop offset="0.6660" stop-color="#4dffb2"/><stop offset="0.6698" stop-color="#8bff74"/><stop offset="0.6887" stop-color="#d1ff2e"/><stop offset="0.6962" stop-color="#f6ff09"/><stop offset="0.7038" stop-color="#ffe300"/><stop offset="0.7226" stop-color="#ff9e00"/><stop offset="0.7377" stop-color="#ff9000"/><stop offset="0.7906" stop-color="#ffd800"/><stop offset="0.8208" stop-color="#faff05"/><stop offset="0.8434" stop-color="#acff53"/><stop offset="0.8774" stop-color="#1effe1"/><stop offset="0.8887" stop-color="#00feff"/><stop offset="0.9075" stop-color="#00f1ff"/><stop offset="0.9226" stop-color="#07fff8"/><stop offset="0.9642" stop-color="#6aff95"/><stop offset="0.9943" stop-color="#81ff7e"/><stop offset="0.9981" stop-color="#81ff7e"/></linearGradient><linearGradient id="g54" gradientUnits="objectBoundingBox"><stop offset="0.0019" stop-color="#83ff7c"/><stop offset="0.0132" stop-color="#7fff80"/><stop offset="0.0283" stop-color="#aeff51"/><stop offset="0.0472" stop-color="#e5ff1a"/><stop offset="0.0774" stop-color="#ffff00"/><stop offset="0.1189" stop-color="#eaff15"/><stop offset="0.1755" stop-color="#acff53"/><stop offset="0.2094" stop-color="#70ff8f"/><stop offset="0.2472" stop-color="#52ffad"/><stop offset="0.2736" stop-color="#3dffc2"/><stop offset="0.3000" stop-color="#59ffa6"/><stop offset="0.3755" stop-color="#fdff02"/><stop offset="0.4094" stop-color="#ffdb00"/><stop offset="0.4396" stop-color="#ffea00"/><stop offset="0.4623" stop-color="#faff05"/><stop offset="0.5151" stop-color="#bcff43"/><stop offset="0.5340" stop-color="#81ff7e"/><stop offset="0.5566" stop-color="#2affd5"/><stop offset="0.5679" stop-color="#1dffe2"/><stop offset="0.6057" stop-color="#5dffa2"/><stop offset="0.6208" stop-color="#54ffab"/><stop offset="0.6434" stop-color="#25ffda"/><stop offset="0.6547" stop-color="#2effd1"/><stop offset="0.6660" stop-color="#57ffa8"/><stop offset="0.6698" stop-color="#7eff81"/><stop offset="0.7038" stop-color="#9fff60"/><stop offset="0.7491" stop-color="#dcff23"/><stop offset="0.7868" stop-color="#fffc00"/><stop offset="0.8170" stop-color="#ffea00"/><stop offset="0.8434" stop-color="#f7ff08"/><stop offset="0.9000" stop-color="#7bff84"/><stop offset="0.9264" stop-color="#67ff98"/><stop offset="0.9981" stop-color="#7fff80"/></linearGradient><linearGradient id="g55" gradientUnits="objectBoundingBox"><stop offset="0.0019" stop-color="#82ff7d"/><stop offset="0.0132" stop-color="#7dff82"/><stop offset="0.0283" stop-color="#aeff51"/><stop offset="0.0472" stop-color="#e6ff19"/><stop offset="0.0774" stop-color="#fffd00"/><stop offset="0.1151" stop-color="#f5ff0a"/><stop offset="0.1679" stop-color="#beff41"/><stop offset="0.2057" stop-color="#72ff8d"/><stop offset="0.2472" stop-color="#60ff9f"/><stop offset="0.2774" stop-color="#4effb1"/><stop offset="0.3075" stop-color="#72ff8d"/><stop offset="0.3755" stop-color="#fffe00"/><stop offset="0.4057" stop-color="#ffdb00"/><stop offset="0.4358" stop-color="#ffe400"/><stop offset="0.4660" stop-color="#f9ff06"/><stop offset="0.5151" stop-color="#beff41"/><stop offset="0.5340" stop-color="#82ff7d"/><stop offset="0.5566" stop-color="#2bffd4"/><stop offset="0.5679" stop-color="#1fffe0"/><stop offset="0.6057" stop-color="#5effa1"/><stop offset="0.6208" stop-color="#55ffaa"/><stop offset="0.6434" stop-color="#24ffdb"/><stop offset="0.6547" stop-color="#2fffd0"/><stop offset="0.6660" stop-color="#5bffa4"/><stop offset="0.6698" stop-color="#80ff7f"/><stop offset="0.7566" stop-color="#93ff6c"/><stop offset="0.8321" stop-color="#c3ff3c"/><stop offset="0.8811" stop-color="#a9ff56"/><stop offset="0.9377" stop-color="#83ff7c"/><stop offset="0.9981" stop-color="#80ff7f"/></linearGradient><linearGradient id="g56" gradientUnits="objectBoundingBox"><stop offset="0.0019" stop-color="#80ff7f"/><stop offset="0.0132" stop-color="#79ff86"/><stop offset="0.0321" stop-color="#baff45"/><stop offset="0.0472" stop-color="#e4ff1b"/><stop offset="0.0774" stop-color="#ffff00"/><stop offset="0.1189" stop-color="#f7ff08"/><stop offset="0.1679" stop-color="#c3ff3c"/><stop offset="0.2019" stop-color="#74ff8b"/><stop offset="0.2283" stop-color="#74ff8b"/><stop offset="0.2811" stop-color="#63ff9c"/><stop offset="0.3189" stop-color="#8cff73"/><stop offset="0.3755" stop-color="#ffff00"/><stop offset="0.4094" stop-color="#ffd900"/><stop offset="0.4434" stop-color="#ffe600"/><stop offset="0.4774" stop-color="#f6ff09"/><stop offset="0.5151" stop-color="#c6ff39"/><stop offset="0.5340" stop-color="#8aff75"/><stop offset="0.5566" stop-color="#32ffcd"/><stop offset="0.5717" stop-color="#26ffd9"/><stop offset="0.6057" stop-color="#5affa5"/><stop offset="0.6208" stop-color="#50ffaf"/><stop offset="0.6434" stop-color="#1effe1"/><stop offset="0.6547" stop-color="#2affd5"/><stop offset="0.6660" stop-color="#58ffa7"/><stop offset="0.6698" stop-color="#80ff7f"/><stop offset="0.7566" stop-color="#81ff7e"/><stop offset="0.8434" stop-color="#8cff73"/><stop offset="0.9302" stop-color="#83ff7c"/><stop offset="0.9981" stop-color="#80ff7f"/></linearGradient><linearGradient id="g57" gradientUnits="objectBoundingBox"><stop offset="0.0019" stop-color="#7dff82"/><stop offset="0.0132" stop-color="#75ff8a"/><stop offset="0.0283" stop-color="#a7ff58"/><stop offset="0.0434" stop-color="#d8ff27"/><stop offset="0.0774" stop-color="#faff05"/><stop offset="0.1226" stop-color="#f9ff06"/><stop offset="0.1642" stop-color="#cfff30"/><stop offset="0.2019" stop-color="#72ff8d"/><stop offset="0.2208" stop-color="#75ff8a"/><stop offset="0.2472" stop-color="#7eff81"/><stop offset="0.2849" stop-color="#76ff89"/><stop offset="0.3226" stop-color="#92ff6d"/><stop offset="0.3792" stop-color="#fffe00"/><stop offset="0.4132" stop-color="#ffdc00"/><stop offset="0.4547" stop-color="#ffeb00"/><stop offset="0.4849" stop-color="#f8ff07"/><stop offset="0.5151" stop-color="#ceff31"/><stop offset="0.5340" stop-color="#93ff6c"/><stop offset="0.5566" stop-color="#3dffc2"/><stop offset="0.5679" stop-color="#2dffd2"/><stop offset="0.6057" stop-color="#57ffa8"/><stop offset="0.6245" stop-color="#43ffbc"/><stop offset="0.6434" stop-color="#19ffe6"/><stop offset="0.6547" stop-color="#26ffd9"/><stop offset="0.6660" stop-color="#56ffa9"/><stop offset="0.6698" stop-color="#80ff7f"/><stop offset="0.7566" stop-color="#80ff7f"/><stop offset="0.8434" stop-color="#80ff7f"/><stop offset="0.9302" stop-color="#80ff7f"/><stop offset="0.9981" stop-color="#80ff7f"/></linearGradient><linearGradient id="g58" gradientUnits="objectBoundingBox"><stop offset="0.0019" stop-color="#79ff86"/><stop offset="0.0132" stop-color="#70ff8f"/><stop offset="0.0283" stop-color="#a1ff5e"/><stop offset="0.0472" stop-color="#d8ff27"/><stop offset="0.0925" stop-color="#f9ff06"/><stop offset="0.1340" stop-color="#f7ff08"/><stop offset="0.1642" stop-color="#d4ff2b"/><stop offset="0.2019" stop-color="#71ff8e"/><stop offset="0.2170" stop-color="#74ff8b"/><stop offset="0.2434" stop-color="#8dff72"/><stop offset="0.3151" stop-color="#88ff77"/><stop offset="0.3377" stop-color="#a6ff59"/><stop offset="0.3792" stop-color="#f8ff07"/><stop offset="0.4245" stop-color="#ffe000"/><stop offset="0.4774" stop-color="#fff600"/><stop offset="0.5000" stop-color="#f1ff0e"/><stop offset="0.5226" stop-color="#c4ff3b"/><stop offset="0.5566" stop-color="#4affb5"/><stop offset="0.5717" stop-color="#38ffc7"/><stop offset="0.6094" stop-color="#54ffab"/><stop offset="0.6245" stop-color="#3fffc0"/><stop offset="0.6434" stop-color="#15ffea"/><stop offset="0.6547" stop-color="#23ffdc"/><stop offset="0.6660" stop-color="#54ffab"/><stop offset="0.6698" stop-color="#80ff7f"/><stop offset="0.7566" stop-color="#80ff7f"/><stop offset="0.8434" stop-color="#80ff7f"/><stop offset="0.9302" stop-color="#80ff7f"/><stop offset="0.9981" stop-color="#80ff7f"/></linearGradient><linearGradient id="g59" gradientUnits="objectBoundingBox"><stop offset="0.0019" stop-color="#76ff89"/><stop offset="0.0132" stop-color="#6bff94"/><stop offset="0.0283" stop-color="#9bff64"/><stop offset="0.0434" stop-color="#caff35"/><stop offset="0.0962" stop-color="#f5ff0a"/><stop offset="0.1340" stop-color="#fcff03"/><stop offset="0.1604" stop-color="#e0ff1f"/><stop offset="0.1830" stop-color="#a3ff5c"/><stop offset="0.2019" stop-color="#71ff8e"/><stop offset="0.2170" stop-color="#77ff88"/><stop offset="0.2434" stop-color="#99ff66"/><stop offset="0.3226" stop-color="#85ff7a"/><stop offset="0.3491" stop-color="#b6ff49"/><stop offset="0.3868" stop-color="#f8ff07"/><stop offset="0.4396" stop-color="#ffe300"/><stop offset="0.4849" stop-color="#fff400"/><stop offset="0.5038" stop-color="#f4ff0b"/><stop offset="0.5264" stop-color="#c2ff3d"/><stop offset="0.5566" stop-color="#59ffa6"/><stop offset="0.5755" stop-color="#45ffba"/><stop offset="0.6094" stop-color="#53ffac"/><stop offset="0.6283" stop-color="#33ffcc"/><stop offset="0.6434" stop-color="#14ffeb"/><stop offset="0.6547" stop-color="#23ffdc"/><stop offset="0.6660" stop-color="#54ffab"/><stop offset="0.6698" stop-color="#80ff7f"/><stop offset="0.7566" stop-color="#80ff7f"/><stop offset="0.8434" stop-color="#80ff7f"/><stop offset="0.9302" stop-color="#80ff7f"/><stop offset="0.9981" stop-color="#80ff7f"/></linearGradient><linearGradient id="g60" gradientUnits="objectBoundingBox"><stop offset="0.0019" stop-color="#73ff8c"/><stop offset="0.0132" stop-color="#67ff98"/><stop offset="0.0283" stop-color="#96ff69"/><stop offset="0.0434" stop-color="#c3ff3c"/><stop offset="0.1226" stop-color="#fffe00"/><stop offset="0.1491" stop-color="#f6ff09"/><stop offset="0.1717" stop-color="#cbff34"/><stop offset="0.1981" stop-color="#78ff87"/><stop offset="0.2094" stop-color="#71ff8e"/><stop offset="0.2434" stop-color="#a4ff5b"/><stop offset="0.2925" stop-color="#94ff6b"/><stop offset="0.3189" stop-color="#79ff86"/><stop offset="0.3340" stop-color="#86ff79"/><stop offset="0.3717" stop-color="#daff25"/><stop offset="0.4057" stop-color="#fffd00"/><stop offset="0.4547" stop-color="#ffe200"/><stop offset="0.4925" stop-color="#fff400"/><stop offset="0.5113" stop-color="#f0ff0f"/><stop offset="0.5377" stop-color="#a7ff58"/><stop offset="0.5604" stop-color="#62ff9d"/><stop offset="0.5792" stop-color="#52ffad"/><stop offset="0.6132" stop-color="#50ffaf"/><stop offset="0.6434" stop-color="#15ffea"/><stop offset="0.6547" stop-color="#24ffdb"/><stop offset="0.6660" stop-color="#55ffaa"/><stop offset="0.6698" stop-color="#80ff7f"/><stop offset="0.7566" stop-color="#80ff7f"/><stop offset="0.8434" stop-color="#80ff7f"/><stop offset="0.9302" stop-color="#80ff7f"/><stop offset="0.9981" stop-color="#80ff7f"/></linearGradient><linearGradient id="g61" gradientUnits="objectBoundingBox"><stop offset="0.0019" stop-color="#72ff8d"/><stop offset="0.0132" stop-color="#65ff9a"/><stop offset="0.0283" stop-color="#92ff6d"/><stop offset="0.0434" stop-color="#bdff42"/><stop offset="0.1226" stop-color="#fffd00"/><stop offset="0.1528" stop-color="#f6ff09"/><stop offset="0.1755" stop-color="#c3ff3c"/><stop offset="0.1981" stop-color="#7bff84"/><stop offset="0.2094" stop-color="#75ff8a"/><stop offset="0.2396" stop-color="#acff53"/><stop offset="0.2849" stop-color="#9fff60"/><stop offset="0.3189" stop-color="#6bff94"/><stop offset="0.3340" stop-color="#77ff88"/><stop offset="0.3717" stop-color="#d1ff2e"/><stop offset="0.4170" stop-color="#fffb00"/><stop offset="0.4660" stop-color="#ffdf00"/><stop offset="0.5000" stop-color="#fff600"/><stop offset="0.5151" stop-color="#efff10"/><stop offset="0.5604" stop-color="#72ff8d"/><stop offset="0.5868" stop-color="#5dffa2"/><stop offset="0.6170" stop-color="#4dffb2"/><stop offset="0.6434" stop-color="#19ffe6"/><stop offset="0.6547" stop-color="#28ffd7"/><stop offset="0.6660" stop-color="#58ffa7"/><stop offset="0.6698" stop-color="#80ff80"/><stop offset="0.7566" stop-color="#80ff7f"/><stop offset="0.8434" stop-color="#80ff7f"/><stop offset="0.9302" stop-color="#80ff7f"/><stop offset="0.9981" stop-color="#80ff7f"/></linearGradient><linearGradient id="g62" gradientUnits="objectBoundingBox"><stop offset="0.0019" stop-color="#71ff8e"/><stop offset="0.0132" stop-color="#63ff9c"/><stop offset="0.0321" stop-color="#9cff63"/><stop offset="0.0472" stop-color="#beff41"/><stop offset="0.1264" stop-color="#fffc00"/><stop offset="0.1528" stop-color="#f8ff07"/><stop offset="0.1755" stop-color="#c5ff3a"/><stop offset="0.1981" stop-color="#7fff80"/><stop offset="0.2094" stop-color="#7bff84"/><stop offset="0.2396" stop-color="#b6ff49"/><stop offset="0.2849" stop-color="#a1ff5e"/><stop offset="0.3189" stop-color="#5cffa3"/><stop offset="0.3340" stop-color="#66ff99"/><stop offset="0.3679" stop-color="#c2ff3d"/><stop offset="0.4245" stop-color="#fffb00"/><stop offset="0.4660" stop-color="#ffdd00"/><stop offset="0.4962" stop-color="#ffec00"/><stop offset="0.5151" stop-color="#f5ff0a"/><stop offset="0.5642" stop-color="#7bff84"/><stop offset="0.6057" stop-color="#5cffa3"/><stop offset="0.6283" stop-color="#3affc5"/><stop offset="0.6434" stop-color="#20ffdf"/><stop offset="0.6547" stop-color="#2effd1"/><stop offset="0.6660" stop-color="#5cffa3"/><stop offset="0.6698" stop-color="#80ff80"/><stop offset="0.7566" stop-color="#80ff80"/><stop offset="0.8434" stop-color="#80ff7f"/><stop offset="0.9302" stop-color="#80ff7f"/><stop offset="0.9981" stop-color="#80ff7f"/></linearGradient><linearGradient id="g63" gradientUnits="objectBoundingBox"><stop offset="0.0019" stop-color="#71ff8e"/><stop offset="0.0132" stop-color="#63ff9c"/><stop offset="0.0283" stop-color="#8dff72"/><stop offset="0.0434" stop-color="#b4ff4b"/><stop offset="0.1075" stop-color="#efff10"/><stop offset="0.1377" stop-color="#fffd00"/><stop offset="0.1604" stop-color="#ecff13"/><stop offset="0.1830" stop-color="#afff50"/><stop offset="0.2019" stop-color="#80ff7f"/><stop offset="0.2132" stop-color="#89ff76"/><stop offset="0.2358" stop-color="#beff41"/><stop offset="0.2660" stop-color="#b2ff4d"/><stop offset="0.2887" stop-color="#9aff65"/><stop offset="0.3189" stop-color="#4dffb2"/><stop offset="0.3302" stop-color="#50ffaf"/><stop offset="0.3679" stop-color="#bbff44"/><stop offset="0.4321" stop-color="#fff900"/><stop offset="0.4698" stop-color="#ffdd00"/><stop offset="0.5000" stop-color="#ffef00"/><stop offset="0.5151" stop-color="#f7ff08"/><stop offset="0.5679" stop-color="#83ff7c"/><stop offset="0.6208" stop-color="#4fffb0"/><stop offset="0.6434" stop-color="#28ffd7"/><stop offset="0.6547" stop-color="#35ffca"/><stop offset="0.6660" stop-color="#60ff9f"/><stop offset="0.6698" stop-color="#80ff80"/><stop offset="0.7566" stop-color="#80ff80"/><stop offset="0.8434" stop-color="#80ff80"/><stop offset="0.9302" stop-color="#80ff7f"/><stop offset="0.9981" stop-color="#80ff7f"/></linearGradient><linearGradient id="g64" gradientUnits="objectBoundingBox"><stop offset="0.0019" stop-color="#70ff8f"/><stop offset="0.0132" stop-color="#63ff9c"/><stop offset="0.0283" stop-color="#8bff74"/><stop offset="0.0434" stop-color="#b0ff4f"/><stop offset="0.1075" stop-color="#e8ff17"/><stop offset="0.1377" stop-color="#fcff03"/><stop offset="0.1642" stop-color="#e4ff1b"/><stop offset="0.1981" stop-color="#8bff74"/><stop offset="0.2094" stop-color="#8bff74"/><stop offset="0.2358" stop-color="#c7ff38"/><stop offset="0.2585" stop-color="#b8ff47"/><stop offset="0.2887" stop-color="#97ff68"/><stop offset="0.3189" stop-color="#41ffbe"/><stop offset="0.3302" stop-color="#42ffbd"/><stop offset="0.3642" stop-color="#acff53"/><stop offset="0.4019" stop-color="#dbff24"/><stop offset="0.4358" stop-color="#fffb00"/><stop offset="0.4698" stop-color="#ffe100"/><stop offset="0.5000" stop-color="#fff100"/><stop offset="0.5151" stop-color="#f7ff08"/><stop offset="0.5717" stop-color="#87ff78"/><stop offset="0.6245" stop-color="#4effb1"/><stop offset="0.6434" stop-color="#30ffcf"/><stop offset="0.6547" stop-color="#3dffc2"/><stop offset="0.6660" stop-color="#65ff9a"/><stop offset="0.6698" stop-color="#80ff80"/><stop offset="0.7566" stop-color="#80ff80"/><stop offset="0.8434" stop-color="#80ff80"/><stop offset="0.9302" stop-color="#80ff80"/><stop offset="0.9981" stop-color="#80ff80"/></linearGradient><linearGradient id="g65" gradientUnits="objectBoundingBox"><stop offset="0.0019" stop-color="#6fff90"/><stop offset="0.0132" stop-color="#62ff9d"/><stop offset="0.0434" stop-color="#acff53"/><stop offset="0.1075" stop-color="#dfff20"/><stop offset="0.1415" stop-color="#f3ff0c"/><stop offset="0.1679" stop-color="#dbff24"/><stop offset="0.1981" stop-color="#92ff6d"/><stop offset="0.2094" stop-color="#92ff6d"/><stop offset="0.2358" stop-color="#cdff32"/><stop offset="0.2887" stop-color="#93ff6c"/><stop offset="0.3189" stop-color="#38ffc7"/><stop offset="0.3302" stop-color="#39ffc6"/><stop offset="0.3491" stop-color="#77ff88"/><stop offset="0.3679" stop-color="#adff52"/><stop offset="0.4434" stop-color="#fffb00"/><stop offset="0.4774" stop-color="#ffe800"/><stop offset="0.5113" stop-color="#f8ff07"/><stop offset="0.5792" stop-color="#84ff7b"/><stop offset="0.6283" stop-color="#4dffb2"/><stop offset="0.6472" stop-color="#39ffc6"/><stop offset="0.6623" stop-color="#5bffa4"/><stop offset="0.6698" stop-color="#80ff80"/><stop offset="0.7566" stop-color="#80ff80"/><stop offset="0.8434" stop-color="#80ff80"/><stop offset="0.9302" stop-color="#80ff80"/><stop offset="0.9981" stop-color="#80ff80"/></linearGradient><linearGradient id="g66" gradientUnits="objectBoundingBox"><stop offset="0.0019" stop-color="#6eff91"/><stop offset="0.0132" stop-color="#61ff9e"/><stop offset="0.0434" stop-color="#a7ff58"/><stop offset="0.1113" stop-color="#d7ff28"/><stop offset="0.1453" stop-color="#e9ff16"/><stop offset="0.1717" stop-color="#d1ff2e"/><stop offset="0.2019" stop-color="#95ff6a"/><stop offset="0.2170" stop-color="#a7ff58"/><stop offset="0.2321" stop-color="#c9ff36"/><stop offset="0.2472" stop-color="#bfff40"/><stop offset="0.2736" stop-color="#a0ff5f"/><stop offset="0.2925" stop-color="#84ff7b"/><stop offset="0.3189" stop-color="#33ffcc"/><stop offset="0.3302" stop-color="#34ffcb"/><stop offset="0.3642" stop-color="#9fff60"/><stop offset="0.4509" stop-color="#ffff00"/><stop offset="0.4849" stop-color="#fff500"/><stop offset="0.5075" stop-color="#f5ff0a"/><stop offset="0.5868" stop-color="#7fff80"/><stop offset="0.6321" stop-color="#4cffb3"/><stop offset="0.6472" stop-color="#40ffbf"/><stop offset="0.6623" stop-color="#5fffa0"/><stop offset="0.6698" stop-color="#80ff80"/><stop offset="0.7566" stop-color="#80ff80"/><stop offset="0.8434" stop-color="#80ff80"/><stop offset="0.9302" stop-color="#80ff80"/><stop offset="0.9981" stop-color="#80ff80"/></linearGradient><linearGradient id="g67" gradientUnits="objectBoundingBox"><stop offset="0.0019" stop-color="#6bff94"/><stop offset="0.0132" stop-color="#5fffa0"/><stop offset="0.0434" stop-color="#a0ff5f"/><stop offset="0.1302" stop-color="#d8ff27"/><stop offset="0.1642" stop-color="#d7ff28"/><stop offset="0.2019" stop-color="#9aff65"/><stop offset="0.2170" stop-color="#a6ff59"/><stop offset="0.2321" stop-color="#bfff40"/><stop offset="0.2472" stop-color="#afff50"/><stop offset="0.2698" stop-color="#95ff6a"/><stop offset="0.2887" stop-color="#86ff79"/><stop offset="0.3189" stop-color="#32ffcd"/><stop offset="0.3302" stop-color="#33ffcc"/><stop offset="0.3642" stop-color="#98ff67"/><stop offset="0.4509" stop-color="#f0ff0f"/><stop offset="0.4849" stop-color="#fdff02"/><stop offset="0.5264" stop-color="#d1ff2e"/><stop offset="0.5981" stop-color="#75ff8a"/><stop offset="0.6434" stop-color="#46ffb9"/><stop offset="0.6585" stop-color="#58ffa7"/><stop offset="0.6698" stop-color="#80ff80"/><stop offset="0.7566" stop-color="#80ff80"/><stop offset="0.8434" stop-color="#80ff80"/><stop offset="0.9302" stop-color="#80ff80"/><stop offset="0.9981" stop-color="#80ff80"/></linearGradient><linearGradient id="g68" gradientUnits="objectBoundingBox"><stop offset="0.0019" stop-color="#69ff96"/><stop offset="0.0132" stop-color="#5dffa2"/><stop offset="0.0434" stop-color="#9aff65"/><stop offset="0.1264" stop-color="#c7ff38"/><stop offset="0.1642" stop-color="#d1ff2e"/><stop offset="0.2057" stop-color="#9bff64"/><stop offset="0.2358" stop-color="#abff54"/><stop offset="0.2623" stop-color="#86ff79"/><stop offset="0.2887" stop-color="#7fff80"/><stop offset="0.3189" stop-color="#37ffc8"/><stop offset="0.3302" stop-color="#37ffc8"/><stop offset="0.3642" stop-color="#92ff6d"/><stop offset="0.4094" stop-color="#baff45"/><stop offset="0.4774" stop-color="#f0ff0f"/><stop offset="0.5075" stop-color="#e0ff1f"/><stop offset="0.5943" stop-color="#79ff86"/><stop offset="0.6472" stop-color="#4dffb2"/><stop offset="0.6660" stop-color="#6eff91"/><stop offset="0.6698" stop-color="#80ff80"/><stop offset="0.7566" stop-color="#80ff80"/><stop offset="0.8434" stop-color="#80ff80"/><stop offset="0.9302" stop-color="#80ff80"/><stop offset="0.9981" stop-color="#80ff80"/></linearGradient><linearGradient id="g69" gradientUnits="objectBoundingBox"><stop offset="0.0019" stop-color="#67ff98"/><stop offset="0.0132" stop-color="#5dffa2"/><stop offset="0.0472" stop-color="#98ff67"/><stop offset="0.1302" stop-color="#bcff43"/><stop offset="0.1679" stop-color="#c8ff37"/><stop offset="0.2132" stop-color="#98ff67"/><stop offset="0.2358" stop-color="#92ff6d"/><stop offset="0.2585" stop-color="#73ff8c"/><stop offset="0.2887" stop-color="#7aff85"/><stop offset="0.3226" stop-color="#3dffc2"/><stop offset="0.3377" stop-color="#4effb1"/><stop offset="0.3642" stop-color="#8fff70"/><stop offset="0.4509" stop-color="#d3ff2c"/><stop offset="0.4887" stop-color="#e6ff19"/><stop offset="0.5377" stop-color="#b2ff4d"/><stop offset="0.6170" stop-color="#6aff95"/><stop offset="0.6472" stop-color="#54ffab"/><stop offset="0.6660" stop-color="#70ff8f"/><stop offset="0.6698" stop-color="#80ff80"/><stop offset="0.7566" stop-color="#80ff80"/><stop offset="0.8434" stop-color="#80ff80"/><stop offset="0.9302" stop-color="#80ff80"/><stop offset="0.9981" stop-color="#80ff80"/></linearGradient><linearGradient id="g70" gradientUnits="objectBoundingBox"><stop offset="0.0019" stop-color="#68ff97"/><stop offset="0.0132" stop-color="#5effa1"/><stop offset="0.0472" stop-color="#94ff6b"/><stop offset="0.1340" stop-color="#b4ff4b"/><stop offset="0.1717" stop-color="#c0ff3f"/><stop offset="0.2396" stop-color="#73ff8c"/><stop offset="0.2585" stop-color="#60ff9f"/><stop offset="0.2887" stop-color="#77ff88"/><stop offset="0.3226" stop-color="#4affb5"/><stop offset="0.3377" stop-color="#58ffa7"/><stop offset="0.3679" stop-color="#91ff6e"/><stop offset="0.4547" stop-color="#caff35"/><stop offset="0.4925" stop-color="#e0ff1f"/><stop offset="0.5792" stop-color="#87ff78"/><stop offset="0.6472" stop-color="#5bffa4"/><stop offset="0.6660" stop-color="#73ff8c"/><stop offset="0.6698" stop-color="#80ff80"/><stop offset="0.7566" stop-color="#80ff80"/><stop offset="0.8434" stop-color="#80ff80"/><stop offset="0.9302" stop-color="#80ff80"/><stop offset="0.9981" stop-color="#80ff80"/></linearGradient><linearGradient id="g71" gradientUnits="objectBoundingBox"><stop offset="0.0019" stop-color="#6bff94"/><stop offset="0.0170" stop-color="#65ff9a"/><stop offset="0.0472" stop-color="#92ff6d"/><stop offset="0.1340" stop-color="#abff54"/><stop offset="0.1755" stop-color="#b6ff49"/><stop offset="0.2321" stop-color="#6fff90"/><stop offset="0.2547" stop-color="#53ffac"/><stop offset="0.2887" stop-color="#77ff88"/><stop offset="0.3264" stop-color="#59ffa6"/><stop offset="0.3717" stop-color="#93ff6c"/><stop offset="0.4547" stop-color="#c1ff3e"/><stop offset="0.4925" stop-color="#deff21"/><stop offset="0.5264" stop-color="#b7ff48"/><stop offset="0.5830" stop-color="#86ff79"/><stop offset="0.6472" stop-color="#64ff9b"/><stop offset="0.6736" stop-color="#80ff80"/><stop offset="0.7604" stop-color="#80ff80"/><stop offset="0.8472" stop-color="#80ff80"/><stop offset="0.9340" stop-color="#80ff80"/><stop offset="0.9981" stop-color="#80ff80"/></linearGradient><linearGradient id="g72" gradientUnits="objectBoundingBox"><stop offset="0.0019" stop-color="#6eff91"/><stop offset="0.0170" stop-color="#69ff96"/><stop offset="0.0472" stop-color="#92ff6d"/><stop offset="0.1340" stop-color="#a4ff5b"/><stop offset="0.1792" stop-color="#adff52"/><stop offset="0.2208" stop-color="#7cff83"/><stop offset="0.2509" stop-color="#4fffb0"/><stop offset="0.2736" stop-color="#69ff96"/><stop offset="0.2962" stop-color="#7aff85"/><stop offset="0.3264" stop-color="#67ff98"/><stop offset="0.3755" stop-color="#95ff6a"/><stop offset="0.4509" stop-color="#b6ff49"/><stop offset="0.4925" stop-color="#deff21"/><stop offset="0.5189" stop-color="#c0ff3f"/><stop offset="0.5566" stop-color="#97ff68"/><stop offset="0.6434" stop-color="#6cff93"/><stop offset="0.6811" stop-color="#80ff80"/><stop offset="0.7679" stop-color="#80ff80"/><stop offset="0.8547" stop-color="#80ff80"/><stop offset="0.9415" stop-color="#80ff80"/><stop offset="0.9981" stop-color="#80ff80"/></linearGradient><linearGradient id="g73" gradientUnits="objectBoundingBox"><stop offset="0.0019" stop-color="#72ff8d"/><stop offset="0.0170" stop-color="#6eff91"/><stop offset="0.0472" stop-color="#92ff6d"/><stop offset="0.1340" stop-color="#9eff61"/><stop offset="0.1830" stop-color="#a3ff5c"/><stop offset="0.2208" stop-color="#7bff84"/><stop offset="0.2472" stop-color="#55ffaa"/><stop offset="0.2698" stop-color="#67ff98"/><stop offset="0.2925" stop-color="#80ff7f"/><stop offset="0.3340" stop-color="#77ff88"/><stop offset="0.3792" stop-color="#95ff6a"/><stop offset="0.4509" stop-color="#b0ff4f"/><stop offset="0.4925" stop-color="#dbff24"/><stop offset="0.5151" stop-color="#c5ff3a"/><stop offset="0.5491" stop-color="#9bff64"/><stop offset="0.6358" stop-color="#76ff89"/><stop offset="0.6623" stop-color="#7dff82"/><stop offset="0.7491" stop-color="#80ff80"/><stop offset="0.8358" stop-color="#80ff80"/><stop offset="0.9226" stop-color="#80ff80"/><stop offset="0.9981" stop-color="#80ff80"/></linearGradient><linearGradient id="g74" gradientUnits="objectBoundingBox"><stop offset="0.0019" stop-color="#76ff89"/><stop offset="0.0208" stop-color="#76ff89"/><stop offset="0.0509" stop-color="#93ff6c"/><stop offset="0.1377" stop-color="#9bff64"/><stop offset="0.1906" stop-color="#9aff65"/><stop offset="0.2509" stop-color="#60ff9f"/><stop offset="0.2962" stop-color="#85ff7a"/><stop offset="0.3377" stop-color="#83ff7c"/><stop offset="0.4094" stop-color="#9aff65"/><stop offset="0.4547" stop-color="#aeff51"/><stop offset="0.4925" stop-color="#d5ff2a"/><stop offset="0.5151" stop-color="#c0ff3f"/><stop offset="0.5528" stop-color="#98ff67"/><stop offset="0.6396" stop-color="#7bff84"/><stop offset="0.6660" stop-color="#85ff7a"/><stop offset="0.7528" stop-color="#80ff80"/><stop offset="0.8396" stop-color="#80ff80"/><stop offset="0.9264" stop-color="#80ff80"/><stop offset="0.9981" stop-color="#80ff80"/></linearGradient><linearGradient id="g75" gradientUnits="objectBoundingBox"><stop offset="0.0019" stop-color="#7aff85"/><stop offset="0.0208" stop-color="#7aff85"/><stop offset="0.0509" stop-color="#93ff6c"/><stop offset="0.1377" stop-color="#98ff67"/><stop offset="0.1981" stop-color="#93ff6c"/><stop offset="0.2509" stop-color="#6eff91"/><stop offset="0.3000" stop-color="#8aff75"/><stop offset="0.3491" stop-color="#8dff72"/><stop offset="0.4358" stop-color="#9dff62"/><stop offset="0.4962" stop-color="#cbff34"/><stop offset="0.5491" stop-color="#99ff66"/><stop offset="0.6358" stop-color="#82ff7d"/><stop offset="0.6660" stop-color="#88ff77"/><stop offset="0.6774" stop-color="#80ff80"/><stop offset="0.7642" stop-color="#80ff80"/><stop offset="0.8509" stop-color="#80ff80"/><stop offset="0.9377" stop-color="#80ff80"/><stop offset="0.9981" stop-color="#80ff80"/></linearGradient><linearGradient id="g76" gradientUnits="objectBoundingBox"><stop offset="0.0019" stop-color="#7eff81"/><stop offset="0.0208" stop-color="#7eff81"/><stop offset="0.0547" stop-color="#94ff6b"/><stop offset="0.1415" stop-color="#96ff69"/><stop offset="0.2132" stop-color="#8dff72"/><stop offset="0.2547" stop-color="#7cff83"/><stop offset="0.3038" stop-color="#8dff72"/><stop offset="0.3906" stop-color="#95ff6a"/><stop offset="0.4585" stop-color="#a5ff5a"/><stop offset="0.4962" stop-color="#bfff40"/><stop offset="0.5528" stop-color="#96ff69"/><stop offset="0.6396" stop-color="#85ff7a"/><stop offset="0.6660" stop-color="#8bff74"/><stop offset="0.6736" stop-color="#80ff80"/><stop offset="0.7604" stop-color="#80ff80"/><stop offset="0.8472" stop-color="#80ff80"/><stop offset="0.9340" stop-color="#80ff80"/><stop offset="0.9981" stop-color="#80ff80"/></linearGradient><linearGradient id="g77" gradientUnits="objectBoundingBox"><stop offset="0.0019" stop-color="#81ff7e"/><stop offset="0.0245" stop-color="#84ff7b"/><stop offset="0.0623" stop-color="#94ff6b"/><stop offset="0.1491" stop-color="#95ff6a"/><stop offset="0.2358" stop-color="#88ff77"/><stop offset="0.3226" stop-color="#8fff70"/><stop offset="0.4094" stop-color="#96ff69"/><stop offset="0.4698" stop-color="#a7ff58"/><stop offset="0.5038" stop-color="#b0ff4f"/><stop offset="0.5604" stop-color="#94ff6b"/><stop offset="0.6472" stop-color="#89ff76"/><stop offset="0.6660" stop-color="#8dff72"/><stop offset="0.6698" stop-color="#80ff80"/><stop offset="0.7566" stop-color="#80ff80"/><stop offset="0.8434" stop-color="#80ff80"/><stop offset="0.9302" stop-color="#80ff80"/><stop offset="0.9981" stop-color="#80ff80"/></linearGradient></defs><rect x="42" y="34" width="265" height="1" fill="url(#g0)"/><rect x="42" y="35" width="265" height="1" fill="url(#g1)"/><rect x="42" y="36" width="265" height="1" fill="url(#g2)"/><rect x="42" y="37" width="265" height="1" fill="url(#g3)"/><rect x="42" y="38" width="265" height="1" fill="url(#g4)"/><rect x="42" y="39" width="265" height="1" fill="url(#g5)"/><rect x="42" y="40" width="265" height="1" fill="url(#g6)"/><rect x="42" y="41" width="265" height="1" fill="url(#g7)"/><rect x="42" y="42" width="265" height="1" fill="url(#g8)"/><rect x="42" y="43" width="265" height="1" fill="url(#g9)"/><rect x="42" y="44" width="265" height="1" fill="url(#g10)"/><rect x="42" y="45" width="265" height="1" fill="url(#g11)"/><rect x="42" y="46" width="265" height="1" fill="url(#g12)"/><rect x="42" y="47" width="265" height="1" fill="url(#g13)"/><rect x="42" y="48" width="265" height="1" fill="url(#g14)"/><rect x="42" y="49" width="265" height="1" fill="url(#g15)"/><rect x="42" y="50" width="265" height="1" fill="url(#g16)"/><rect x="42" y="51" width="265" height="1" fill="url(#g17)"/><rect x="42" y="52" width="265" height="1" fill="url(#g18)"/><rect x="42" y="53" width="265" height="1" fill="url(#g19)"/><rect x="42" y="54" width="265" height="1" fill="url(#g20)"/><rect x="42" y="55" width="265" height="1" fill="url(#g21)"/><rect x="42" y="56" width="265" height="1" fill="url(#g22)"/><rect x="42" y="57" width="265" height="1" fill="url(#g23)"/><rect x="42" y="58" width="265" height="1" fill="url(#g24)"/><rect x="42" y="59" width="265" height="1" fill="url(#g25)"/><rect x="42" y="60" width="265" height="1" fill="url(#g26)"/><rect x="42" y="61" width="265" height="1" fill="url(#g27)"/><rect x="42" y="62" width="265" height="1" fill="url(#g28)"/><rect x="42" y="63" width="265" height="1" fill="url(#g29)"/><rect x="42" y="64" width="265" height="1" fill="url(#g30)"/><rect x="42" y="65" width="265" height="1" fill="url(#g31)"/><rect x="42" y="66" width="265" height="1" fill="url(#g32)"/><rect x="42" y="67" width="265" height="1" fill="url(#g33)"/><rect x="42" y="68" width="265" height="1" fill="url(#g34)"/><rect x="42" y="69" width="265" height="1" fill="url(#g35)"/><rect x="42" y="70" width="265" height="1" fill="url(#g36)"/><rect x="42" y="71" width="265" height="1" fill="url(#g37)"/><rect x="42" y="72" width="265" height="1" fill="url(#g38)"/><rect x="42" y="73" width="265" height="1" fill="url(#g39)"/><rect x="42" y="74" width="265" height="1" fill="url(#g40)"/><rect x="42" y="75" width="265" height="1" fill="url(#g41)"/><rect x="42" y="76" width="265" height="1" fill="url(#g42)"/><rect x="42" y="77" width="265" height="1" fill="url(#g43)"/><rect x="42" y="78" width="265" height="1" fill="url(#g44)"/><rect x="42" y="79" width="265" height="1" fill="url(#g45)"/><rect x="42" y="80" width="265" height="1" fill="url(#g46)"/><rect x="42" y="81" width="265" height="1" fill="url(#g47)"/><rect x="42" y="82" width="265" height="1" fill="url(#g48)"/><rect x="42" y="83" width="265" height="1" fill="url(#g49)"/><rect x="42" y="84" width="265" height="1" fill="url(#g50)"/><rect x="42" y="85" width="265" height="1" fill="url(#g51)"/><rect x="42" y="86" width="265" height="1" fill="url(#g52)"/><rect x="42" y="87" width="265" height="1" fill="url(#g53)"/><rect x="42" y="88" width="265" height="1" fill="url(#g54)"/><rect x="42" y="89" width="265" height="1" fill="url(#g55)"/><rect x="42" y="90" width="265" height="1" fill="url(#g56)"/><rect x="42" y="91" width="265" height="1" fill="url(#g57)"/><rect x="42" y="92" width="265" height="1" fill="url(#g58)"/><rect x="42" y="93" width="265" height="1" fill="url(#g59)"/><rect x="42" y="94" width="265" height="1" fill="url(#g60)"/><rect x="42" y="95" width="265" height="1" fill="url(#g61)"/><rect x="42" y="96" width="265" height="1" fill="url(#g62)"/><rect x="42" y="97" width="265" height="1" fill="url(#g63)"/><rect x="42" y="98" width="265" height="1" fill="url(#g64)"/><rect x="42" y="99" width="265" height="1" fill="url(#g65)"/><rect x="42" y="100" width="265" height="1" fill="url(#g66)"/><rect x="42" y="101" width="265" height="1" fill="url(#g67)"/><rect x="42" y="102" width="265" height="1" fill="url(#g68)"/><rect x="42" y="103" width="265" height="1" fill="url(#g69)"/><rect x="42" y="104" width="265" height="1" fill="url(#g70)"/><rect x="42" y="105" width="265" height="1" fill="url(#g71)"/><rect x="42" y="106" width="265" height="1" fill="url(#g72)"/><rect x="42" y="107" width="265" height="1" fill="url(#g73)"/><rect x="42" y="108" width="265" height="1" fill="url(#g74)"/><rect x="42" y="109" width="265" height="1" fill="url(#g75)"/><rect x="42" y="110" width="265" height="1" fill="url(#g76)"/><rect x="42" y="111" width="265" height="1" fill="url(#g77)"/><line x1="218.6" y1="34.5" x2="218.6" y2="111.5" stroke="#000" stroke-opacity="0.38" stroke-width="1.2"/><line x1="215.8" y1="57.3" x2="218.4" y2="57.3" stroke="#000" stroke-opacity="0.45" stroke-width="1"/><line x1="215.8" y1="87.5" x2="218.4" y2="87.5" stroke="#000" stroke-opacity="0.45" stroke-width="1"/><rect x="41.4" y="34" width="265.9" height="78.2" fill="none" stroke="#000" stroke-width="1.4"/><line x1="38.2" y1="41.3" x2="40.8" y2="41.3" stroke="#888" stroke-width="1.1"/><text transform="matrix(0.5637 0 0 0.5161 22.695 44.497)" font-size="20" font-family="Liberation Sans, sans-serif" font-weight="bold" fill="#000">15</text><line x1="38.2" y1="64.9" x2="40.8" y2="64.9" stroke="#888" stroke-width="1.1"/><text transform="matrix(0.5757 0 0 0.5442 22.680 68.491)" font-size="20" font-family="Liberation Sans, sans-serif" font-weight="bold" fill="#000">10</text><line x1="38.2" y1="88.4" x2="40.8" y2="88.4" stroke="#888" stroke-width="1.1"/><text transform="matrix(0.5930 0 0 0.5305 28.744 91.594)" font-size="20" font-family="Liberation Sans, sans-serif" font-weight="bold" fill="#000">5</text><line x1="38.2" y1="112.0" x2="40.8" y2="112.0" stroke="#888" stroke-width="1.1"/><text transform="matrix(0.6316 0 0 0.5230 28.595 115.895)" font-size="20" font-family="Liberation Sans, sans-serif" font-weight="bold" fill="#000">0</text><line x1="41.5" y1="112.7" x2="41.5" y2="115.2" stroke="#999" stroke-width="1.1"/><text transform="matrix(0.6737 0 0 0.5230 38.461 127.395)" font-size="20" font-family="Liberation Sans, sans-serif" font-weight="bold" fill="#000">0</text><line x1="85.8" y1="112.7" x2="85.8" y2="115.2" stroke="#999" stroke-width="1.1"/><text transform="matrix(0.4624 0 0 0.5382 83.122 127.500)" font-size="20" font-family="Liberation Sans, sans-serif" font-weight="bold" fill="#000">1</text><line x1="130.2" y1="112.7" x2="130.2" y2="115.2" stroke="#999" stroke-width="1.1"/><text transform="matrix(0.6250 0 0 0.5305 126.763 127.500)" font-size="20" font-family="Liberation Sans, sans-serif" font-weight="bold" fill="#000">2</text><line x1="174.5" y1="112.7" x2="174.5" y2="115.2" stroke="#999" stroke-width="1.1"/><text transform="matrix(0.6030 0 0 0.5211 171.229 127.370)" font-size="20" font-family="Liberation Sans, sans-serif" font-weight="bold" fill="#000">3</text><line x1="218.8" y1="112.7" x2="218.8" y2="115.2" stroke="#999" stroke-width="1.1"/><text transform="matrix(0.5981 0 0 0.5382 215.221 127.500)" font-size="20" font-family="Liberation Sans, sans-serif" font-weight="bold" fill="#000">4</text><line x1="263.1" y1="112.7" x2="263.1" y2="115.2" stroke="#999" stroke-width="1.1"/><text transform="matrix(0.5528 0 0 0.5305 260.168 127.394)" font-size="20" font-family="Liberation Sans, sans-serif" font-weight="bold" fill="#000">5</text><line x1="307.5" y1="112.7" x2="307.5" y2="115.2" stroke="#999" stroke-width="1.1"/><text transform="matrix(0.6321 0 0 0.5230 303.926 127.395)" font-size="20" font-family="Liberation Sans, sans-serif" font-weight="bold" fill="#000">6</text><line x1="308" y1="57.4" x2="311" y2="57.4" stroke="#777" stroke-width="1.1"/><text transform="matrix(0.5444 0 0 0.5371 314.964 62.593)" font-size="20" font-family="Liberation Sans, sans-serif" font-weight="bold" fill="#000">0.5</text><line x1="308" y1="87.5" x2="311" y2="87.5" stroke="#777" stroke-width="1.1"/><text transform="matrix(0.5444 0 0 0.5088 314.964 92.498)" font-size="20" font-family="Liberation Sans, sans-serif" font-weight="bold" fill="#000">0.1</text><line x1="308" y1="112.5" x2="311" y2="112.5" stroke="#777" stroke-width="1.1"/><text transform="matrix(0.5684 0 0 0.4806 315.145 116.204)" font-size="20" font-family="Liberation Sans, sans-serif" font-weight="bold" fill="#000">0</text><line x1="308" y1="35.3" x2="310.5" y2="35.3" stroke="#555" stroke-width="0.8"/><text transform="matrix(0.5831 0 0 0.5791 48.171 104.297)" font-size="20" font-family="Liberation Sans, sans-serif" fill="#111" stroke="#111" stroke-width="0.774" stroke-linejoin="round">(a)</text><text transform="matrix(0.5786 0 0 0.5630 224.577 104.064)" font-size="20" font-family="Liberation Sans, sans-serif" fill="#111" stroke="#111" stroke-width="0.788" stroke-linejoin="round">(b)</text><text transform="matrix(0.7389 0 0 0.7828 160.361 144.351)" font-size="20" font-family="Liberation Sans, sans-serif" fill="#000">CEP (<tspan font-family="Liberation Serif, serif" font-style="italic">π</tspan><tspan font-family="Liberation Sans, sans-serif">)</tspan></text><text transform="matrix(0 -0.7961 0.7828 0 13.751 95.835)" font-size="20" font-family="Liberation Sans, sans-serif" fill="#000">p (a.u.)</text><text transform="matrix(0 -0.7861 0.7936 0 345.507 115.297)" font-size="20" font-family="Liberation Sans, sans-serif" fill="#000">Energy (eV)</text><rect x="43.1" y="159.0" width="265.9" height="77.9" fill="none" stroke="#111" stroke-width="1.8"/><line x1="39.7" y1="166.9" x2="42.5" y2="166.9" stroke="#555" stroke-width="0.9"/><line x1="309.7" y1="166.9" x2="312.6" y2="166.9" stroke="#555" stroke-width="0.9"/><text transform="matrix(0.5382 0 0 0.5088 22.669 170.198)" font-size="20" font-family="Liberation Sans, sans-serif" font-weight="bold" fill="#000">0.2</text><line x1="39.7" y1="182.4" x2="42.5" y2="182.4" stroke="#555" stroke-width="0.9"/><line x1="309.7" y1="182.4" x2="312.6" y2="182.4" stroke="#555" stroke-width="0.9"/><text transform="matrix(0.5217 0 0 0.5088 22.683 185.598)" font-size="20" font-family="Liberation Sans, sans-serif" font-weight="bold" fill="#000">0.1</text><line x1="39.7" y1="198.0" x2="42.5" y2="198.0" stroke="#555" stroke-width="0.9"/><line x1="309.7" y1="198.0" x2="312.6" y2="198.0" stroke="#555" stroke-width="0.9"/><text transform="matrix(0.5684 0 0 0.5230 29.245 201.295)" font-size="20" font-family="Liberation Sans, sans-serif" font-weight="bold" fill="#000">0</text><line x1="39.7" y1="213.6" x2="42.5" y2="213.6" stroke="#555" stroke-width="0.9"/><line x1="309.7" y1="213.6" x2="312.6" y2="213.6" stroke="#555" stroke-width="0.9"/><text transform="matrix(0.5196 0 0 0.4806 19.984 217.504)" font-size="20" font-family="Liberation Sans, sans-serif" font-weight="bold" fill="#000">-0.1</text><line x1="39.7" y1="229.1" x2="42.5" y2="229.1" stroke="#555" stroke-width="0.9"/><line x1="309.7" y1="229.1" x2="312.6" y2="229.1" stroke="#555" stroke-width="0.9"/><text transform="matrix(0.5297 0 0 0.5088 19.976 233.898)" font-size="20" font-family="Liberation Sans, sans-serif" font-weight="bold" fill="#000">-0.2</text><line x1="58.5" y1="156.4" x2="58.5" y2="158.2" stroke="#555" stroke-width="0.9"/><text transform="matrix(0.8447 0 0 0.6007 45.424 250.480)" font-size="20" font-family="Liberation Sans, sans-serif" font-weight="bold" fill="#000">0.8</text><line x1="93.2" y1="156.4" x2="93.2" y2="158.2" stroke="#555" stroke-width="0.9"/><text transform="matrix(0.6129 0 0 0.6182 88.234 250.600)" font-size="20" font-family="Liberation Sans, sans-serif" font-weight="bold" fill="#000">1</text><line x1="127.9" y1="156.4" x2="127.9" y2="158.2" stroke="#555" stroke-width="0.9"/><text transform="matrix(0.7883 0 0 0.6093 115.315 250.600)" font-size="20" font-family="Liberation Sans, sans-serif" font-weight="bold" fill="#000">1.2</text><line x1="162.6" y1="156.4" x2="162.6" y2="158.2" stroke="#555" stroke-width="0.9"/><text transform="matrix(0.7788 0 0 0.6182 150.426 250.600)" font-size="20" font-family="Liberation Sans, sans-serif" font-weight="bold" fill="#000">1.4</text><line x1="197.3" y1="156.4" x2="197.3" y2="158.2" stroke="#555" stroke-width="0.9"/><text transform="matrix(0.7969 0 0 0.6007 185.004 250.480)" font-size="20" font-family="Liberation Sans, sans-serif" font-weight="bold" fill="#000">1.6</text><line x1="232.0" y1="156.4" x2="232.0" y2="158.2" stroke="#555" stroke-width="0.9"/><text transform="matrix(0.7900 0 0 0.6007 219.613 250.480)" font-size="20" font-family="Liberation Sans, sans-serif" font-weight="bold" fill="#000">1.8</text><line x1="266.7" y1="156.4" x2="266.7" y2="158.2" stroke="#555" stroke-width="0.9"/><text transform="matrix(0.8021 0 0 0.6093 261.439 250.600)" font-size="20" font-family="Liberation Sans, sans-serif" font-weight="bold" fill="#000">2</text><line x1="301.4" y1="156.4" x2="301.4" y2="158.2" stroke="#555" stroke-width="0.9"/><text transform="matrix(0.8175 0 0 0.6093 288.828 250.600)" font-size="20" font-family="Liberation Sans, sans-serif" font-weight="bold" fill="#000">2.2</text><text transform="matrix(0.5481 0 0 0.5630 51.915 176.064)" font-size="20" font-family="Liberation Sans, sans-serif" fill="#111" stroke="#111" stroke-width="0.810" stroke-linejoin="round">(c)</text><text transform="matrix(0 -0.8288 0.7821 0 12.354 235.241)" font-size="20" font-family="Liberation Sans, sans-serif" fill="#000">Asymmetry</text><text transform="matrix(0.8337 0 0 0.7713 119.017 269.084)" font-size="20" font-family="Liberation Sans, sans-serif" fill="#000">Wavelength (<tspan font-family="Liberation Serif, serif" font-style="italic">μ</tspan><tspan font-family="Liberation Sans, sans-serif">m)</tspan></text><path d="M44.7 197.8 L51.0 197.0 L59.0 196.1 L66.4 194.9 L73.9 195.5 L81.5 198.3 L89.1 201.3 L97.1 202.9 L104.6 201.9 L112.6 198.7 L119.5 195.4 L127.1 193.6 L135.0 192.3 L142.1 191.7 L150.0 191.4 L157.1 191.0 L164.4 190.9 L173.1 195.3 L180.3 201.8 L187.3 211.2 L194.4 220.9 L202.1 229.4 L210.0 230.3 L218.1 224.3 L225.7 214.3 L232.8 202.0 L240.6 191.0 L248.4 180.0 L255.6 172.0 L263.6 167.0 L270.7 165.4 L278.3 168.7 L286.3 174.5 L293.8 184.2 L301.3 195.3 L309.0 206.8" fill="none" stroke="#f00" stroke-width="1.35" stroke-linejoin="round"/><path d="M49.3 197.0h3.4M51.0 195.4v3.2M57.3 196.1h3.4M59.0 194.5v3.2M64.7 194.9h3.4M66.4 193.3v3.2M72.2 195.5h3.4M73.9 193.9v3.2M79.8 198.3h3.4M81.5 196.7v3.2M87.4 201.3h3.4M89.1 199.7v3.2M95.4 202.9h3.4M97.1 201.3v3.2M102.9 201.9h3.4M104.6 200.3v3.2M110.9 198.7h3.4M112.6 197.1v3.2M117.8 195.4h3.4M119.5 193.8v3.2M125.4 193.6h3.4M127.1 192.0v3.2M133.3 192.3h3.4M135.0 190.7v3.2M140.4 191.7h3.4M142.1 190.1v3.2M148.3 191.4h3.4M150.0 189.8v3.2M155.4 191.0h3.4M157.1 189.4v3.2M162.7 190.9h3.4M164.4 189.3v3.2M171.4 195.3h3.4M173.1 193.7v3.2M178.6 201.8h3.4M180.3 200.2v3.2M185.6 211.2h3.4M187.3 209.6v3.2M192.7 220.9h3.4M194.4 219.3v3.2M200.4 229.4h3.4M202.1 227.8v3.2M208.3 230.3h3.4M210.0 228.7v3.2M216.4 224.3h3.4M218.1 222.7v3.2M224.0 214.3h3.4M225.7 212.7v3.2M231.1 202.0h3.4M232.8 200.4v3.2M238.9 191.0h3.4M240.6 189.4v3.2M246.7 180.0h3.4M248.4 178.4v3.2M253.9 172.0h3.4M255.6 170.4v3.2M261.9 167.0h3.4M263.6 165.4v3.2M269.0 165.4h3.4M270.7 163.8v3.2M276.6 168.7h3.4M278.3 167.1v3.2M284.6 174.5h3.4M286.3 172.9v3.2M292.1 184.2h3.4M293.8 182.6v3.2M299.6 195.3h3.4M301.3 193.7v3.2" stroke="#f00" stroke-width="1.3"/></svg></body></html>
